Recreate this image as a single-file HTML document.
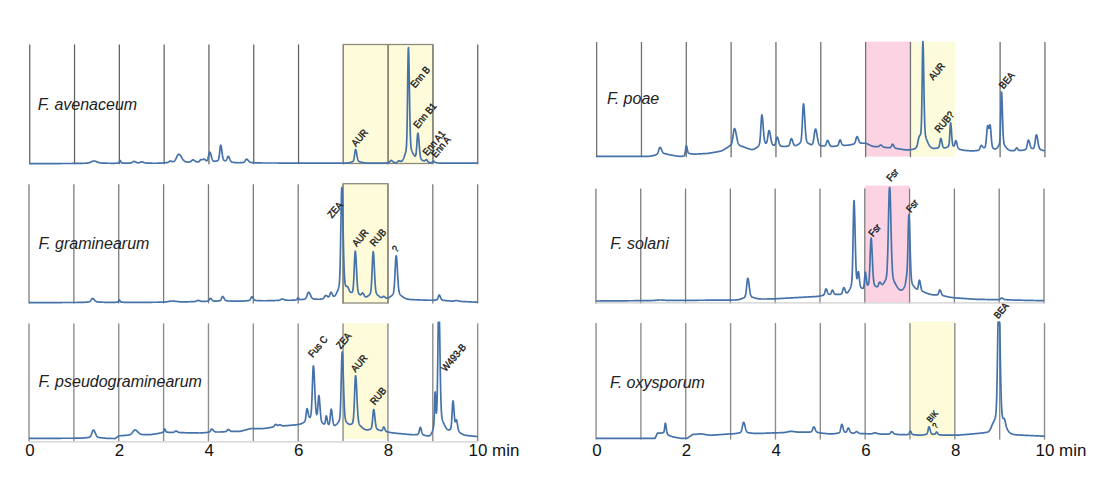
<!DOCTYPE html>
<html><head><meta charset="utf-8"><style>html,body{margin:0;padding:0;background:#fff;}svg{display:block;}</style></head>
<body><svg width="1096" height="493" viewBox="0 0 1096 493">
<rect width="1096" height="493" fill="#fff"/>
<rect x="343.34" y="44.5" width="89.6" height="119" fill="#fdfbd9"/>
<rect x="343.06" y="183.7" width="44.87" height="119.3" fill="#fdfbd9"/>
<rect x="343.06" y="323.2" width="44.87" height="115.8" fill="#fdfbd9"/>
<rect x="865.6" y="41.6" width="44.8" height="115" fill="#fbd3e3"/>
<rect x="910.4" y="41.6" width="44.8" height="115" fill="#fcfbdc"/>
<rect x="864.78" y="185.6" width="44.8" height="116.5" fill="#fbd3e3"/>
<rect x="910.0" y="321.4" width="44.85" height="117" fill="#fdfbd9"/>
<line x1="29.74" y1="44.5" x2="29.74" y2="164.20000000000002" stroke="#606060" stroke-width="1.25"/>
<line x1="74.54" y1="44.5" x2="74.54" y2="164.20000000000002" stroke="#606060" stroke-width="1.25"/>
<line x1="119.34" y1="44.5" x2="119.34" y2="164.20000000000002" stroke="#606060" stroke-width="1.25"/>
<line x1="164.14" y1="44.5" x2="164.14" y2="164.20000000000002" stroke="#606060" stroke-width="1.25"/>
<line x1="208.94" y1="44.5" x2="208.94" y2="164.20000000000002" stroke="#606060" stroke-width="1.25"/>
<line x1="253.74" y1="44.5" x2="253.74" y2="164.20000000000002" stroke="#606060" stroke-width="1.25"/>
<line x1="298.54" y1="44.5" x2="298.54" y2="164.20000000000002" stroke="#606060" stroke-width="1.25"/>
<line x1="343.34" y1="44.5" x2="343.34" y2="164.20000000000002" stroke="#606060" stroke-width="1.25"/>
<line x1="388.14" y1="44.5" x2="388.14" y2="164.20000000000002" stroke="#606060" stroke-width="1.25"/>
<line x1="432.94" y1="44.5" x2="432.94" y2="164.20000000000002" stroke="#606060" stroke-width="1.25"/>
<line x1="477.74" y1="44.5" x2="477.74" y2="164.20000000000002" stroke="#606060" stroke-width="1.25"/>
<line x1="29.00" y1="184.2" x2="29.00" y2="303.40000000000003" stroke="#7a7a7a" stroke-width="1.3"/>
<line x1="73.87" y1="184.2" x2="73.87" y2="303.40000000000003" stroke="#7a7a7a" stroke-width="1.3"/>
<line x1="118.73" y1="184.2" x2="118.73" y2="303.40000000000003" stroke="#7a7a7a" stroke-width="1.3"/>
<line x1="163.60" y1="184.2" x2="163.60" y2="303.40000000000003" stroke="#7a7a7a" stroke-width="1.3"/>
<line x1="208.46" y1="184.2" x2="208.46" y2="303.40000000000003" stroke="#7a7a7a" stroke-width="1.3"/>
<line x1="253.33" y1="184.2" x2="253.33" y2="303.40000000000003" stroke="#7a7a7a" stroke-width="1.3"/>
<line x1="298.20" y1="184.2" x2="298.20" y2="303.40000000000003" stroke="#7a7a7a" stroke-width="1.3"/>
<line x1="343.06" y1="184.2" x2="343.06" y2="303.40000000000003" stroke="#7a7a7a" stroke-width="1.3"/>
<line x1="387.93" y1="184.2" x2="387.93" y2="303.40000000000003" stroke="#7a7a7a" stroke-width="1.3"/>
<line x1="432.79" y1="184.2" x2="432.79" y2="303.40000000000003" stroke="#7a7a7a" stroke-width="1.3"/>
<line x1="477.66" y1="184.2" x2="477.66" y2="303.40000000000003" stroke="#7a7a7a" stroke-width="1.3"/>
<line x1="29.00" y1="323.4" x2="29.00" y2="441.3" stroke="#8e8e8e" stroke-width="1.4"/>
<line x1="73.87" y1="323.4" x2="73.87" y2="441.3" stroke="#8e8e8e" stroke-width="1.4"/>
<line x1="118.73" y1="323.4" x2="118.73" y2="441.3" stroke="#8e8e8e" stroke-width="1.4"/>
<line x1="163.60" y1="323.4" x2="163.60" y2="441.3" stroke="#8e8e8e" stroke-width="1.4"/>
<line x1="208.46" y1="323.4" x2="208.46" y2="441.3" stroke="#8e8e8e" stroke-width="1.4"/>
<line x1="253.33" y1="323.4" x2="253.33" y2="441.3" stroke="#8e8e8e" stroke-width="1.4"/>
<line x1="298.20" y1="323.4" x2="298.20" y2="441.3" stroke="#8e8e8e" stroke-width="1.4"/>
<line x1="343.06" y1="323.4" x2="343.06" y2="441.3" stroke="#8e8e8e" stroke-width="1.4"/>
<line x1="387.93" y1="323.4" x2="387.93" y2="441.3" stroke="#8e8e8e" stroke-width="1.4"/>
<line x1="432.79" y1="323.4" x2="432.79" y2="441.3" stroke="#8e8e8e" stroke-width="1.4"/>
<line x1="477.66" y1="323.4" x2="477.66" y2="441.3" stroke="#8e8e8e" stroke-width="1.4"/>
<line x1="29.00" y1="441.8" x2="477.66" y2="441.8" stroke="#cfcfcf" stroke-width="1.3"/>
<line x1="596.63" y1="42" x2="596.63" y2="157.20000000000002" stroke="#707070" stroke-width="1.3"/>
<line x1="641.46" y1="42" x2="641.46" y2="157.20000000000002" stroke="#707070" stroke-width="1.3"/>
<line x1="686.29" y1="42" x2="686.29" y2="157.20000000000002" stroke="#707070" stroke-width="1.3"/>
<line x1="731.12" y1="42" x2="731.12" y2="157.20000000000002" stroke="#707070" stroke-width="1.3"/>
<line x1="775.95" y1="42" x2="775.95" y2="157.20000000000002" stroke="#707070" stroke-width="1.3"/>
<line x1="820.79" y1="42" x2="820.79" y2="157.20000000000002" stroke="#707070" stroke-width="1.3"/>
<line x1="865.62" y1="42" x2="865.62" y2="157.20000000000002" stroke="#707070" stroke-width="1.3"/>
<line x1="910.45" y1="42" x2="910.45" y2="157.20000000000002" stroke="#707070" stroke-width="1.3"/>
<line x1="1000.11" y1="42" x2="1000.11" y2="157.20000000000002" stroke="#707070" stroke-width="1.3"/>
<line x1="1044.94" y1="42" x2="1044.94" y2="157.20000000000002" stroke="#707070" stroke-width="1.3"/>
<line x1="595.94" y1="188.5" x2="595.94" y2="303.6" stroke="#7e7e7e" stroke-width="1.3"/>
<line x1="640.75" y1="188.5" x2="640.75" y2="303.6" stroke="#7e7e7e" stroke-width="1.3"/>
<line x1="685.55" y1="188.5" x2="685.55" y2="303.6" stroke="#7e7e7e" stroke-width="1.3"/>
<line x1="730.36" y1="188.5" x2="730.36" y2="303.6" stroke="#7e7e7e" stroke-width="1.3"/>
<line x1="775.16" y1="188.5" x2="775.16" y2="303.6" stroke="#7e7e7e" stroke-width="1.3"/>
<line x1="819.97" y1="188.5" x2="819.97" y2="303.6" stroke="#7e7e7e" stroke-width="1.3"/>
<line x1="864.78" y1="188.5" x2="864.78" y2="303.6" stroke="#7e7e7e" stroke-width="1.3"/>
<line x1="909.58" y1="188.5" x2="909.58" y2="303.6" stroke="#7e7e7e" stroke-width="1.3"/>
<line x1="954.39" y1="188.5" x2="954.39" y2="303.6" stroke="#7e7e7e" stroke-width="1.3"/>
<line x1="999.19" y1="188.5" x2="999.19" y2="303.6" stroke="#7e7e7e" stroke-width="1.3"/>
<line x1="1044.00" y1="188.5" x2="1044.00" y2="303.6" stroke="#7e7e7e" stroke-width="1.3"/>
<line x1="595.94" y1="302.8" x2="1044.00" y2="302.8" stroke="#cfcfcf" stroke-width="1.3"/>
<line x1="596.06" y1="323.0" x2="596.06" y2="439.6" stroke="#8e8e8e" stroke-width="1.4"/>
<line x1="640.91" y1="323.0" x2="640.91" y2="439.6" stroke="#8e8e8e" stroke-width="1.4"/>
<line x1="685.75" y1="323.0" x2="685.75" y2="439.6" stroke="#8e8e8e" stroke-width="1.4"/>
<line x1="730.60" y1="323.0" x2="730.60" y2="439.6" stroke="#8e8e8e" stroke-width="1.4"/>
<line x1="775.45" y1="323.0" x2="775.45" y2="439.6" stroke="#8e8e8e" stroke-width="1.4"/>
<line x1="820.29" y1="323.0" x2="820.29" y2="439.6" stroke="#8e8e8e" stroke-width="1.4"/>
<line x1="865.14" y1="323.0" x2="865.14" y2="439.6" stroke="#8e8e8e" stroke-width="1.4"/>
<line x1="909.99" y1="323.0" x2="909.99" y2="439.6" stroke="#8e8e8e" stroke-width="1.4"/>
<line x1="954.84" y1="323.0" x2="954.84" y2="439.6" stroke="#8e8e8e" stroke-width="1.4"/>
<line x1="999.68" y1="323.0" x2="999.68" y2="439.6" stroke="#8e8e8e" stroke-width="1.4"/>
<line x1="1044.53" y1="323.0" x2="1044.53" y2="439.6" stroke="#8e8e8e" stroke-width="1.4"/>
<rect x="343.34" y="44.5" width="89.6" height="119" fill="none" stroke="#8d8a78" stroke-width="1.3"/>
<line x1="388.14" y1="44.5" x2="388.14" y2="163.5" stroke="#8d8a78" stroke-width="1.3"/>
<rect x="343.06" y="183.7" width="44.87" height="119.3" fill="none" stroke="#8d8a78" stroke-width="1.3"/>
<path d="M29.74 163.60 L29.99 163.60 L30.24 163.60 L30.49 163.60 L30.74 163.60 L30.99 163.60 L31.24 163.60 L31.49 163.60 L31.74 163.60 L31.99 163.59 L32.24 163.59 L32.49 163.59 L32.74 163.59 L32.99 163.59 L33.24 163.59 L33.49 163.59 L33.74 163.59 L33.99 163.59 L34.24 163.59 L34.49 163.59 L34.74 163.59 L34.99 163.59 L35.24 163.59 L35.49 163.59 L35.74 163.59 L35.99 163.59 L36.24 163.58 L36.49 163.58 L36.74 163.58 L36.99 163.58 L37.24 163.58 L37.49 163.58 L37.74 163.58 L37.99 163.58 L38.24 163.58 L38.49 163.58 L38.74 163.58 L38.99 163.58 L39.24 163.58 L39.49 163.58 L39.74 163.58 L39.99 163.58 L40.24 163.58 L40.49 163.57 L40.74 163.57 L40.99 163.57 L41.24 163.57 L41.49 163.57 L41.74 163.57 L41.99 163.57 L42.24 163.57 L42.49 163.57 L42.74 163.57 L42.99 163.57 L43.24 163.57 L43.49 163.57 L43.74 163.57 L43.99 163.57 L44.24 163.57 L44.49 163.57 L44.74 163.57 L44.99 163.56 L45.24 163.56 L45.49 163.56 L45.74 163.56 L45.99 163.56 L46.24 163.56 L46.49 163.56 L46.74 163.56 L46.99 163.56 L47.24 163.56 L47.49 163.56 L47.74 163.56 L47.99 163.56 L48.24 163.56 L48.49 163.56 L48.74 163.56 L48.99 163.56 L49.24 163.55 L49.49 163.55 L49.74 163.55 L49.99 163.55 L50.24 163.55 L50.49 163.55 L50.74 163.55 L50.99 163.55 L51.24 163.55 L51.49 163.55 L51.74 163.55 L51.99 163.55 L52.24 163.55 L52.49 163.55 L52.74 163.55 L52.99 163.55 L53.24 163.55 L53.49 163.55 L53.74 163.54 L53.99 163.54 L54.24 163.54 L54.49 163.54 L54.74 163.54 L54.99 163.54 L55.24 163.54 L55.49 163.54 L55.74 163.54 L55.99 163.54 L56.24 163.54 L56.49 163.54 L56.74 163.54 L56.99 163.54 L57.24 163.54 L57.49 163.54 L57.74 163.53 L57.99 163.53 L58.24 163.53 L58.49 163.53 L58.74 163.53 L58.99 163.53 L59.24 163.53 L59.49 163.53 L59.74 163.53 L59.99 163.53 L60.24 163.53 L60.49 163.53 L60.74 163.53 L60.99 163.53 L61.24 163.53 L61.49 163.52 L61.74 163.52 L61.99 163.52 L62.24 163.52 L62.49 163.52 L62.74 163.52 L62.99 163.52 L63.24 163.52 L63.49 163.52 L63.74 163.52 L63.99 163.52 L64.24 163.52 L64.49 163.52 L64.74 163.51 L64.99 163.51 L65.24 163.51 L65.49 163.51 L65.74 163.51 L65.99 163.51 L66.24 163.51 L66.49 163.51 L66.74 163.51 L66.99 163.50 L67.24 163.50 L67.49 163.50 L67.74 163.50 L67.99 163.50 L68.24 163.50 L68.49 163.50 L68.74 163.50 L68.99 163.49 L69.24 163.49 L69.49 163.49 L69.74 163.49 L69.99 163.49 L70.24 163.49 L70.49 163.48 L70.74 163.48 L70.99 163.48 L71.24 163.48 L71.49 163.48 L71.74 163.47 L71.99 163.47 L72.24 163.47 L72.49 163.47 L72.74 163.46 L72.99 163.46 L73.24 163.46 L73.49 163.46 L73.74 163.45 L73.99 163.45 L74.24 163.45 L74.49 163.44 L74.74 163.44 L74.99 163.44 L75.24 163.43 L75.49 163.43 L75.74 163.43 L75.99 163.42 L76.24 163.42 L76.49 163.42 L76.74 163.41 L76.99 163.41 L77.24 163.40 L77.49 163.40 L77.74 163.39 L77.99 163.39 L78.24 163.39 L78.49 163.38 L78.74 163.38 L78.99 163.37 L79.24 163.37 L79.49 163.36 L79.74 163.36 L79.99 163.35 L80.24 163.35 L80.49 163.34 L80.74 163.34 L80.99 163.33 L81.24 163.33 L81.49 163.32 L81.74 163.31 L81.99 163.31 L82.24 163.30 L82.49 163.30 L82.74 163.29 L82.99 163.29 L83.24 163.28 L83.49 163.27 L83.74 163.27 L83.99 163.26 L84.24 163.26 L84.49 163.25 L84.74 163.24 L84.99 163.24 L85.24 163.23 L85.49 163.22 L85.74 163.21 L85.99 163.20 L86.24 163.19 L86.49 163.18 L86.74 163.16 L86.99 163.14 L87.24 163.12 L87.49 163.10 L87.74 163.07 L87.99 163.03 L88.24 162.99 L88.49 162.95 L88.74 162.89 L88.99 162.83 L89.24 162.75 L89.49 162.67 L89.74 162.58 L89.99 162.48 L90.24 162.37 L90.49 162.26 L90.74 162.13 L90.99 162.01 L91.24 161.88 L91.49 161.75 L91.74 161.62 L91.99 161.50 L92.24 161.38 L92.49 161.28 L92.74 161.19 L92.99 161.11 L93.24 161.05 L93.49 161.02 L93.74 161.00 L93.99 161.00 L94.24 161.02 L94.49 161.05 L94.74 161.09 L94.99 161.15 L95.24 161.21 L95.49 161.29 L95.74 161.37 L95.99 161.46 L96.24 161.55 L96.49 161.65 L96.74 161.76 L96.99 161.86 L97.24 161.96 L97.49 162.06 L97.74 162.16 L97.99 162.26 L98.24 162.35 L98.49 162.44 L98.74 162.52 L98.99 162.59 L99.24 162.66 L99.49 162.73 L99.74 162.79 L99.99 162.84 L100.24 162.88 L100.49 162.93 L100.74 162.96 L100.99 163.00 L101.24 163.02 L101.49 163.05 L101.74 163.07 L101.99 163.09 L102.24 163.10 L102.49 163.12 L102.74 163.13 L102.99 163.14 L103.24 163.15 L103.49 163.16 L103.74 163.17 L103.99 163.17 L104.24 163.18 L104.49 163.18 L104.74 163.19 L104.99 163.19 L105.24 163.20 L105.49 163.20 L105.74 163.21 L105.99 163.21 L106.24 163.21 L106.49 163.22 L106.74 163.22 L106.99 163.22 L107.24 163.23 L107.49 163.23 L107.74 163.24 L107.99 163.24 L108.24 163.24 L108.49 163.25 L108.74 163.25 L108.99 163.25 L109.24 163.26 L109.49 163.26 L109.74 163.26 L109.99 163.27 L110.24 163.27 L110.49 163.27 L110.74 163.28 L110.99 163.28 L111.24 163.28 L111.49 163.28 L111.74 163.29 L111.99 163.29 L112.24 163.29 L112.49 163.29 L112.74 163.30 L112.99 163.30 L113.24 163.30 L113.49 163.30 L113.74 163.30 L113.99 163.30 L114.24 163.30 L114.49 163.29 L114.74 163.29 L114.99 163.28 L115.24 163.27 L115.49 163.27 L115.74 163.25 L115.99 163.24 L116.24 163.22 L116.49 163.20 L116.74 163.18 L116.99 163.16 L117.24 163.14 L117.49 163.11 L117.74 163.09 L117.99 163.06 L118.24 163.01 L118.49 162.93 L118.74 162.76 L118.99 162.44 L119.24 161.92 L119.49 161.26 L119.74 160.69 L119.99 160.45 L120.24 160.58 L120.49 160.97 L120.74 161.48 L120.99 161.99 L121.24 162.40 L121.49 162.69 L121.74 162.86 L121.99 162.96 L122.24 163.01 L122.49 163.04 L122.74 163.06 L122.99 163.08 L123.24 163.10 L123.49 163.12 L123.74 163.13 L123.99 163.15 L124.24 163.16 L124.49 163.18 L124.74 163.19 L124.99 163.20 L125.24 163.20 L125.49 163.21 L125.74 163.21 L125.99 163.22 L126.24 163.22 L126.49 163.22 L126.74 163.22 L126.99 163.21 L127.24 163.21 L127.49 163.21 L127.74 163.20 L127.99 163.19 L128.24 163.19 L128.49 163.18 L128.74 163.17 L128.99 163.16 L129.24 163.15 L129.49 163.14 L129.74 163.12 L129.99 163.10 L130.24 163.07 L130.49 163.04 L130.74 162.99 L130.99 162.92 L131.24 162.84 L131.49 162.74 L131.74 162.61 L131.99 162.47 L132.24 162.31 L132.49 162.13 L132.74 161.96 L132.99 161.79 L133.24 161.65 L133.49 161.53 L133.74 161.45 L133.99 161.42 L134.24 161.43 L134.49 161.47 L134.74 161.54 L134.99 161.63 L135.24 161.74 L135.49 161.86 L135.74 161.99 L135.99 162.12 L136.24 162.25 L136.49 162.37 L136.74 162.48 L136.99 162.57 L137.24 162.65 L137.49 162.72 L137.74 162.76 L137.99 162.80 L138.24 162.81 L138.49 162.81 L138.74 162.79 L138.99 162.74 L139.24 162.69 L139.49 162.61 L139.74 162.51 L139.99 162.41 L140.24 162.29 L140.49 162.17 L140.74 162.07 L140.99 161.97 L141.24 161.90 L141.49 161.86 L141.74 161.85 L141.99 161.87 L142.24 161.91 L142.49 161.98 L142.74 162.05 L142.99 162.14 L143.24 162.24 L143.49 162.34 L143.74 162.44 L143.99 162.54 L144.24 162.64 L144.49 162.72 L144.74 162.80 L144.99 162.87 L145.24 162.92 L145.49 162.97 L145.74 163.01 L145.99 163.04 L146.24 163.07 L146.49 163.09 L146.74 163.10 L146.99 163.12 L147.24 163.13 L147.49 163.14 L147.74 163.15 L147.99 163.15 L148.24 163.16 L148.49 163.17 L148.74 163.17 L148.99 163.18 L149.24 163.18 L149.49 163.19 L149.74 163.19 L149.99 163.20 L150.24 163.20 L150.49 163.21 L150.74 163.21 L150.99 163.21 L151.24 163.22 L151.49 163.22 L151.74 163.22 L151.99 163.23 L152.24 163.23 L152.49 163.23 L152.74 163.23 L152.99 163.24 L153.24 163.24 L153.49 163.24 L153.74 163.24 L153.99 163.24 L154.24 163.24 L154.49 163.24 L154.74 163.24 L154.99 163.24 L155.24 163.24 L155.49 163.24 L155.74 163.24 L155.99 163.24 L156.24 163.23 L156.49 163.23 L156.74 163.23 L156.99 163.23 L157.24 163.22 L157.49 163.22 L157.74 163.21 L157.99 163.21 L158.24 163.20 L158.49 163.20 L158.74 163.19 L158.99 163.18 L159.24 163.18 L159.49 163.17 L159.74 163.16 L159.99 163.15 L160.24 163.14 L160.49 163.13 L160.74 163.12 L160.99 163.11 L161.24 163.10 L161.49 163.08 L161.74 163.07 L161.99 163.05 L162.24 163.04 L162.49 163.02 L162.74 163.01 L162.99 162.99 L163.24 162.97 L163.49 162.95 L163.74 162.93 L163.99 162.91 L164.24 162.89 L164.49 162.86 L164.74 162.84 L164.99 162.82 L165.24 162.79 L165.49 162.77 L165.74 162.74 L165.99 162.72 L166.24 162.69 L166.49 162.66 L166.74 162.63 L166.99 162.60 L167.24 162.56 L167.49 162.50 L167.74 162.44 L167.99 162.35 L168.24 162.24 L168.49 162.09 L168.74 161.92 L168.99 161.73 L169.24 161.53 L169.49 161.33 L169.74 161.17 L169.99 161.06 L170.24 161.02 L170.49 161.02 L170.74 161.06 L170.99 161.14 L171.24 161.24 L171.49 161.35 L171.74 161.45 L171.99 161.55 L172.24 161.63 L172.49 161.68 L172.74 161.70 L172.99 161.69 L173.24 161.64 L173.49 161.56 L173.74 161.44 L173.99 161.28 L174.24 161.09 L174.49 160.85 L174.74 160.57 L174.99 160.25 L175.24 159.88 L175.49 159.47 L175.74 159.02 L175.99 158.54 L176.24 158.03 L176.49 157.50 L176.74 156.96 L176.99 156.44 L177.24 155.94 L177.49 155.47 L177.74 155.07 L177.99 154.73 L178.24 154.47 L178.49 154.30 L178.74 154.23 L178.99 154.24 L179.24 154.33 L179.49 154.47 L179.74 154.67 L179.99 154.92 L180.24 155.22 L180.49 155.56 L180.74 155.94 L180.99 156.34 L181.24 156.75 L181.49 157.18 L181.74 157.60 L181.99 158.03 L182.24 158.44 L182.49 158.83 L182.74 159.21 L182.99 159.56 L183.24 159.88 L183.49 160.18 L183.74 160.45 L183.99 160.69 L184.24 160.90 L184.49 161.09 L184.74 161.25 L184.99 161.39 L185.24 161.51 L185.49 161.61 L185.74 161.70 L185.99 161.77 L186.24 161.83 L186.49 161.88 L186.74 161.92 L186.99 161.95 L187.24 161.97 L187.49 162.00 L187.74 162.01 L187.99 162.03 L188.24 162.04 L188.49 162.04 L188.74 162.04 L188.99 162.03 L189.24 162.01 L189.49 161.97 L189.74 161.92 L189.99 161.85 L190.24 161.74 L190.49 161.61 L190.74 161.45 L190.99 161.26 L191.24 161.04 L191.49 160.81 L191.74 160.58 L191.99 160.35 L192.24 160.15 L192.49 160.00 L192.74 159.90 L192.99 159.87 L193.24 159.89 L193.49 159.96 L193.74 160.07 L193.99 160.21 L194.24 160.38 L194.49 160.56 L194.74 160.75 L194.99 160.94 L195.24 161.13 L195.49 161.31 L195.74 161.47 L195.99 161.60 L196.24 161.72 L196.49 161.82 L196.74 161.90 L196.99 161.95 L197.24 161.99 L197.49 162.02 L197.74 162.02 L197.99 162.00 L198.24 161.95 L198.49 161.87 L198.74 161.74 L198.99 161.56 L199.24 161.32 L199.49 161.03 L199.74 160.70 L199.99 160.37 L200.24 160.05 L200.49 159.79 L200.74 159.62 L200.99 159.56 L201.24 159.56 L201.49 159.61 L201.74 159.68 L201.99 159.74 L202.24 159.77 L202.49 159.74 L202.74 159.66 L202.99 159.53 L203.24 159.38 L203.49 159.23 L203.74 159.14 L203.99 159.14 L204.24 159.20 L204.49 159.33 L204.74 159.50 L204.99 159.70 L205.24 159.93 L205.49 160.16 L205.74 160.38 L205.99 160.56 L206.24 160.69 L206.49 160.76 L206.74 160.74 L206.99 160.62 L207.24 160.37 L207.49 159.95 L207.74 159.34 L207.99 158.54 L208.24 157.56 L208.49 156.42 L208.74 155.23 L208.99 154.08 L209.24 153.11 L209.49 152.42 L209.74 152.12 L209.99 152.20 L210.24 152.55 L210.49 153.14 L210.74 153.92 L210.99 154.83 L211.24 155.80 L211.49 156.76 L211.74 157.68 L211.99 158.51 L212.24 159.22 L212.49 159.80 L212.74 160.27 L212.99 160.62 L213.24 160.88 L213.49 161.06 L213.74 161.18 L213.99 161.25 L214.24 161.28 L214.49 161.29 L214.74 161.29 L214.99 161.27 L215.24 161.23 L215.49 161.20 L215.74 161.15 L215.99 161.10 L216.24 161.05 L216.49 160.99 L216.74 160.92 L216.99 160.86 L217.24 160.78 L217.49 160.69 L217.74 160.56 L217.99 160.37 L218.24 160.06 L218.49 159.55 L218.74 158.73 L218.99 157.52 L219.24 155.84 L219.49 153.73 L219.74 151.31 L219.99 148.88 L220.24 146.80 L220.49 145.44 L220.74 145.08 L220.99 145.53 L221.24 146.61 L221.49 148.18 L221.74 150.05 L221.99 152.03 L222.24 153.93 L222.49 155.63 L222.74 157.05 L222.99 158.17 L223.24 159.00 L223.49 159.60 L223.74 160.01 L223.99 160.28 L224.24 160.46 L224.49 160.59 L224.74 160.67 L224.99 160.72 L225.24 160.74 L225.49 160.72 L225.74 160.64 L225.99 160.48 L226.24 160.23 L226.49 159.85 L226.74 159.35 L226.99 158.75 L227.24 158.08 L227.49 157.42 L227.74 156.86 L227.99 156.47 L228.24 156.33 L228.49 156.43 L228.74 156.70 L228.99 157.12 L229.24 157.66 L229.49 158.27 L229.74 158.90 L229.99 159.52 L230.24 160.09 L230.49 160.60 L230.74 161.02 L230.99 161.37 L231.24 161.64 L231.49 161.85 L231.74 162.00 L231.99 162.12 L232.24 162.20 L232.49 162.27 L232.74 162.32 L232.99 162.37 L233.24 162.40 L233.49 162.44 L233.74 162.47 L233.99 162.49 L234.24 162.52 L234.49 162.54 L234.74 162.57 L234.99 162.59 L235.24 162.61 L235.49 162.63 L235.74 162.64 L235.99 162.66 L236.24 162.68 L236.49 162.69 L236.74 162.70 L236.99 162.71 L237.24 162.72 L237.49 162.72 L237.74 162.73 L237.99 162.73 L238.24 162.74 L238.49 162.74 L238.74 162.74 L238.99 162.73 L239.24 162.73 L239.49 162.73 L239.74 162.72 L239.99 162.71 L240.24 162.71 L240.49 162.70 L240.74 162.69 L240.99 162.68 L241.24 162.67 L241.49 162.66 L241.74 162.64 L241.99 162.63 L242.24 162.61 L242.49 162.59 L242.74 162.56 L242.99 162.52 L243.24 162.46 L243.49 162.38 L243.74 162.26 L243.99 162.11 L244.24 161.90 L244.49 161.65 L244.74 161.34 L244.99 160.99 L245.24 160.60 L245.49 160.22 L245.74 159.85 L245.99 159.55 L246.24 159.32 L246.49 159.21 L246.74 159.21 L246.99 159.29 L247.24 159.44 L247.49 159.66 L247.74 159.92 L247.99 160.22 L248.24 160.52 L248.49 160.83 L248.74 161.13 L248.99 161.40 L249.24 161.64 L249.49 161.85 L249.74 162.03 L249.99 162.17 L250.24 162.28 L250.49 162.37 L250.74 162.44 L250.99 162.49 L251.24 162.53 L251.49 162.57 L251.74 162.59 L251.99 162.61 L252.24 162.63 L252.49 162.64 L252.74 162.66 L252.99 162.67 L253.24 162.69 L253.49 162.70 L253.74 162.71 L253.99 162.72 L254.24 162.74 L254.49 162.75 L254.74 162.76 L254.99 162.77 L255.24 162.79 L255.49 162.80 L255.74 162.81 L255.99 162.82 L256.24 162.83 L256.49 162.84 L256.74 162.85 L256.99 162.86 L257.24 162.87 L257.49 162.88 L257.74 162.89 L257.99 162.89 L258.24 162.90 L258.49 162.91 L258.74 162.92 L258.99 162.92 L259.24 162.93 L259.49 162.93 L259.74 162.94 L259.99 162.95 L260.24 162.95 L260.49 162.96 L260.74 162.96 L260.99 162.96 L261.24 162.97 L261.49 162.97 L261.74 162.98 L261.99 162.98 L262.24 162.98 L262.49 162.98 L262.74 162.99 L262.99 162.99 L263.24 162.99 L263.49 162.99 L263.74 163.00 L263.99 163.00 L264.24 163.00 L264.49 163.00 L264.74 163.00 L264.99 163.00 L265.24 163.00 L265.49 163.01 L265.74 163.01 L265.99 163.01 L266.24 163.01 L266.49 163.01 L266.74 163.01 L266.99 163.01 L267.24 163.01 L267.49 163.01 L267.74 163.01 L267.99 163.01 L268.24 163.01 L268.49 163.01 L268.74 163.01 L268.99 163.02 L269.24 163.02 L269.49 163.02 L269.74 163.02 L269.99 163.02 L270.24 163.02 L270.49 163.02 L270.74 163.02 L270.99 163.02 L271.24 163.02 L271.49 163.02 L271.74 163.02 L271.99 163.02 L272.24 163.02 L272.49 163.02 L272.74 163.02 L272.99 163.02 L273.24 163.02 L273.49 163.02 L273.74 163.02 L273.99 163.02 L274.24 163.02 L274.49 163.02 L274.74 163.02 L274.99 163.02 L275.24 163.02 L275.49 163.02 L275.74 163.02 L275.99 163.02 L276.24 163.02 L276.49 163.02 L276.74 163.02 L276.99 163.02 L277.24 163.02 L277.49 163.02 L277.74 163.02 L277.99 163.02 L278.24 163.02 L278.49 163.03 L278.74 163.03 L278.99 163.03 L279.24 163.03 L279.49 163.03 L279.74 163.03 L279.99 163.03 L280.24 163.03 L280.49 163.03 L280.74 163.03 L280.99 163.03 L281.24 163.03 L281.49 163.03 L281.74 163.03 L281.99 163.03 L282.24 163.03 L282.49 163.03 L282.74 163.03 L282.99 163.03 L283.24 163.03 L283.49 163.03 L283.74 163.03 L283.99 163.03 L284.24 163.03 L284.49 163.03 L284.74 163.03 L284.99 163.03 L285.24 163.03 L285.49 163.03 L285.74 163.03 L285.99 163.03 L286.24 163.03 L286.49 163.03 L286.74 163.03 L286.99 163.03 L287.24 163.03 L287.49 163.03 L287.74 163.03 L287.99 163.03 L288.24 163.03 L288.49 163.03 L288.74 163.03 L288.99 163.03 L289.24 163.03 L289.49 163.03 L289.74 163.03 L289.99 163.04 L290.24 163.04 L290.49 163.04 L290.74 163.04 L290.99 163.04 L291.24 163.04 L291.49 163.04 L291.74 163.04 L291.99 163.04 L292.24 163.04 L292.49 163.04 L292.74 163.04 L292.99 163.04 L293.24 163.04 L293.49 163.04 L293.74 163.04 L293.99 163.04 L294.24 163.04 L294.49 163.04 L294.74 163.04 L294.99 163.04 L295.24 163.04 L295.49 163.04 L295.74 163.04 L295.99 163.04 L296.24 163.04 L296.49 163.04 L296.74 163.04 L296.99 163.04 L297.24 163.04 L297.49 163.04 L297.74 163.04 L297.99 163.04 L298.24 163.04 L298.49 163.04 L298.74 163.04 L298.99 163.04 L299.24 163.04 L299.49 163.04 L299.74 163.04 L299.99 163.04 L300.24 163.04 L300.49 163.04 L300.74 163.04 L300.99 163.04 L301.24 163.04 L301.49 163.05 L301.74 163.05 L301.99 163.05 L302.24 163.05 L302.49 163.05 L302.74 163.05 L302.99 163.05 L303.24 163.05 L303.49 163.05 L303.74 163.05 L303.99 163.05 L304.24 163.05 L304.49 163.05 L304.74 163.05 L304.99 163.05 L305.24 163.05 L305.49 163.05 L305.74 163.05 L305.99 163.05 L306.24 163.05 L306.49 163.05 L306.74 163.05 L306.99 163.05 L307.24 163.05 L307.49 163.05 L307.74 163.05 L307.99 163.05 L308.24 163.05 L308.49 163.05 L308.74 163.05 L308.99 163.05 L309.24 163.05 L309.49 163.05 L309.74 163.05 L309.99 163.05 L310.24 163.05 L310.49 163.05 L310.74 163.05 L310.99 163.05 L311.24 163.05 L311.49 163.05 L311.74 163.05 L311.99 163.05 L312.24 163.05 L312.49 163.05 L312.74 163.06 L312.99 163.06 L313.24 163.06 L313.49 163.06 L313.74 163.06 L313.99 163.06 L314.24 163.06 L314.49 163.06 L314.74 163.06 L314.99 163.06 L315.24 163.06 L315.49 163.06 L315.74 163.06 L315.99 163.06 L316.24 163.06 L316.49 163.06 L316.74 163.06 L316.99 163.06 L317.24 163.06 L317.49 163.06 L317.74 163.06 L317.99 163.06 L318.24 163.06 L318.49 163.06 L318.74 163.06 L318.99 163.06 L319.24 163.06 L319.49 163.06 L319.74 163.06 L319.99 163.06 L320.24 163.06 L320.49 163.06 L320.74 163.06 L320.99 163.06 L321.24 163.06 L321.49 163.06 L321.74 163.06 L321.99 163.06 L322.24 163.06 L322.49 163.06 L322.74 163.06 L322.99 163.06 L323.24 163.06 L323.49 163.06 L323.74 163.06 L323.99 163.06 L324.24 163.07 L324.49 163.07 L324.74 163.07 L324.99 163.07 L325.24 163.07 L325.49 163.07 L325.74 163.07 L325.99 163.07 L326.24 163.07 L326.49 163.07 L326.74 163.07 L326.99 163.07 L327.24 163.07 L327.49 163.07 L327.74 163.07 L327.99 163.07 L328.24 163.07 L328.49 163.07 L328.74 163.07 L328.99 163.07 L329.24 163.07 L329.49 163.07 L329.74 163.07 L329.99 163.07 L330.24 163.07 L330.49 163.07 L330.74 163.07 L330.99 163.07 L331.24 163.07 L331.49 163.07 L331.74 163.07 L331.99 163.07 L332.24 163.07 L332.49 163.07 L332.74 163.07 L332.99 163.07 L333.24 163.07 L333.49 163.07 L333.74 163.07 L333.99 163.07 L334.24 163.07 L334.49 163.07 L334.74 163.07 L334.99 163.07 L335.24 163.07 L335.49 163.08 L335.74 163.08 L335.99 163.08 L336.24 163.08 L336.49 163.08 L336.74 163.08 L336.99 163.08 L337.24 163.08 L337.49 163.08 L337.74 163.08 L337.99 163.08 L338.24 163.08 L338.49 163.08 L338.74 163.08 L338.99 163.08 L339.24 163.08 L339.49 163.08 L339.74 163.08 L339.99 163.08 L340.24 163.08 L340.49 163.08 L340.74 163.08 L340.99 163.08 L341.24 163.08 L341.49 163.08 L341.74 163.08 L341.99 163.08 L342.24 163.08 L342.49 163.08 L342.74 163.08 L342.99 163.08 L343.24 163.07 L343.49 163.07 L343.74 163.07 L343.99 163.07 L344.24 163.06 L344.49 163.06 L344.74 163.05 L344.99 163.05 L345.24 163.04 L345.49 163.03 L345.74 163.02 L345.99 163.01 L346.24 163.00 L346.49 162.99 L346.74 162.97 L346.99 162.95 L347.24 162.93 L347.49 162.90 L347.74 162.88 L347.99 162.84 L348.24 162.81 L348.49 162.77 L348.74 162.73 L348.99 162.69 L349.24 162.64 L349.49 162.58 L349.74 162.53 L349.99 162.47 L350.24 162.41 L350.49 162.34 L350.74 162.27 L350.99 162.20 L351.24 162.12 L351.49 162.05 L351.74 161.97 L351.99 161.89 L352.24 161.80 L352.49 161.70 L352.74 161.56 L352.99 161.36 L353.24 161.04 L353.49 160.55 L353.74 159.79 L353.99 158.69 L354.24 157.24 L354.49 155.48 L354.74 153.57 L354.99 151.76 L355.24 150.34 L355.49 149.58 L355.74 149.58 L355.99 150.14 L356.24 151.14 L356.49 152.47 L356.74 153.97 L356.99 155.50 L357.24 156.93 L357.49 158.17 L357.74 159.19 L357.99 159.97 L358.24 160.56 L358.49 160.97 L358.74 161.26 L358.99 161.46 L359.24 161.60 L359.49 161.70 L359.74 161.79 L359.99 161.86 L360.24 161.93 L360.49 161.99 L360.74 162.06 L360.99 162.12 L361.24 162.18 L361.49 162.24 L361.74 162.29 L361.99 162.35 L362.24 162.40 L362.49 162.45 L362.74 162.50 L362.99 162.55 L363.24 162.60 L363.49 162.64 L363.74 162.68 L363.99 162.72 L364.24 162.75 L364.49 162.79 L364.74 162.82 L364.99 162.85 L365.24 162.87 L365.49 162.90 L365.74 162.92 L365.99 162.94 L366.24 162.96 L366.49 162.98 L366.74 162.99 L366.99 163.00 L367.24 163.02 L367.49 163.03 L367.74 163.04 L367.99 163.05 L368.24 163.05 L368.49 163.06 L368.74 163.07 L368.99 163.07 L369.24 163.08 L369.49 163.08 L369.74 163.09 L369.99 163.09 L370.24 163.09 L370.49 163.09 L370.74 163.10 L370.99 163.10 L371.24 163.10 L371.49 163.10 L371.74 163.10 L371.99 163.10 L372.24 163.10 L372.49 163.10 L372.74 163.11 L372.99 163.11 L373.24 163.11 L373.49 163.11 L373.74 163.11 L373.99 163.11 L374.24 163.11 L374.49 163.11 L374.74 163.11 L374.99 163.11 L375.24 163.11 L375.49 163.11 L375.74 163.11 L375.99 163.11 L376.24 163.11 L376.49 163.11 L376.74 163.11 L376.99 163.11 L377.24 163.11 L377.49 163.11 L377.74 163.11 L377.99 163.11 L378.24 163.11 L378.49 163.11 L378.74 163.11 L378.99 163.11 L379.24 163.11 L379.49 163.10 L379.74 163.10 L379.99 163.10 L380.24 163.10 L380.49 163.10 L380.74 163.10 L380.99 163.09 L381.24 163.09 L381.49 163.09 L381.74 163.08 L381.99 163.08 L382.24 163.07 L382.49 163.07 L382.74 163.06 L382.99 163.06 L383.24 163.05 L383.49 163.04 L383.74 163.03 L383.99 163.03 L384.24 163.02 L384.49 163.01 L384.74 163.00 L384.99 162.99 L385.24 162.98 L385.49 162.96 L385.74 162.95 L385.99 162.94 L386.24 162.93 L386.49 162.91 L386.74 162.90 L386.99 162.88 L387.24 162.87 L387.49 162.85 L387.74 162.83 L387.99 162.80 L388.24 162.76 L388.49 162.71 L388.74 162.62 L388.99 162.50 L389.24 162.33 L389.49 162.11 L389.74 161.84 L389.99 161.53 L390.24 161.21 L390.49 160.90 L390.74 160.65 L390.99 160.49 L391.24 160.44 L391.49 160.49 L391.74 160.60 L391.99 160.78 L392.24 161.00 L392.49 161.24 L392.74 161.49 L392.99 161.73 L393.24 161.94 L393.49 162.12 L393.74 162.27 L393.99 162.39 L394.24 162.47 L394.49 162.53 L394.74 162.57 L394.99 162.60 L395.24 162.61 L395.49 162.62 L395.74 162.62 L395.99 162.60 L396.24 162.57 L396.49 162.52 L396.74 162.44 L396.99 162.32 L397.24 162.15 L397.49 161.95 L397.74 161.71 L397.99 161.45 L398.24 161.19 L398.49 160.97 L398.74 160.82 L398.99 160.74 L399.24 160.74 L399.49 160.79 L399.74 160.89 L399.99 161.00 L400.24 161.12 L400.49 161.24 L400.74 161.32 L400.99 161.36 L401.24 161.35 L401.49 161.28 L401.74 161.15 L401.99 160.96 L402.24 160.70 L402.49 160.38 L402.74 160.01 L402.99 159.58 L403.24 159.09 L403.49 158.55 L403.74 157.96 L403.99 157.32 L404.24 156.63 L404.49 155.91 L404.74 155.15 L404.99 154.37 L405.24 153.56 L405.49 152.71 L405.74 151.76 L405.99 150.56 L406.24 148.74 L406.49 145.61 L406.74 140.11 L406.99 130.96 L407.24 117.24 L407.49 99.24 L407.74 79.13 L407.99 60.96 L408.24 49.41 L408.49 47.59 L408.74 53.10 L408.99 64.04 L409.24 78.46 L409.49 94.11 L409.74 108.97 L409.99 121.64 L410.24 131.53 L410.49 138.65 L410.74 143.45 L410.99 146.53 L411.24 148.48 L411.49 149.73 L411.74 150.59 L411.99 151.26 L412.24 151.84 L412.49 152.36 L412.74 152.86 L412.99 153.33 L413.24 153.79 L413.49 154.22 L413.74 154.62 L413.99 155.00 L414.24 155.35 L414.49 155.66 L414.74 155.91 L414.99 156.07 L415.24 156.08 L415.49 155.84 L415.74 155.21 L415.99 154.02 L416.24 152.12 L416.49 149.42 L416.74 145.99 L416.99 142.14 L417.24 138.34 L417.49 135.25 L417.74 133.44 L417.99 133.27 L418.24 134.28 L418.49 136.19 L418.74 138.81 L418.99 141.87 L419.24 145.07 L419.49 148.17 L419.74 150.96 L419.99 153.33 L420.24 155.24 L420.49 156.71 L420.74 157.80 L420.99 158.57 L421.24 159.11 L421.49 159.49 L421.74 159.77 L421.99 159.97 L422.24 160.13 L422.49 160.27 L422.74 160.40 L422.99 160.52 L423.24 160.63 L423.49 160.73 L423.74 160.83 L423.99 160.90 L424.24 160.93 L424.49 160.91 L424.74 160.82 L424.99 160.64 L425.24 160.38 L425.49 160.08 L425.74 159.79 L425.99 159.58 L426.24 159.52 L426.49 159.63 L426.74 159.85 L426.99 160.16 L427.24 160.52 L427.49 160.90 L427.74 161.27 L427.99 161.59 L428.24 161.85 L428.49 162.06 L428.74 162.22 L428.99 162.33 L429.24 162.41 L429.49 162.47 L429.74 162.52 L429.99 162.55 L430.24 162.58 L430.49 162.60 L430.74 162.62 L430.99 162.63 L431.24 162.64 L431.49 162.62 L431.74 162.57 L431.99 162.48 L432.24 162.34 L432.49 162.13 L432.74 161.88 L432.99 161.62 L433.24 161.38 L433.49 161.23 L433.74 161.20 L433.99 161.26 L434.24 161.41 L434.49 161.61 L434.74 161.84 L434.99 162.07 L435.24 162.29 L435.49 162.47 L435.74 162.62 L435.99 162.73 L436.24 162.81 L436.49 162.87 L436.74 162.91 L436.99 162.93 L437.24 162.95 L437.49 162.97 L437.74 162.98 L437.99 162.99 L438.24 163.01 L438.49 163.02 L438.74 163.03 L438.99 163.04 L439.24 163.05 L439.49 163.06 L439.74 163.07 L439.99 163.07 L440.24 163.08 L440.49 163.09 L440.74 163.10 L440.99 163.10 L441.24 163.11 L441.49 163.12 L441.74 163.12 L441.99 163.13 L442.24 163.13 L442.49 163.14 L442.74 163.14 L442.99 163.14 L443.24 163.15 L443.49 163.15 L443.74 163.15 L443.99 163.15 L444.24 163.16 L444.49 163.16 L444.74 163.16 L444.99 163.16 L445.24 163.16 L445.49 163.17 L445.74 163.17 L445.99 163.17 L446.24 163.17 L446.49 163.17 L446.74 163.17 L446.99 163.17 L447.24 163.17 L447.49 163.17 L447.74 163.17 L447.99 163.17 L448.24 163.17 L448.49 163.17 L448.74 163.17 L448.99 163.17 L449.24 163.17 L449.49 163.17 L449.74 163.18 L449.99 163.18 L450.24 163.18 L450.49 163.18 L450.74 163.18 L450.99 163.18 L451.24 163.18 L451.49 163.18 L451.74 163.18 L451.99 163.18 L452.24 163.18 L452.49 163.18 L452.74 163.18 L452.99 163.18 L453.24 163.18 L453.49 163.18 L453.74 163.18 L453.99 163.18 L454.24 163.18 L454.49 163.18 L454.74 163.18 L454.99 163.18 L455.24 163.18 L455.49 163.18 L455.74 163.18 L455.99 163.18 L456.24 163.18 L456.49 163.18 L456.74 163.18 L456.99 163.18 L457.24 163.18 L457.49 163.18 L457.74 163.18 L457.99 163.18 L458.24 163.18 L458.49 163.18 L458.74 163.18 L458.99 163.18 L459.24 163.18 L459.49 163.18 L459.74 163.18 L459.99 163.18 L460.24 163.18 L460.49 163.18 L460.74 163.19 L460.99 163.19 L461.24 163.19 L461.49 163.19 L461.74 163.19 L461.99 163.19 L462.24 163.19 L462.49 163.19 L462.74 163.19 L462.99 163.19 L463.24 163.19 L463.49 163.19 L463.74 163.19 L463.99 163.19 L464.24 163.19 L464.49 163.19 L464.74 163.19 L464.99 163.19 L465.24 163.19 L465.49 163.19 L465.74 163.19 L465.99 163.19 L466.24 163.19 L466.49 163.19 L466.74 163.19 L466.99 163.19 L467.24 163.19 L467.49 163.19 L467.74 163.19 L467.99 163.19 L468.24 163.19 L468.49 163.19 L468.74 163.19 L468.99 163.19 L469.24 163.19 L469.49 163.19 L469.74 163.19 L469.99 163.19 L470.24 163.19 L470.49 163.19 L470.74 163.19 L470.99 163.19 L471.24 163.19 L471.49 163.19 L471.74 163.19 L471.99 163.19 L472.24 163.20 L472.49 163.20 L472.74 163.20 L472.99 163.20 L473.24 163.20 L473.49 163.20 L473.74 163.20 L473.99 163.20 L474.24 163.20 L474.49 163.20 L474.74 163.20 L474.99 163.20 L475.24 163.20 L475.49 163.20 L475.74 163.20 L475.99 163.20 L476.24 163.20 L476.49 163.20 L476.74 163.20 L476.99 163.20 L477.24 163.20 L477.49 163.20 L477.74 163.20" fill="none" stroke="#4672aa" stroke-width="1.7" stroke-linejoin="round"/>
<path d="M29.00 302.60 L29.25 302.60 L29.50 302.60 L29.75 302.60 L30.00 302.60 L30.25 302.60 L30.50 302.60 L30.75 302.60 L31.00 302.60 L31.25 302.60 L31.50 302.60 L31.75 302.60 L32.00 302.59 L32.25 302.59 L32.50 302.59 L32.75 302.59 L33.00 302.59 L33.25 302.59 L33.50 302.59 L33.75 302.59 L34.00 302.59 L34.25 302.59 L34.50 302.59 L34.75 302.59 L35.00 302.59 L35.25 302.59 L35.50 302.59 L35.75 302.59 L36.00 302.59 L36.25 302.58 L36.50 302.58 L36.75 302.58 L37.00 302.58 L37.25 302.58 L37.50 302.58 L37.75 302.58 L38.00 302.58 L38.25 302.58 L38.50 302.58 L38.75 302.58 L39.00 302.58 L39.25 302.58 L39.50 302.58 L39.75 302.58 L40.00 302.58 L40.25 302.58 L40.50 302.57 L40.75 302.57 L41.00 302.57 L41.25 302.57 L41.50 302.57 L41.75 302.57 L42.00 302.57 L42.25 302.57 L42.50 302.57 L42.75 302.57 L43.00 302.57 L43.25 302.57 L43.50 302.57 L43.75 302.57 L44.00 302.57 L44.25 302.57 L44.50 302.57 L44.75 302.57 L45.00 302.56 L45.25 302.56 L45.50 302.56 L45.75 302.56 L46.00 302.56 L46.25 302.56 L46.50 302.56 L46.75 302.56 L47.00 302.56 L47.25 302.56 L47.50 302.56 L47.75 302.56 L48.00 302.56 L48.25 302.56 L48.50 302.56 L48.75 302.56 L49.00 302.56 L49.25 302.55 L49.50 302.55 L49.75 302.55 L50.00 302.55 L50.25 302.55 L50.50 302.55 L50.75 302.55 L51.00 302.55 L51.25 302.55 L51.50 302.55 L51.75 302.55 L52.00 302.55 L52.25 302.55 L52.50 302.55 L52.75 302.55 L53.00 302.55 L53.25 302.55 L53.50 302.55 L53.75 302.54 L54.00 302.54 L54.25 302.54 L54.50 302.54 L54.75 302.54 L55.00 302.54 L55.25 302.54 L55.50 302.54 L55.75 302.54 L56.00 302.54 L56.25 302.54 L56.50 302.54 L56.75 302.54 L57.00 302.54 L57.25 302.54 L57.50 302.54 L57.75 302.54 L58.00 302.53 L58.25 302.53 L58.50 302.53 L58.75 302.53 L59.00 302.53 L59.25 302.53 L59.50 302.53 L59.75 302.53 L60.00 302.53 L60.25 302.53 L60.50 302.53 L60.75 302.53 L61.00 302.53 L61.25 302.53 L61.50 302.53 L61.75 302.53 L62.00 302.53 L62.25 302.52 L62.50 302.52 L62.75 302.52 L63.00 302.52 L63.25 302.52 L63.50 302.52 L63.75 302.52 L64.00 302.52 L64.25 302.52 L64.50 302.52 L64.75 302.52 L65.00 302.52 L65.25 302.52 L65.50 302.52 L65.75 302.52 L66.00 302.52 L66.25 302.52 L66.50 302.52 L66.75 302.51 L67.00 302.51 L67.25 302.51 L67.50 302.51 L67.75 302.51 L68.00 302.51 L68.25 302.51 L68.50 302.51 L68.75 302.51 L69.00 302.51 L69.25 302.51 L69.50 302.51 L69.75 302.51 L70.00 302.51 L70.25 302.51 L70.50 302.51 L70.75 302.50 L71.00 302.50 L71.25 302.50 L71.50 302.50 L71.75 302.50 L72.00 302.50 L72.25 302.50 L72.50 302.50 L72.75 302.50 L73.00 302.50 L73.25 302.50 L73.50 302.50 L73.75 302.50 L74.00 302.49 L74.25 302.49 L74.50 302.49 L74.75 302.49 L75.00 302.49 L75.25 302.49 L75.50 302.49 L75.75 302.49 L76.00 302.48 L76.25 302.48 L76.50 302.48 L76.75 302.48 L77.00 302.48 L77.25 302.47 L77.50 302.47 L77.75 302.47 L78.00 302.47 L78.25 302.46 L78.50 302.46 L78.75 302.46 L79.00 302.45 L79.25 302.45 L79.50 302.44 L79.75 302.44 L80.00 302.43 L80.25 302.43 L80.50 302.42 L80.75 302.42 L81.00 302.41 L81.25 302.40 L81.50 302.39 L81.75 302.39 L82.00 302.38 L82.25 302.37 L82.50 302.36 L82.75 302.35 L83.00 302.34 L83.25 302.33 L83.50 302.32 L83.75 302.31 L84.00 302.29 L84.25 302.28 L84.50 302.27 L84.75 302.25 L85.00 302.24 L85.25 302.23 L85.50 302.21 L85.75 302.20 L86.00 302.18 L86.25 302.17 L86.50 302.15 L86.75 302.14 L87.00 302.12 L87.25 302.10 L87.50 302.09 L87.75 302.07 L88.00 302.04 L88.25 302.01 L88.50 301.98 L88.75 301.93 L89.00 301.86 L89.25 301.77 L89.50 301.65 L89.75 301.49 L90.00 301.29 L90.25 301.05 L90.50 300.77 L90.75 300.44 L91.00 300.09 L91.25 299.73 L91.50 299.37 L91.75 299.05 L92.00 298.79 L92.25 298.60 L92.50 298.51 L92.75 298.51 L93.00 298.58 L93.25 298.72 L93.50 298.90 L93.75 299.13 L94.00 299.39 L94.25 299.68 L94.50 299.97 L94.75 300.25 L95.00 300.53 L95.25 300.78 L95.50 301.01 L95.75 301.21 L96.00 301.38 L96.25 301.52 L96.50 301.64 L96.75 301.74 L97.00 301.81 L97.25 301.87 L97.50 301.92 L97.75 301.96 L98.00 301.99 L98.25 302.01 L98.50 302.03 L98.75 302.05 L99.00 302.06 L99.25 302.07 L99.50 302.09 L99.75 302.10 L100.00 302.11 L100.25 302.12 L100.50 302.13 L100.75 302.14 L101.00 302.16 L101.25 302.17 L101.50 302.18 L101.75 302.19 L102.00 302.20 L102.25 302.21 L102.50 302.22 L102.75 302.23 L103.00 302.24 L103.25 302.25 L103.50 302.25 L103.75 302.26 L104.00 302.27 L104.25 302.28 L104.50 302.29 L104.75 302.29 L105.00 302.30 L105.25 302.31 L105.50 302.31 L105.75 302.32 L106.00 302.33 L106.25 302.33 L106.50 302.34 L106.75 302.34 L107.00 302.35 L107.25 302.35 L107.50 302.36 L107.75 302.36 L108.00 302.36 L108.25 302.37 L108.50 302.37 L108.75 302.37 L109.00 302.38 L109.25 302.38 L109.50 302.38 L109.75 302.38 L110.00 302.39 L110.25 302.39 L110.50 302.39 L110.75 302.39 L111.00 302.39 L111.25 302.39 L111.50 302.39 L111.75 302.39 L112.00 302.39 L112.25 302.39 L112.50 302.39 L112.75 302.39 L113.00 302.39 L113.25 302.39 L113.50 302.38 L113.75 302.38 L114.00 302.37 L114.25 302.37 L114.50 302.36 L114.75 302.35 L115.00 302.34 L115.25 302.32 L115.50 302.31 L115.75 302.29 L116.00 302.27 L116.25 302.25 L116.50 302.23 L116.75 302.21 L117.00 302.18 L117.25 302.16 L117.50 302.11 L117.75 302.03 L118.00 301.87 L118.25 301.56 L118.50 301.09 L118.75 300.55 L119.00 300.12 L119.25 300.00 L119.50 300.17 L119.75 300.53 L120.00 300.96 L120.25 301.37 L120.50 301.68 L120.75 301.90 L121.00 302.02 L121.25 302.09 L121.50 302.13 L121.75 302.16 L122.00 302.18 L122.25 302.20 L122.50 302.21 L122.75 302.23 L123.00 302.24 L123.25 302.26 L123.50 302.27 L123.75 302.29 L124.00 302.30 L124.25 302.31 L124.50 302.32 L124.75 302.33 L125.00 302.34 L125.25 302.34 L125.50 302.35 L125.75 302.35 L126.00 302.36 L126.25 302.36 L126.50 302.36 L126.75 302.37 L127.00 302.37 L127.25 302.37 L127.50 302.37 L127.75 302.37 L128.00 302.37 L128.25 302.37 L128.50 302.37 L128.75 302.37 L129.00 302.37 L129.25 302.37 L129.50 302.37 L129.75 302.37 L130.00 302.37 L130.25 302.37 L130.50 302.37 L130.75 302.37 L131.00 302.37 L131.25 302.37 L131.50 302.37 L131.75 302.36 L132.00 302.36 L132.25 302.36 L132.50 302.36 L132.75 302.36 L133.00 302.36 L133.25 302.36 L133.50 302.36 L133.75 302.36 L134.00 302.36 L134.25 302.36 L134.50 302.36 L134.75 302.36 L135.00 302.36 L135.25 302.36 L135.50 302.35 L135.75 302.35 L136.00 302.35 L136.25 302.35 L136.50 302.35 L136.75 302.35 L137.00 302.35 L137.25 302.35 L137.50 302.35 L137.75 302.35 L138.00 302.35 L138.25 302.35 L138.50 302.35 L138.75 302.35 L139.00 302.34 L139.25 302.34 L139.50 302.34 L139.75 302.34 L140.00 302.34 L140.25 302.34 L140.50 302.34 L140.75 302.34 L141.00 302.34 L141.25 302.34 L141.50 302.34 L141.75 302.34 L142.00 302.33 L142.25 302.33 L142.50 302.33 L142.75 302.33 L143.00 302.33 L143.25 302.33 L143.50 302.33 L143.75 302.33 L144.00 302.33 L144.25 302.33 L144.50 302.32 L144.75 302.32 L145.00 302.32 L145.25 302.32 L145.50 302.32 L145.75 302.32 L146.00 302.32 L146.25 302.32 L146.50 302.31 L146.75 302.31 L147.00 302.31 L147.25 302.31 L147.50 302.31 L147.75 302.31 L148.00 302.31 L148.25 302.30 L148.50 302.30 L148.75 302.30 L149.00 302.30 L149.25 302.30 L149.50 302.30 L149.75 302.30 L150.00 302.29 L150.25 302.29 L150.50 302.29 L150.75 302.29 L151.00 302.29 L151.25 302.28 L151.50 302.28 L151.75 302.28 L152.00 302.28 L152.25 302.28 L152.50 302.27 L152.75 302.27 L153.00 302.27 L153.25 302.27 L153.50 302.27 L153.75 302.26 L154.00 302.26 L154.25 302.26 L154.50 302.26 L154.75 302.26 L155.00 302.25 L155.25 302.25 L155.50 302.25 L155.75 302.25 L156.00 302.24 L156.25 302.24 L156.50 302.24 L156.75 302.24 L157.00 302.23 L157.25 302.23 L157.50 302.23 L157.75 302.23 L158.00 302.22 L158.25 302.22 L158.50 302.22 L158.75 302.22 L159.00 302.21 L159.25 302.21 L159.50 302.21 L159.75 302.21 L160.00 302.20 L160.25 302.20 L160.50 302.19 L160.75 302.19 L161.00 302.18 L161.25 302.17 L161.50 302.17 L161.75 302.16 L162.00 302.16 L162.25 302.15 L162.50 302.14 L162.75 302.14 L163.00 302.13 L163.25 302.12 L163.50 302.11 L163.75 302.10 L164.00 302.09 L164.25 302.08 L164.50 302.06 L164.75 302.05 L165.00 302.03 L165.25 302.01 L165.50 301.99 L165.75 301.97 L166.00 301.95 L166.25 301.92 L166.50 301.89 L166.75 301.85 L167.00 301.81 L167.25 301.77 L167.50 301.73 L167.75 301.69 L168.00 301.64 L168.25 301.59 L168.50 301.54 L168.75 301.48 L169.00 301.43 L169.25 301.38 L169.50 301.32 L169.75 301.27 L170.00 301.22 L170.25 301.18 L170.50 301.14 L170.75 301.10 L171.00 301.07 L171.25 301.04 L171.50 301.02 L171.75 301.01 L172.00 301.00 L172.25 301.00 L172.50 301.00 L172.75 301.01 L173.00 301.02 L173.25 301.04 L173.50 301.06 L173.75 301.08 L174.00 301.10 L174.25 301.13 L174.50 301.16 L174.75 301.19 L175.00 301.23 L175.25 301.26 L175.50 301.30 L175.75 301.34 L176.00 301.37 L176.25 301.41 L176.50 301.45 L176.75 301.48 L177.00 301.51 L177.25 301.55 L177.50 301.58 L177.75 301.61 L178.00 301.63 L178.25 301.66 L178.50 301.68 L178.75 301.70 L179.00 301.72 L179.25 301.74 L179.50 301.76 L179.75 301.77 L180.00 301.79 L180.25 301.80 L180.50 301.81 L180.75 301.81 L181.00 301.82 L181.25 301.83 L181.50 301.83 L181.75 301.84 L182.00 301.84 L182.25 301.84 L182.50 301.84 L182.75 301.84 L183.00 301.84 L183.25 301.84 L183.50 301.84 L183.75 301.84 L184.00 301.84 L184.25 301.84 L184.50 301.84 L184.75 301.83 L185.00 301.83 L185.25 301.83 L185.50 301.82 L185.75 301.82 L186.00 301.82 L186.25 301.81 L186.50 301.81 L186.75 301.81 L187.00 301.80 L187.25 301.80 L187.50 301.79 L187.75 301.79 L188.00 301.79 L188.25 301.78 L188.50 301.78 L188.75 301.77 L189.00 301.76 L189.25 301.76 L189.50 301.75 L189.75 301.75 L190.00 301.74 L190.25 301.74 L190.50 301.73 L190.75 301.72 L191.00 301.72 L191.25 301.71 L191.50 301.70 L191.75 301.70 L192.00 301.69 L192.25 301.68 L192.50 301.68 L192.75 301.67 L193.00 301.66 L193.25 301.65 L193.50 301.64 L193.75 301.63 L194.00 301.61 L194.25 301.59 L194.50 301.57 L194.75 301.53 L195.00 301.49 L195.25 301.43 L195.50 301.36 L195.75 301.27 L196.00 301.17 L196.25 301.06 L196.50 300.94 L196.75 300.82 L197.00 300.71 L197.25 300.61 L197.50 300.53 L197.75 300.48 L198.00 300.46 L198.25 300.46 L198.50 300.49 L198.75 300.54 L199.00 300.60 L199.25 300.67 L199.50 300.76 L199.75 300.85 L200.00 300.93 L200.25 301.02 L200.50 301.10 L200.75 301.17 L201.00 301.23 L201.25 301.29 L201.50 301.33 L201.75 301.36 L202.00 301.39 L202.25 301.41 L202.50 301.42 L202.75 301.42 L203.00 301.43 L203.25 301.42 L203.50 301.42 L203.75 301.41 L204.00 301.40 L204.25 301.39 L204.50 301.38 L204.75 301.37 L205.00 301.36 L205.25 301.34 L205.50 301.33 L205.75 301.31 L206.00 301.30 L206.25 301.28 L206.50 301.27 L206.75 301.25 L207.00 301.22 L207.25 301.19 L207.50 301.14 L207.75 301.07 L208.00 300.96 L208.25 300.81 L208.50 300.60 L208.75 300.32 L209.00 299.99 L209.25 299.62 L209.50 299.24 L209.75 298.89 L210.00 298.62 L210.25 298.47 L210.50 298.45 L210.75 298.53 L211.00 298.69 L211.25 298.92 L211.50 299.19 L211.75 299.48 L212.00 299.79 L212.25 300.06 L212.50 300.31 L212.75 300.52 L213.00 300.69 L213.25 300.82 L213.50 300.91 L213.75 300.98 L214.00 301.03 L214.25 301.05 L214.50 301.07 L214.75 301.08 L215.00 301.08 L215.25 301.08 L215.50 301.07 L215.75 301.07 L216.00 301.06 L216.25 301.05 L216.50 301.04 L216.75 301.03 L217.00 301.02 L217.25 301.00 L217.50 300.99 L217.75 300.97 L218.00 300.95 L218.25 300.94 L218.50 300.92 L218.75 300.90 L219.00 300.87 L219.25 300.84 L219.50 300.80 L219.75 300.73 L220.00 300.63 L220.25 300.48 L220.50 300.25 L220.75 299.94 L221.00 299.53 L221.25 299.02 L221.50 298.45 L221.75 297.84 L222.00 297.28 L222.25 296.82 L222.50 296.54 L222.75 296.47 L223.00 296.57 L223.25 296.81 L223.50 297.16 L223.75 297.59 L224.00 298.06 L224.25 298.54 L224.50 299.00 L224.75 299.41 L225.00 299.77 L225.25 300.06 L225.50 300.29 L225.75 300.47 L226.00 300.60 L226.25 300.69 L226.50 300.76 L226.75 300.81 L227.00 300.84 L227.25 300.87 L227.50 300.90 L227.75 300.92 L228.00 300.93 L228.25 300.95 L228.50 300.97 L228.75 300.98 L229.00 301.00 L229.25 301.02 L229.50 301.03 L229.75 301.05 L230.00 301.06 L230.25 301.07 L230.50 301.09 L230.75 301.10 L231.00 301.11 L231.25 301.12 L231.50 301.13 L231.75 301.14 L232.00 301.15 L232.25 301.16 L232.50 301.17 L232.75 301.18 L233.00 301.18 L233.25 301.19 L233.50 301.20 L233.75 301.20 L234.00 301.20 L234.25 301.21 L234.50 301.21 L234.75 301.21 L235.00 301.22 L235.25 301.22 L235.50 301.22 L235.75 301.22 L236.00 301.22 L236.25 301.22 L236.50 301.22 L236.75 301.22 L237.00 301.22 L237.25 301.22 L237.50 301.22 L237.75 301.21 L238.00 301.21 L238.25 301.21 L238.50 301.21 L238.75 301.20 L239.00 301.20 L239.25 301.20 L239.50 301.19 L239.75 301.19 L240.00 301.18 L240.25 301.18 L240.50 301.17 L240.75 301.16 L241.00 301.16 L241.25 301.15 L241.50 301.14 L241.75 301.13 L242.00 301.12 L242.25 301.11 L242.50 301.10 L242.75 301.09 L243.00 301.08 L243.25 301.07 L243.50 301.05 L243.75 301.04 L244.00 301.02 L244.25 301.01 L244.50 300.99 L244.75 300.97 L245.00 300.95 L245.25 300.93 L245.50 300.91 L245.75 300.89 L246.00 300.87 L246.25 300.85 L246.50 300.82 L246.75 300.80 L247.00 300.77 L247.25 300.75 L247.50 300.72 L247.75 300.70 L248.00 300.67 L248.25 300.64 L248.50 300.60 L248.75 300.55 L249.00 300.48 L249.25 300.38 L249.50 300.23 L249.75 300.02 L250.00 299.73 L250.25 299.36 L250.50 298.91 L250.75 298.40 L251.00 297.89 L251.25 297.42 L251.50 297.05 L251.75 296.84 L252.00 296.81 L252.25 296.91 L252.50 297.13 L252.75 297.44 L253.00 297.81 L253.25 298.22 L253.50 298.62 L253.75 299.00 L254.00 299.34 L254.25 299.63 L254.50 299.87 L254.75 300.05 L255.00 300.19 L255.25 300.29 L255.50 300.37 L255.75 300.42 L256.00 300.46 L256.25 300.48 L256.50 300.50 L256.75 300.52 L257.00 300.54 L257.25 300.55 L257.50 300.56 L257.75 300.58 L258.00 300.59 L258.25 300.60 L258.50 300.61 L258.75 300.62 L259.00 300.64 L259.25 300.65 L259.50 300.66 L259.75 300.67 L260.00 300.68 L260.25 300.68 L260.50 300.69 L260.75 300.70 L261.00 300.71 L261.25 300.71 L261.50 300.72 L261.75 300.73 L262.00 300.73 L262.25 300.73 L262.50 300.74 L262.75 300.74 L263.00 300.74 L263.25 300.75 L263.50 300.75 L263.75 300.75 L264.00 300.75 L264.25 300.75 L264.50 300.75 L264.75 300.75 L265.00 300.75 L265.25 300.75 L265.50 300.75 L265.75 300.75 L266.00 300.74 L266.25 300.74 L266.50 300.74 L266.75 300.74 L267.00 300.73 L267.25 300.73 L267.50 300.72 L267.75 300.72 L268.00 300.72 L268.25 300.71 L268.50 300.71 L268.75 300.70 L269.00 300.70 L269.25 300.69 L269.50 300.69 L269.75 300.68 L270.00 300.68 L270.25 300.67 L270.50 300.66 L270.75 300.66 L271.00 300.65 L271.25 300.64 L271.50 300.64 L271.75 300.63 L272.00 300.62 L272.25 300.61 L272.50 300.61 L272.75 300.60 L273.00 300.59 L273.25 300.58 L273.50 300.57 L273.75 300.57 L274.00 300.56 L274.25 300.55 L274.50 300.54 L274.75 300.53 L275.00 300.52 L275.25 300.51 L275.50 300.50 L275.75 300.49 L276.00 300.48 L276.25 300.47 L276.50 300.46 L276.75 300.45 L277.00 300.44 L277.25 300.43 L277.50 300.42 L277.75 300.40 L278.00 300.39 L278.25 300.37 L278.50 300.34 L278.75 300.31 L279.00 300.26 L279.25 300.20 L279.50 300.13 L279.75 300.04 L280.00 299.94 L280.25 299.82 L280.50 299.68 L280.75 299.54 L281.00 299.40 L281.25 299.27 L281.50 299.16 L281.75 299.07 L282.00 299.02 L282.25 299.00 L282.50 299.01 L282.75 299.05 L283.00 299.11 L283.25 299.19 L283.50 299.28 L283.75 299.38 L284.00 299.48 L284.25 299.59 L284.50 299.69 L284.75 299.79 L285.00 299.87 L285.25 299.95 L285.50 300.01 L285.75 300.07 L286.00 300.11 L286.25 300.15 L286.50 300.17 L286.75 300.20 L287.00 300.21 L287.25 300.22 L287.50 300.23 L287.75 300.24 L288.00 300.24 L288.25 300.24 L288.50 300.24 L288.75 300.24 L289.00 300.24 L289.25 300.24 L289.50 300.24 L289.75 300.24 L290.00 300.24 L290.25 300.24 L290.50 300.24 L290.75 300.24 L291.00 300.24 L291.25 300.23 L291.50 300.23 L291.75 300.23 L292.00 300.22 L292.25 300.22 L292.50 300.21 L292.75 300.20 L293.00 300.19 L293.25 300.18 L293.50 300.17 L293.75 300.15 L294.00 300.13 L294.25 300.11 L294.50 300.09 L294.75 300.07 L295.00 300.04 L295.25 300.01 L295.50 299.98 L295.75 299.95 L296.00 299.91 L296.25 299.87 L296.50 299.79 L296.75 299.64 L297.00 299.37 L297.25 298.95 L297.50 298.43 L297.75 297.97 L298.00 297.78 L298.25 297.88 L298.50 298.16 L298.75 298.54 L299.00 298.91 L299.25 299.20 L299.50 299.39 L299.75 299.50 L300.00 299.55 L300.25 299.56 L300.50 299.56 L300.75 299.55 L301.00 299.54 L301.25 299.53 L301.50 299.51 L301.75 299.50 L302.00 299.48 L302.25 299.46 L302.50 299.44 L302.75 299.42 L303.00 299.40 L303.25 299.38 L303.50 299.35 L303.75 299.31 L304.00 299.27 L304.25 299.22 L304.50 299.15 L304.75 299.05 L305.00 298.92 L305.25 298.74 L305.50 298.50 L305.75 298.20 L306.00 297.81 L306.25 297.33 L306.50 296.77 L306.75 296.13 L307.00 295.44 L307.25 294.72 L307.50 294.02 L307.75 293.39 L308.00 292.86 L308.25 292.50 L308.50 292.31 L308.75 292.31 L309.00 292.45 L309.25 292.71 L309.50 293.07 L309.75 293.52 L310.00 294.03 L310.25 294.58 L310.50 295.15 L310.75 295.71 L311.00 296.24 L311.25 296.73 L311.50 297.17 L311.75 297.56 L312.00 297.89 L312.25 298.17 L312.50 298.40 L312.75 298.58 L313.00 298.72 L313.25 298.83 L313.50 298.92 L313.75 298.98 L314.00 299.03 L314.25 299.07 L314.50 299.10 L314.75 299.12 L315.00 299.14 L315.25 299.15 L315.50 299.17 L315.75 299.18 L316.00 299.19 L316.25 299.20 L316.50 299.21 L316.75 299.22 L317.00 299.22 L317.25 299.23 L317.50 299.23 L317.75 299.24 L318.00 299.24 L318.25 299.24 L318.50 299.25 L318.75 299.25 L319.00 299.25 L319.25 299.24 L319.50 299.24 L319.75 299.24 L320.00 299.23 L320.25 299.22 L320.50 299.21 L320.75 299.20 L321.00 299.18 L321.25 299.16 L321.50 299.13 L321.75 299.09 L322.00 299.04 L322.25 298.97 L322.50 298.87 L322.75 298.74 L323.00 298.57 L323.25 298.36 L323.50 298.10 L323.75 297.80 L324.00 297.47 L324.25 297.10 L324.50 296.73 L324.75 296.37 L325.00 296.04 L325.25 295.78 L325.50 295.59 L325.75 295.49 L326.00 295.47 L326.25 295.52 L326.50 295.63 L326.75 295.78 L327.00 295.97 L327.25 296.19 L327.50 296.41 L327.75 296.63 L328.00 296.81 L328.25 296.93 L328.50 296.96 L328.75 296.88 L329.00 296.65 L329.25 296.26 L329.50 295.71 L329.75 295.03 L330.00 294.27 L330.25 293.52 L330.50 292.89 L330.75 292.45 L331.00 292.29 L331.25 292.36 L331.50 292.61 L331.75 293.00 L332.00 293.50 L332.25 294.05 L332.50 294.61 L332.75 295.13 L333.00 295.57 L333.25 295.92 L333.50 296.16 L333.75 296.29 L334.00 296.32 L334.25 296.26 L334.50 296.12 L334.75 295.91 L335.00 295.64 L335.25 295.32 L335.50 294.96 L335.75 294.56 L336.00 294.12 L336.25 293.65 L336.50 293.16 L336.75 292.63 L337.00 292.08 L337.25 291.51 L337.50 290.92 L337.75 290.31 L338.00 289.69 L338.25 289.03 L338.50 288.30 L338.75 287.42 L339.00 286.22 L339.25 284.40 L339.50 281.52 L339.75 276.99 L340.00 270.14 L340.25 260.47 L340.50 247.89 L340.75 233.01 L341.00 217.31 L341.25 202.97 L341.50 192.44 L341.75 187.71 L342.00 188.85 L342.25 193.89 L342.50 202.17 L342.75 212.77 L343.00 224.58 L343.25 236.53 L343.50 247.74 L343.75 257.59 L344.00 265.75 L344.25 272.17 L344.50 276.99 L344.75 280.45 L345.00 282.83 L345.25 284.41 L345.50 285.41 L345.75 285.99 L346.00 286.29 L346.25 286.39 L346.50 286.38 L346.75 286.32 L347.00 286.29 L347.25 286.34 L347.50 286.54 L347.75 286.88 L348.00 287.33 L348.25 287.86 L348.50 288.45 L348.75 289.06 L349.00 289.68 L349.25 290.26 L349.50 290.79 L349.75 291.25 L350.00 291.63 L350.25 291.94 L350.50 292.17 L350.75 292.33 L351.00 292.44 L351.25 292.49 L351.50 292.50 L351.75 292.45 L352.00 292.31 L352.25 292.04 L352.50 291.55 L352.75 290.69 L353.00 289.26 L353.25 287.06 L353.50 283.86 L353.75 279.57 L354.00 274.25 L354.25 268.23 L354.50 262.12 L354.75 256.72 L355.00 252.84 L355.25 251.14 L355.50 251.76 L355.75 254.22 L356.00 258.20 L356.25 263.20 L356.50 268.65 L356.75 274.03 L357.00 278.93 L357.25 283.08 L357.50 286.40 L357.75 288.91 L358.00 290.72 L358.25 291.98 L358.50 292.84 L358.75 293.43 L359.00 293.85 L359.25 294.16 L359.50 294.39 L359.75 294.58 L360.00 294.72 L360.25 294.80 L360.50 294.81 L360.75 294.74 L361.00 294.57 L361.25 294.30 L361.50 293.97 L361.75 293.60 L362.00 293.26 L362.25 293.00 L362.50 292.89 L362.75 292.95 L363.00 293.16 L363.25 293.47 L363.50 293.87 L363.75 294.33 L364.00 294.81 L364.25 295.28 L364.50 295.71 L364.75 296.09 L365.00 296.39 L365.25 296.63 L365.50 296.79 L365.75 296.88 L366.00 296.91 L366.25 296.90 L366.50 296.84 L366.75 296.75 L367.00 296.63 L367.25 296.49 L367.50 296.34 L367.75 296.16 L368.00 295.98 L368.25 295.78 L368.50 295.57 L368.75 295.36 L369.00 295.13 L369.25 294.90 L369.50 294.64 L369.75 294.35 L370.00 293.98 L370.25 293.47 L370.50 292.69 L370.75 291.49 L371.00 289.66 L371.25 286.97 L371.50 283.24 L371.75 278.43 L372.00 272.71 L372.25 266.51 L372.50 260.53 L372.75 255.60 L373.00 252.49 L373.25 251.73 L373.50 253.07 L373.75 256.15 L374.00 260.57 L374.25 265.78 L374.50 271.23 L374.75 276.43 L375.00 281.04 L375.25 284.84 L375.50 287.82 L375.75 290.02 L376.00 291.59 L376.25 292.68 L376.50 293.42 L376.75 293.94 L377.00 294.32 L377.25 294.62 L377.50 294.87 L377.75 295.11 L378.00 295.32 L378.25 295.54 L378.50 295.74 L378.75 295.94 L379.00 296.14 L379.25 296.33 L379.50 296.51 L379.75 296.69 L380.00 296.86 L380.25 297.02 L380.50 297.16 L380.75 297.29 L381.00 297.39 L381.25 297.47 L381.50 297.50 L381.75 297.49 L382.00 297.42 L382.25 297.30 L382.50 297.14 L382.75 296.94 L383.00 296.74 L383.25 296.56 L383.50 296.45 L383.75 296.42 L384.00 296.48 L384.25 296.60 L384.50 296.76 L384.75 296.96 L385.00 297.19 L385.25 297.41 L385.50 297.62 L385.75 297.80 L386.00 297.95 L386.25 298.07 L386.50 298.14 L386.75 298.18 L387.00 298.19 L387.25 298.17 L387.50 298.13 L387.75 298.06 L388.00 297.98 L388.25 297.89 L388.50 297.78 L388.75 297.66 L389.00 297.53 L389.25 297.39 L389.50 297.24 L389.75 297.08 L390.00 296.92 L390.25 296.74 L390.50 296.56 L390.75 296.37 L391.00 296.17 L391.25 295.97 L391.50 295.76 L391.75 295.55 L392.00 295.33 L392.25 295.10 L392.50 294.83 L392.75 294.51 L393.00 294.07 L393.25 293.45 L393.50 292.52 L393.75 291.14 L394.00 289.13 L394.25 286.35 L394.50 282.71 L394.75 278.23 L395.00 273.14 L395.25 267.83 L395.50 262.84 L395.75 258.82 L396.00 256.32 L396.25 255.71 L396.50 256.80 L396.75 259.31 L397.00 262.96 L397.25 267.34 L397.50 272.03 L397.75 276.62 L398.00 280.81 L398.25 284.41 L398.50 287.34 L398.75 289.61 L399.00 291.29 L399.25 292.50 L399.50 293.36 L399.75 293.95 L400.00 294.39 L400.25 294.72 L400.50 294.99 L400.75 295.23 L401.00 295.45 L401.25 295.66 L401.50 295.86 L401.75 296.06 L402.00 296.25 L402.25 296.44 L402.50 296.63 L402.75 296.81 L403.00 296.99 L403.25 297.16 L403.50 297.32 L403.75 297.48 L404.00 297.63 L404.25 297.78 L404.50 297.92 L404.75 298.05 L405.00 298.17 L405.25 298.29 L405.50 298.40 L405.75 298.50 L406.00 298.60 L406.25 298.69 L406.50 298.77 L406.75 298.85 L407.00 298.92 L407.25 298.99 L407.50 299.05 L407.75 299.11 L408.00 299.16 L408.25 299.21 L408.50 299.25 L408.75 299.29 L409.00 299.33 L409.25 299.36 L409.50 299.40 L409.75 299.43 L410.00 299.45 L410.25 299.48 L410.50 299.50 L410.75 299.52 L411.00 299.54 L411.25 299.56 L411.50 299.58 L411.75 299.59 L412.00 299.61 L412.25 299.62 L412.50 299.63 L412.75 299.65 L413.00 299.66 L413.25 299.67 L413.50 299.68 L413.75 299.69 L414.00 299.71 L414.25 299.72 L414.50 299.73 L414.75 299.74 L415.00 299.75 L415.25 299.76 L415.50 299.77 L415.75 299.78 L416.00 299.78 L416.25 299.79 L416.50 299.80 L416.75 299.81 L417.00 299.82 L417.25 299.83 L417.50 299.84 L417.75 299.85 L418.00 299.86 L418.25 299.87 L418.50 299.88 L418.75 299.89 L419.00 299.90 L419.25 299.91 L419.50 299.91 L419.75 299.92 L420.00 299.93 L420.25 299.94 L420.50 299.95 L420.75 299.96 L421.00 299.97 L421.25 299.98 L421.50 299.99 L421.75 300.00 L422.00 300.01 L422.25 300.02 L422.50 300.02 L422.75 300.03 L423.00 300.04 L423.25 300.05 L423.50 300.06 L423.75 300.07 L424.00 300.08 L424.25 300.09 L424.50 300.10 L424.75 300.11 L425.00 300.12 L425.25 300.13 L425.50 300.13 L425.75 300.14 L426.00 300.15 L426.25 300.16 L426.50 300.17 L426.75 300.18 L427.00 300.19 L427.25 300.19 L427.50 300.20 L427.75 300.21 L428.00 300.22 L428.25 300.22 L428.50 300.23 L428.75 300.24 L429.00 300.24 L429.25 300.25 L429.50 300.25 L429.75 300.26 L430.00 300.26 L430.25 300.26 L430.50 300.27 L430.75 300.27 L431.00 300.27 L431.25 300.27 L431.50 300.26 L431.75 300.26 L432.00 300.25 L432.25 300.25 L432.50 300.24 L432.75 300.23 L433.00 300.22 L433.25 300.20 L433.50 300.19 L433.75 300.17 L434.00 300.16 L434.25 300.14 L434.50 300.12 L434.75 300.10 L435.00 300.08 L435.25 300.05 L435.50 300.03 L435.75 300.00 L436.00 299.97 L436.25 299.93 L436.50 299.87 L436.75 299.77 L437.00 299.60 L437.25 299.34 L437.50 298.95 L437.75 298.40 L438.00 297.72 L438.25 296.95 L438.50 296.17 L438.75 295.52 L439.00 295.10 L439.25 295.01 L439.50 295.17 L439.75 295.54 L440.00 296.06 L440.25 296.67 L440.50 297.32 L440.75 297.95 L441.00 298.51 L441.25 298.97 L441.50 299.34 L441.75 299.63 L442.00 299.83 L442.25 299.98 L442.50 300.08 L442.75 300.16 L443.00 300.21 L443.25 300.26 L443.50 300.30 L443.75 300.34 L444.00 300.37 L444.25 300.41 L444.50 300.44 L444.75 300.48 L445.00 300.51 L445.25 300.54 L445.50 300.58 L445.75 300.61 L446.00 300.64 L446.25 300.67 L446.50 300.69 L446.75 300.72 L447.00 300.75 L447.25 300.77 L447.50 300.79 L447.75 300.82 L448.00 300.84 L448.25 300.86 L448.50 300.88 L448.75 300.90 L449.00 300.91 L449.25 300.93 L449.50 300.95 L449.75 300.96 L450.00 300.98 L450.25 300.99 L450.50 301.00 L450.75 301.01 L451.00 301.02 L451.25 301.03 L451.50 301.04 L451.75 301.05 L452.00 301.06 L452.25 301.06 L452.50 301.07 L452.75 301.07 L453.00 301.06 L453.25 301.05 L453.50 301.03 L453.75 301.00 L454.00 300.96 L454.25 300.91 L454.50 300.85 L454.75 300.79 L455.00 300.72 L455.25 300.65 L455.50 300.59 L455.75 300.54 L456.00 300.51 L456.25 300.50 L456.50 300.50 L456.75 300.53 L457.00 300.56 L457.25 300.61 L457.50 300.67 L457.75 300.73 L458.00 300.80 L458.25 300.88 L458.50 300.95 L458.75 301.02 L459.00 301.08 L459.25 301.14 L459.50 301.20 L459.75 301.25 L460.00 301.29 L460.25 301.33 L460.50 301.36 L460.75 301.38 L461.00 301.41 L461.25 301.43 L461.50 301.45 L461.75 301.46 L462.00 301.48 L462.25 301.49 L462.50 301.51 L462.75 301.52 L463.00 301.53 L463.25 301.55 L463.50 301.56 L463.75 301.57 L464.00 301.58 L464.25 301.60 L464.50 301.61 L464.75 301.62 L465.00 301.63 L465.25 301.65 L465.50 301.66 L465.75 301.67 L466.00 301.68 L466.25 301.69 L466.50 301.71 L466.75 301.72 L467.00 301.73 L467.25 301.74 L467.50 301.75 L467.75 301.77 L468.00 301.78 L468.25 301.79 L468.50 301.80 L468.75 301.81 L469.00 301.82 L469.25 301.84 L469.50 301.85 L469.75 301.86 L470.00 301.87 L470.25 301.88 L470.50 301.89 L470.75 301.90 L471.00 301.91 L471.25 301.93 L471.50 301.94 L471.75 301.95 L472.00 301.96 L472.25 301.97 L472.50 301.98 L472.75 301.99 L473.00 302.00 L473.25 302.01 L473.50 302.02 L473.75 302.03 L474.00 302.04 L474.25 302.05 L474.50 302.06 L474.75 302.07 L475.00 302.08 L475.25 302.09 L475.50 302.11 L475.75 302.12 L476.00 302.13 L476.25 302.14 L476.50 302.15 L476.75 302.16 L477.00 302.17 L477.25 302.18 L477.50 302.19 L477.75 302.20" fill="none" stroke="#4672aa" stroke-width="1.7" stroke-linejoin="round"/>
<path d="M29.00 438.40 L29.25 438.40 L29.50 438.40 L29.75 438.40 L30.00 438.40 L30.25 438.40 L30.50 438.40 L30.75 438.40 L31.00 438.39 L31.25 438.39 L31.50 438.39 L31.75 438.39 L32.00 438.39 L32.25 438.39 L32.50 438.39 L32.75 438.39 L33.00 438.39 L33.25 438.39 L33.50 438.38 L33.75 438.38 L34.00 438.38 L34.25 438.38 L34.50 438.38 L34.75 438.38 L35.00 438.38 L35.25 438.38 L35.50 438.38 L35.75 438.38 L36.00 438.37 L36.25 438.37 L36.50 438.37 L36.75 438.37 L37.00 438.37 L37.25 438.37 L37.50 438.37 L37.75 438.37 L38.00 438.37 L38.25 438.37 L38.50 438.36 L38.75 438.36 L39.00 438.36 L39.25 438.36 L39.50 438.36 L39.75 438.36 L40.00 438.36 L40.25 438.36 L40.50 438.36 L40.75 438.36 L41.00 438.35 L41.25 438.35 L41.50 438.35 L41.75 438.35 L42.00 438.35 L42.25 438.35 L42.50 438.35 L42.75 438.35 L43.00 438.35 L43.25 438.35 L43.50 438.34 L43.75 438.34 L44.00 438.34 L44.25 438.34 L44.50 438.34 L44.75 438.34 L45.00 438.34 L45.25 438.34 L45.50 438.34 L45.75 438.34 L46.00 438.33 L46.25 438.33 L46.50 438.33 L46.75 438.33 L47.00 438.33 L47.25 438.33 L47.50 438.33 L47.75 438.33 L48.00 438.33 L48.25 438.33 L48.50 438.32 L48.75 438.32 L49.00 438.32 L49.25 438.32 L49.50 438.32 L49.75 438.32 L50.00 438.32 L50.25 438.32 L50.50 438.32 L50.75 438.32 L51.00 438.32 L51.25 438.31 L51.50 438.31 L51.75 438.31 L52.00 438.31 L52.25 438.31 L52.50 438.31 L52.75 438.31 L53.00 438.31 L53.25 438.31 L53.50 438.31 L53.75 438.30 L54.00 438.30 L54.25 438.30 L54.50 438.30 L54.75 438.30 L55.00 438.30 L55.25 438.30 L55.50 438.30 L55.75 438.30 L56.00 438.30 L56.25 438.29 L56.50 438.29 L56.75 438.29 L57.00 438.29 L57.25 438.29 L57.50 438.29 L57.75 438.29 L58.00 438.29 L58.25 438.29 L58.50 438.29 L58.75 438.28 L59.00 438.28 L59.25 438.28 L59.50 438.28 L59.75 438.28 L60.00 438.28 L60.25 438.28 L60.50 438.28 L60.75 438.28 L61.00 438.28 L61.25 438.27 L61.50 438.27 L61.75 438.27 L62.00 438.27 L62.25 438.27 L62.50 438.27 L62.75 438.27 L63.00 438.27 L63.25 438.27 L63.50 438.27 L63.75 438.26 L64.00 438.26 L64.25 438.26 L64.50 438.26 L64.75 438.26 L65.00 438.26 L65.25 438.26 L65.50 438.26 L65.75 438.26 L66.00 438.26 L66.25 438.25 L66.50 438.25 L66.75 438.25 L67.00 438.25 L67.25 438.25 L67.50 438.25 L67.75 438.25 L68.00 438.25 L68.25 438.25 L68.50 438.25 L68.75 438.24 L69.00 438.24 L69.25 438.24 L69.50 438.24 L69.75 438.24 L70.00 438.24 L70.25 438.24 L70.50 438.24 L70.75 438.24 L71.00 438.24 L71.25 438.23 L71.50 438.23 L71.75 438.23 L72.00 438.23 L72.25 438.23 L72.50 438.23 L72.75 438.23 L73.00 438.23 L73.25 438.22 L73.50 438.22 L73.75 438.22 L74.00 438.22 L74.25 438.22 L74.50 438.22 L74.75 438.21 L75.00 438.21 L75.25 438.21 L75.50 438.21 L75.75 438.21 L76.00 438.20 L76.25 438.20 L76.50 438.20 L76.75 438.19 L77.00 438.19 L77.25 438.19 L77.50 438.18 L77.75 438.18 L78.00 438.18 L78.25 438.17 L78.50 438.16 L78.75 438.16 L79.00 438.15 L79.25 438.15 L79.50 438.14 L79.75 438.13 L80.00 438.12 L80.25 438.12 L80.50 438.11 L80.75 438.10 L81.00 438.10 L81.25 438.09 L81.50 438.08 L81.75 438.07 L82.00 438.06 L82.25 438.05 L82.50 438.03 L82.75 438.02 L83.00 438.01 L83.25 437.99 L83.50 437.97 L83.75 437.96 L84.00 437.94 L84.25 437.92 L84.50 437.90 L84.75 437.88 L85.00 437.85 L85.25 437.83 L85.50 437.81 L85.75 437.78 L86.00 437.76 L86.25 437.73 L86.50 437.70 L86.75 437.68 L87.00 437.65 L87.25 437.62 L87.50 437.59 L87.75 437.56 L88.00 437.53 L88.25 437.50 L88.50 437.46 L88.75 437.42 L89.00 437.36 L89.25 437.29 L89.50 437.20 L89.75 437.07 L90.00 436.89 L90.25 436.65 L90.50 436.34 L90.75 435.95 L91.00 435.46 L91.25 434.88 L91.50 434.22 L91.75 433.49 L92.00 432.72 L92.25 431.97 L92.50 431.28 L92.75 430.70 L93.00 430.27 L93.25 430.04 L93.50 430.01 L93.75 430.14 L94.00 430.40 L94.25 430.78 L94.50 431.25 L94.75 431.80 L95.00 432.39 L95.25 433.01 L95.50 433.62 L95.75 434.21 L96.00 434.76 L96.25 435.25 L96.50 435.69 L96.75 436.07 L97.00 436.39 L97.25 436.65 L97.50 436.87 L97.75 437.04 L98.00 437.18 L98.25 437.29 L98.50 437.37 L98.75 437.44 L99.00 437.50 L99.25 437.54 L99.50 437.58 L99.75 437.62 L100.00 437.65 L100.25 437.68 L100.50 437.71 L100.75 437.74 L101.00 437.77 L101.25 437.80 L101.50 437.82 L101.75 437.85 L102.00 437.88 L102.25 437.90 L102.50 437.93 L102.75 437.96 L103.00 437.98 L103.25 438.01 L103.50 438.03 L103.75 438.05 L104.00 438.08 L104.25 438.10 L104.50 438.12 L104.75 438.14 L105.00 438.16 L105.25 438.18 L105.50 438.20 L105.75 438.22 L106.00 438.24 L106.25 438.26 L106.50 438.28 L106.75 438.29 L107.00 438.31 L107.25 438.32 L107.50 438.34 L107.75 438.35 L108.00 438.36 L108.25 438.38 L108.50 438.39 L108.75 438.40 L109.00 438.41 L109.25 438.42 L109.50 438.43 L109.75 438.44 L110.00 438.45 L110.25 438.46 L110.50 438.46 L110.75 438.47 L111.00 438.48 L111.25 438.48 L111.50 438.49 L111.75 438.49 L112.00 438.50 L112.25 438.50 L112.50 438.51 L112.75 438.51 L113.00 438.51 L113.25 438.52 L113.50 438.52 L113.75 438.52 L114.00 438.52 L114.25 438.53 L114.50 438.53 L114.75 438.53 L115.00 438.53 L115.25 438.36 L115.50 438.20 L115.75 438.03 L116.00 437.87 L116.25 437.70 L116.50 437.53 L116.75 437.37 L117.00 437.20 L117.25 437.03 L117.50 436.86 L117.75 436.70 L118.00 436.53 L118.25 436.36 L118.50 436.19 L118.75 436.02 L119.00 435.85 L119.25 435.84 L119.50 435.82 L119.75 435.80 L120.00 435.79 L120.25 435.77 L120.50 435.75 L120.75 435.74 L121.00 435.72 L121.25 435.70 L121.50 435.68 L121.75 435.66 L122.00 435.64 L122.25 435.63 L122.50 435.61 L122.75 435.59 L123.00 435.57 L123.25 435.55 L123.50 435.53 L123.75 435.51 L124.00 435.49 L124.25 435.47 L124.50 435.45 L124.75 435.42 L125.00 435.40 L125.25 435.38 L125.50 435.36 L125.75 435.34 L126.00 435.32 L126.25 435.30 L126.50 435.27 L126.75 435.25 L127.00 435.23 L127.25 435.20 L127.50 435.18 L127.75 435.15 L128.00 435.12 L128.25 435.09 L128.50 435.05 L128.75 435.01 L129.00 434.95 L129.25 434.89 L129.50 434.82 L129.75 434.74 L130.00 434.64 L130.25 434.51 L130.50 434.37 L130.75 434.21 L131.00 434.02 L131.25 433.80 L131.50 433.56 L131.75 433.29 L132.00 433.00 L132.25 432.68 L132.50 432.35 L132.75 432.02 L133.00 431.68 L133.25 431.35 L133.50 431.04 L133.75 430.75 L134.00 430.50 L134.25 430.29 L134.50 430.14 L134.75 430.04 L135.00 430.00 L135.25 430.01 L135.50 430.06 L135.75 430.15 L136.00 430.27 L136.25 430.43 L136.50 430.61 L136.75 430.82 L137.00 431.04 L137.25 431.28 L137.50 431.54 L137.75 431.79 L138.00 432.05 L138.25 432.30 L138.50 432.54 L138.75 432.78 L139.00 433.00 L139.25 433.21 L139.50 433.40 L139.75 433.57 L140.00 433.73 L140.25 433.87 L140.50 433.99 L140.75 434.10 L141.00 434.19 L141.25 434.27 L141.50 434.34 L141.75 434.40 L142.00 434.45 L142.25 434.49 L142.50 434.52 L142.75 434.55 L143.00 434.57 L143.25 434.59 L143.50 434.60 L143.75 434.61 L144.00 434.62 L144.25 434.63 L144.50 434.64 L144.75 434.64 L145.00 434.65 L145.25 434.65 L145.50 434.66 L145.75 434.66 L146.00 434.66 L146.25 434.66 L146.50 434.67 L146.75 434.67 L147.00 434.67 L147.25 434.68 L147.50 434.68 L147.75 434.68 L148.00 434.68 L148.25 434.68 L148.50 434.69 L148.75 434.69 L149.00 434.69 L149.25 434.69 L149.50 434.69 L149.75 434.70 L150.00 434.70 L150.25 434.66 L150.50 434.63 L150.75 434.59 L151.00 434.55 L151.25 434.52 L151.50 434.48 L151.75 434.45 L152.00 434.41 L152.25 434.37 L152.50 434.34 L152.75 434.30 L153.00 434.26 L153.25 434.23 L153.50 434.19 L153.75 434.15 L154.00 434.11 L154.25 434.08 L154.50 434.04 L154.75 434.00 L155.00 433.96 L155.25 433.92 L155.50 433.88 L155.75 433.84 L156.00 433.80 L156.25 433.76 L156.50 433.72 L156.75 433.68 L157.00 433.64 L157.25 433.60 L157.50 433.56 L157.75 433.52 L158.00 433.48 L158.25 433.43 L158.50 433.39 L158.75 433.35 L159.00 433.30 L159.25 433.25 L159.50 433.20 L159.75 433.15 L160.00 433.09 L160.25 433.04 L160.50 432.98 L160.75 432.92 L161.00 432.85 L161.25 432.79 L161.50 432.72 L161.75 432.64 L162.00 432.57 L162.25 432.50 L162.50 432.42 L162.75 432.34 L163.00 432.23 L163.25 432.07 L163.50 431.79 L163.75 431.29 L164.00 430.56 L164.25 429.77 L164.50 429.15 L164.75 428.98 L165.00 429.23 L165.25 429.75 L165.50 430.39 L165.75 430.99 L166.00 431.46 L166.25 431.78 L166.50 431.96 L166.75 432.07 L167.00 432.13 L167.25 432.17 L167.50 432.20 L167.75 432.22 L168.00 432.25 L168.25 432.27 L168.50 432.30 L168.75 432.32 L169.00 432.34 L169.25 432.36 L169.50 432.37 L169.75 432.39 L170.00 432.40 L170.25 432.41 L170.50 432.42 L170.75 432.42 L171.00 432.43 L171.25 432.43 L171.50 432.43 L171.75 432.44 L172.00 432.44 L172.25 432.43 L172.50 432.43 L172.75 432.42 L173.00 432.40 L173.25 432.37 L173.50 432.33 L173.75 432.26 L174.00 432.17 L174.25 432.04 L174.50 431.88 L174.75 431.69 L175.00 431.49 L175.25 431.30 L175.50 431.14 L175.75 431.03 L176.00 431.00 L176.25 431.03 L176.50 431.10 L176.75 431.22 L177.00 431.36 L177.25 431.52 L177.50 431.69 L177.75 431.85 L178.00 432.00 L178.25 432.13 L178.50 432.23 L178.75 432.32 L179.00 432.39 L179.25 432.44 L179.50 432.48 L179.75 432.51 L180.00 432.53 L180.25 432.54 L180.50 432.56 L180.75 432.57 L181.00 432.58 L181.25 432.59 L181.50 432.60 L181.75 432.61 L182.00 432.62 L182.25 432.63 L182.50 432.64 L182.75 432.65 L183.00 432.66 L183.25 432.67 L183.50 432.68 L183.75 432.69 L184.00 432.70 L184.25 432.71 L184.50 432.72 L184.75 432.73 L185.00 432.73 L185.25 432.74 L185.50 432.75 L185.75 432.76 L186.00 432.76 L186.25 432.77 L186.50 432.78 L186.75 432.78 L187.00 432.79 L187.25 432.80 L187.50 432.80 L187.75 432.81 L188.00 432.81 L188.25 432.82 L188.50 432.82 L188.75 432.83 L189.00 432.83 L189.25 432.84 L189.50 432.84 L189.75 432.85 L190.00 432.85 L190.25 432.86 L190.50 432.86 L190.75 432.87 L191.00 432.87 L191.25 432.87 L191.50 432.88 L191.75 432.88 L192.00 432.89 L192.25 432.89 L192.50 432.89 L192.75 432.90 L193.00 432.90 L193.25 432.90 L193.50 432.91 L193.75 432.91 L194.00 432.92 L194.25 432.92 L194.50 432.92 L194.75 432.93 L195.00 432.93 L195.25 432.93 L195.50 432.94 L195.75 432.94 L196.00 432.94 L196.25 432.95 L196.50 432.95 L196.75 432.95 L197.00 432.96 L197.25 432.96 L197.50 432.96 L197.75 432.97 L198.00 432.97 L198.25 432.97 L198.50 432.97 L198.75 432.98 L199.00 432.98 L199.25 432.98 L199.50 432.98 L199.75 432.99 L200.00 432.99 L200.25 432.98 L200.50 432.96 L200.75 432.95 L201.00 432.94 L201.25 432.92 L201.50 432.91 L201.75 432.90 L202.00 432.88 L202.25 432.87 L202.50 432.85 L202.75 432.83 L203.00 432.82 L203.25 432.80 L203.50 432.78 L203.75 432.76 L204.00 432.74 L204.25 432.72 L204.50 432.70 L204.75 432.68 L205.00 432.66 L205.25 432.63 L205.50 432.61 L205.75 432.58 L206.00 432.56 L206.25 432.53 L206.50 432.51 L206.75 432.48 L207.00 432.45 L207.25 432.43 L207.50 432.40 L207.75 432.37 L208.00 432.34 L208.25 432.30 L208.50 432.26 L208.75 432.21 L209.00 432.13 L209.25 432.03 L209.50 431.88 L209.75 431.67 L210.00 431.39 L210.25 431.04 L210.50 430.64 L210.75 430.20 L211.00 429.77 L211.25 429.39 L211.50 429.13 L211.75 429.01 L212.00 429.03 L212.25 429.15 L212.50 429.36 L212.75 429.63 L213.00 429.95 L213.25 430.29 L213.50 430.62 L213.75 430.92 L214.00 431.18 L214.25 431.40 L214.50 431.57 L214.75 431.70 L215.00 431.80 L215.25 431.87 L215.50 431.91 L215.75 431.94 L216.00 431.96 L216.25 431.98 L216.50 431.99 L216.75 431.99 L217.00 432.00 L217.25 432.00 L217.50 432.00 L217.75 432.00 L218.00 432.00 L218.25 432.00 L218.50 432.00 L218.75 432.00 L219.00 432.00 L219.25 432.00 L219.50 432.00 L219.75 431.99 L220.00 431.99 L220.25 431.98 L220.50 431.98 L220.75 431.97 L221.00 431.96 L221.25 431.95 L221.50 431.94 L221.75 431.93 L222.00 431.92 L222.25 431.91 L222.50 431.89 L222.75 431.88 L223.00 431.86 L223.25 431.85 L223.50 431.83 L223.75 431.81 L224.00 431.79 L224.25 431.77 L224.50 431.75 L224.75 431.73 L225.00 431.70 L225.25 431.66 L225.50 431.60 L225.75 431.51 L226.00 431.40 L226.25 431.24 L226.50 431.03 L226.75 430.78 L227.00 430.49 L227.25 430.19 L227.50 429.91 L227.75 429.68 L228.00 429.54 L228.25 429.49 L228.50 429.53 L228.75 429.64 L229.00 429.80 L229.25 429.99 L229.50 430.21 L229.75 430.43 L230.00 430.65 L230.25 430.84 L230.50 431.00 L230.75 431.13 L231.00 431.23 L231.25 431.31 L231.50 431.36 L231.75 431.40 L232.00 431.42 L232.25 431.44 L232.50 431.45 L232.75 431.45 L233.00 431.45 L233.25 431.45 L233.50 431.45 L233.75 431.45 L234.00 431.45 L234.25 431.45 L234.50 431.45 L234.75 431.45 L235.00 431.45 L235.25 431.45 L235.50 431.45 L235.75 431.45 L236.00 431.44 L236.25 431.44 L236.50 431.44 L236.75 431.44 L237.00 431.43 L237.25 431.43 L237.50 431.42 L237.75 431.42 L238.00 431.42 L238.25 431.41 L238.50 431.41 L238.75 431.40 L239.00 431.40 L239.25 431.39 L239.50 431.38 L239.75 431.38 L240.00 431.37 L240.25 431.31 L240.50 431.24 L240.75 431.18 L241.00 431.12 L241.25 431.05 L241.50 430.99 L241.75 430.92 L242.00 430.86 L242.25 430.80 L242.50 430.73 L242.75 430.67 L243.00 430.60 L243.25 430.54 L243.50 430.47 L243.75 430.41 L244.00 430.34 L244.25 430.28 L244.50 430.21 L244.75 430.14 L245.00 430.08 L245.25 430.01 L245.50 429.95 L245.75 429.88 L246.00 429.82 L246.25 429.75 L246.50 429.69 L246.75 429.62 L247.00 429.55 L247.25 429.49 L247.50 429.42 L247.75 429.36 L248.00 429.29 L248.25 429.22 L248.50 429.16 L248.75 429.09 L249.00 429.03 L249.25 428.96 L249.50 428.90 L249.75 428.83 L250.00 428.76 L250.25 428.70 L250.50 428.63 L250.75 428.57 L251.00 428.50 L251.25 428.50 L251.50 428.51 L251.75 428.51 L252.00 428.52 L252.25 428.52 L252.50 428.53 L252.75 428.53 L253.00 428.54 L253.25 428.54 L253.50 428.55 L253.75 428.55 L254.00 428.55 L254.25 428.56 L254.50 428.56 L254.75 428.57 L255.00 428.57 L255.25 428.58 L255.50 428.58 L255.75 428.59 L256.00 428.59 L256.25 428.60 L256.50 428.60 L256.75 428.60 L257.00 428.61 L257.25 428.61 L257.50 428.62 L257.75 428.62 L258.00 428.63 L258.25 428.63 L258.50 428.64 L258.75 428.64 L259.00 428.65 L259.25 428.65 L259.50 428.65 L259.75 428.66 L260.00 428.66 L260.25 428.67 L260.50 428.67 L260.75 428.68 L261.00 428.68 L261.25 428.68 L261.50 428.69 L261.75 428.69 L262.00 428.70 L262.25 428.67 L262.50 428.64 L262.75 428.61 L263.00 428.58 L263.25 428.55 L263.50 428.52 L263.75 428.49 L264.00 428.45 L264.25 428.42 L264.50 428.39 L264.75 428.36 L265.00 428.33 L265.25 428.30 L265.50 428.26 L265.75 428.23 L266.00 428.20 L266.25 428.16 L266.50 428.13 L266.75 428.09 L267.00 428.06 L267.25 428.02 L267.50 427.99 L267.75 427.95 L268.00 427.91 L268.25 427.87 L268.50 427.84 L268.75 427.80 L269.00 427.76 L269.25 427.71 L269.50 427.67 L269.75 427.63 L270.00 427.59 L270.25 427.54 L270.50 427.50 L270.75 427.46 L271.00 427.41 L271.25 427.37 L271.50 427.32 L271.75 427.27 L272.00 427.22 L272.25 427.16 L272.50 427.10 L272.75 427.02 L273.00 426.93 L273.25 426.80 L273.50 426.63 L273.75 426.41 L274.00 426.15 L274.25 425.84 L274.50 425.50 L274.75 425.16 L275.00 424.86 L275.25 424.62 L275.50 424.48 L275.75 424.45 L276.00 424.49 L276.25 424.59 L276.50 424.74 L276.75 424.91 L277.00 425.09 L277.25 425.25 L277.50 425.37 L277.75 425.44 L278.00 425.44 L278.25 425.38 L278.50 425.27 L278.75 425.13 L279.00 424.97 L279.25 424.84 L279.50 424.74 L279.75 424.72 L280.00 424.74 L280.25 424.80 L280.50 424.90 L280.75 425.02 L281.00 425.16 L281.25 425.29 L281.50 425.42 L281.75 425.54 L282.00 425.64 L282.25 425.71 L282.50 425.77 L282.75 425.81 L283.00 425.83 L283.25 425.84 L283.50 425.84 L283.75 425.84 L284.00 425.83 L284.25 425.82 L284.50 425.80 L284.75 425.79 L285.00 425.77 L285.25 425.76 L285.50 425.74 L285.75 425.72 L286.00 425.70 L286.25 425.68 L286.50 425.66 L286.75 425.65 L287.00 425.63 L287.25 425.60 L287.50 425.58 L287.75 425.56 L288.00 425.54 L288.25 425.52 L288.50 425.50 L288.75 425.47 L289.00 425.45 L289.25 425.43 L289.50 425.40 L289.75 425.38 L290.00 425.35 L290.25 425.33 L290.50 425.31 L290.75 425.29 L291.00 425.27 L291.25 425.25 L291.50 425.22 L291.75 425.20 L292.00 425.18 L292.25 425.16 L292.50 425.13 L292.75 425.11 L293.00 425.09 L293.25 425.06 L293.50 425.04 L293.75 425.01 L294.00 424.99 L294.25 424.97 L294.50 424.94 L294.75 424.92 L295.00 424.89 L295.25 424.86 L295.50 424.84 L295.75 424.81 L296.00 424.78 L296.25 424.76 L296.50 424.73 L296.75 424.70 L297.00 424.67 L297.25 424.64 L297.50 424.60 L297.75 424.57 L298.00 424.53 L298.25 424.49 L298.50 424.45 L298.75 424.40 L299.00 424.36 L299.25 424.30 L299.50 424.25 L299.75 424.19 L300.00 424.12 L300.25 424.05 L300.50 423.98 L300.75 423.90 L301.00 423.81 L301.25 423.71 L301.50 423.61 L301.75 423.50 L302.00 423.39 L302.25 423.26 L302.50 423.13 L302.75 422.99 L303.00 422.84 L303.25 422.68 L303.50 422.51 L303.75 422.33 L304.00 422.13 L304.25 421.97 L304.50 421.73 L304.75 421.38 L305.00 420.83 L305.25 419.99 L305.50 418.75 L305.75 417.09 L306.00 415.05 L306.25 412.86 L306.50 410.83 L306.75 409.33 L307.00 408.67 L307.25 408.78 L307.50 409.45 L307.75 410.55 L308.00 411.90 L308.25 413.30 L308.50 414.59 L308.75 415.66 L309.00 416.46 L309.25 416.99 L309.50 417.27 L309.75 417.33 L310.00 417.22 L310.25 416.94 L310.50 416.40 L310.75 415.47 L311.00 413.95 L311.25 411.59 L311.50 408.11 L311.75 403.32 L312.00 397.21 L312.25 390.04 L312.50 382.44 L312.75 375.28 L313.00 369.61 L313.25 366.33 L313.50 365.94 L313.75 367.70 L314.00 371.21 L314.25 376.08 L314.50 381.83 L314.75 387.91 L315.00 393.85 L315.25 399.26 L315.50 403.92 L315.75 407.70 L316.00 410.61 L316.25 412.70 L316.50 414.01 L316.75 414.56 L317.00 414.31 L317.25 413.16 L317.50 411.03 L317.75 407.97 L318.00 404.26 L318.25 400.46 L318.50 397.31 L318.75 395.55 L319.00 395.61 L319.25 397.04 L319.50 399.55 L319.75 402.82 L320.00 406.44 L320.25 409.98 L320.50 413.21 L320.75 415.93 L321.00 418.09 L321.25 419.71 L321.50 420.88 L321.75 421.70 L322.00 422.28 L322.25 422.69 L322.50 423.00 L322.75 423.25 L323.00 423.45 L323.25 423.63 L323.50 423.79 L323.75 423.92 L324.00 424.01 L324.25 424.03 L324.50 423.89 L324.75 423.50 L325.00 422.71 L325.25 421.45 L325.50 419.78 L325.75 417.99 L326.00 416.52 L326.25 415.85 L326.50 416.09 L326.75 416.96 L327.00 418.27 L327.25 419.77 L327.50 421.24 L327.75 422.48 L328.00 423.42 L328.25 424.05 L328.50 424.39 L328.75 424.46 L329.00 424.26 L329.25 423.70 L329.50 422.68 L329.75 421.10 L330.00 418.94 L330.25 416.32 L330.50 413.56 L330.75 411.14 L331.00 409.58 L331.25 409.22 L331.50 409.87 L331.75 411.27 L332.00 413.22 L332.25 415.47 L332.50 417.74 L332.75 419.83 L333.00 421.59 L333.25 422.97 L333.50 423.96 L333.75 424.64 L334.00 425.05 L334.25 425.28 L334.50 425.38 L334.75 425.39 L335.00 425.34 L335.25 425.25 L335.50 425.12 L335.75 424.97 L336.00 424.79 L336.25 424.60 L336.50 424.37 L336.75 424.13 L337.00 423.86 L337.25 423.57 L337.50 423.26 L337.75 422.93 L338.00 422.59 L338.25 422.24 L338.50 421.86 L338.75 421.46 L339.00 420.98 L339.25 420.35 L339.50 419.43 L339.75 417.98 L340.00 415.62 L340.25 411.94 L340.50 406.48 L340.75 398.98 L341.00 389.57 L341.25 378.90 L341.50 368.22 L341.75 359.16 L342.00 353.36 L342.25 351.93 L342.50 354.07 L342.75 358.96 L343.00 365.98 L343.25 374.30 L343.50 383.05 L343.75 391.46 L344.00 398.95 L344.25 405.22 L344.50 410.16 L344.75 413.86 L345.00 416.52 L345.25 418.37 L345.50 419.63 L345.75 420.50 L346.00 421.12 L346.25 421.58 L346.50 421.96 L346.75 422.28 L347.00 422.57 L347.25 422.84 L347.50 423.09 L347.75 423.32 L348.00 423.53 L348.25 423.72 L348.50 423.89 L348.75 424.03 L349.00 424.15 L349.25 424.25 L349.50 424.32 L349.75 424.36 L350.00 424.38 L350.25 424.38 L350.50 424.35 L350.75 424.30 L351.00 424.23 L351.25 424.14 L351.50 424.03 L351.75 423.89 L352.00 423.71 L352.25 423.47 L352.50 423.10 L352.75 422.51 L353.00 421.55 L353.25 420.00 L353.50 417.61 L353.75 414.14 L354.00 409.44 L354.25 403.52 L354.50 396.72 L354.75 389.66 L355.00 383.21 L355.25 378.33 L355.50 375.83 L355.75 375.98 L356.00 378.02 L356.25 381.63 L356.50 386.44 L356.75 391.97 L357.00 397.72 L357.25 403.26 L357.50 408.27 L357.75 412.55 L358.00 416.02 L358.25 418.72 L358.50 420.74 L358.75 422.21 L359.00 423.26 L359.25 424.01 L359.50 424.56 L359.75 424.98 L360.00 425.32 L360.25 425.62 L360.50 425.89 L360.75 426.15 L361.00 426.40 L361.25 426.65 L361.50 426.89 L361.75 427.12 L362.00 427.35 L362.25 427.58 L362.50 427.79 L362.75 428.00 L363.00 428.20 L363.25 428.39 L363.50 428.58 L363.75 428.75 L364.00 428.91 L364.25 429.06 L364.50 429.20 L364.75 429.32 L365.00 429.44 L365.25 429.54 L365.50 429.63 L365.75 429.71 L366.00 429.77 L366.25 429.82 L366.50 429.86 L366.75 429.89 L367.00 429.90 L367.25 429.91 L367.50 429.90 L367.75 429.88 L368.00 429.84 L368.25 429.80 L368.50 429.75 L368.75 429.69 L369.00 429.62 L369.25 429.55 L369.50 429.47 L369.75 429.38 L370.00 429.28 L370.25 429.18 L370.50 429.05 L370.75 428.88 L371.00 428.63 L371.25 428.23 L371.50 427.56 L371.75 426.52 L372.00 424.98 L372.25 422.85 L372.50 420.18 L372.75 417.14 L373.00 414.11 L373.25 411.54 L373.50 409.90 L373.75 409.50 L374.00 410.12 L374.25 411.52 L374.50 413.53 L374.75 415.91 L375.00 418.41 L375.25 420.81 L375.50 422.96 L375.75 424.75 L376.00 426.17 L376.25 427.24 L376.50 428.00 L376.75 428.54 L377.00 428.91 L377.25 429.17 L377.50 429.36 L377.75 429.51 L378.00 429.63 L378.25 429.73 L378.50 429.83 L378.75 429.93 L379.00 430.02 L379.25 430.11 L379.50 430.19 L379.75 430.27 L380.00 430.35 L380.25 430.42 L380.50 430.49 L380.75 430.55 L381.00 430.61 L381.25 430.64 L381.50 430.63 L381.75 430.55 L382.00 430.38 L382.25 430.07 L382.50 429.60 L382.75 429.00 L383.00 428.31 L383.25 427.66 L383.50 427.19 L383.75 427.00 L384.00 427.11 L384.25 427.44 L384.50 427.94 L384.75 428.55 L385.00 429.19 L385.25 429.80 L385.50 430.34 L385.75 430.79 L386.00 431.13 L386.25 431.39 L386.50 431.57 L386.75 431.71 L387.00 431.80 L387.25 431.88 L387.50 431.94 L387.75 431.99 L388.00 432.04 L388.25 432.09 L388.50 432.14 L388.75 432.20 L389.00 432.24 L389.25 432.29 L389.50 432.34 L389.75 432.39 L390.00 432.43 L390.25 432.48 L390.50 432.52 L390.75 432.56 L391.00 432.61 L391.25 432.65 L391.50 432.69 L391.75 432.72 L392.00 432.76 L392.25 432.80 L392.50 432.83 L392.75 432.86 L393.00 432.90 L393.25 432.93 L393.50 432.96 L393.75 432.99 L394.00 433.02 L394.25 433.05 L394.50 433.08 L394.75 433.10 L395.00 433.13 L395.25 433.16 L395.50 433.19 L395.75 433.21 L396.00 433.24 L396.25 433.26 L396.50 433.29 L396.75 433.31 L397.00 433.34 L397.25 433.36 L397.50 433.39 L397.75 433.41 L398.00 433.43 L398.25 433.46 L398.50 433.48 L398.75 433.51 L399.00 433.53 L399.25 433.55 L399.50 433.58 L399.75 433.60 L400.00 433.62 L400.25 433.65 L400.50 433.67 L400.75 433.69 L401.00 433.72 L401.25 433.74 L401.50 433.77 L401.75 433.79 L402.00 433.81 L402.25 433.84 L402.50 433.86 L402.75 433.88 L403.00 433.91 L403.25 433.93 L403.50 433.95 L403.75 433.98 L404.00 434.00 L404.25 434.02 L404.50 434.05 L404.75 434.07 L405.00 434.10 L405.25 434.12 L405.50 434.14 L405.75 434.17 L406.00 434.19 L406.25 434.22 L406.50 434.24 L406.75 434.26 L407.00 434.29 L407.25 434.31 L407.50 434.34 L407.75 434.36 L408.00 434.38 L408.25 434.41 L408.50 434.43 L408.75 434.45 L409.00 434.48 L409.25 434.50 L409.50 434.52 L409.75 434.54 L410.00 434.56 L410.25 434.58 L410.50 434.60 L410.75 434.62 L411.00 434.64 L411.25 434.66 L411.50 434.68 L411.75 434.69 L412.00 434.70 L412.25 434.72 L412.50 434.73 L412.75 434.73 L413.00 434.74 L413.25 434.74 L413.50 434.75 L413.75 434.75 L414.00 434.74 L414.25 434.74 L414.50 434.73 L414.75 434.71 L415.00 434.70 L415.25 434.68 L415.50 434.66 L415.75 434.64 L416.00 434.62 L416.25 434.60 L416.50 434.57 L416.75 434.54 L417.00 434.51 L417.25 434.48 L417.50 434.43 L417.75 434.35 L418.00 434.21 L418.25 433.97 L418.50 433.57 L418.75 432.95 L419.00 432.07 L419.25 430.96 L419.50 429.73 L419.75 428.57 L420.00 427.69 L420.25 427.31 L420.50 427.44 L420.75 427.94 L421.00 428.73 L421.25 429.70 L421.50 430.73 L421.75 431.73 L422.00 432.60 L422.25 433.32 L422.50 433.87 L422.75 434.27 L423.00 434.56 L423.25 434.76 L423.50 434.91 L423.75 435.01 L424.00 435.10 L424.25 435.17 L424.50 435.24 L424.75 435.31 L425.00 435.37 L425.25 435.43 L425.50 435.49 L425.75 435.55 L426.00 435.61 L426.25 435.66 L426.50 435.72 L426.75 435.76 L427.00 435.81 L427.25 435.84 L427.50 435.87 L427.75 435.90 L428.00 435.91 L428.25 435.92 L428.50 435.91 L428.75 435.89 L429.00 435.85 L429.25 435.79 L429.50 435.71 L429.75 435.60 L430.00 435.47 L430.25 435.21 L430.50 434.91 L430.75 434.58 L431.00 434.19 L431.25 433.75 L431.50 433.26 L431.75 432.71 L432.00 432.10 L432.25 431.43 L432.50 430.71 L432.75 429.93 L433.00 429.09 L433.25 428.15 L433.50 426.96 L433.75 425.09 L434.00 421.69 L434.25 415.82 L434.50 407.39 L434.75 398.33 L435.00 392.24 L435.25 391.97 L435.50 397.14 L435.75 404.47 L436.00 410.41 L436.25 413.22 L436.50 412.81 L436.75 409.44 L437.00 402.91 L437.25 392.61 L437.50 378.14 L437.75 359.90 L438.00 339.64 L438.25 322.40 L438.50 322.40 L438.75 322.40 L439.00 322.40 L439.25 322.40 L439.50 322.40 L439.75 336.99 L440.00 353.43 L440.25 369.17 L440.50 382.98 L440.75 394.22 L441.00 402.79 L441.25 408.95 L441.50 413.19 L441.75 416.03 L442.00 417.91 L442.25 419.21 L442.50 420.16 L442.75 420.93 L443.00 421.60 L443.25 422.22 L443.50 422.82 L443.75 423.40 L444.00 423.96 L444.25 424.50 L444.50 425.01 L444.75 425.50 L445.00 425.96 L445.25 426.49 L445.50 426.98 L445.75 427.43 L446.00 427.85 L446.25 428.22 L446.50 428.56 L446.75 428.86 L447.00 429.13 L447.25 429.35 L447.50 429.53 L447.75 429.68 L448.00 429.79 L448.25 429.87 L448.50 429.91 L448.75 429.93 L449.00 429.92 L449.25 429.88 L449.50 429.81 L449.75 429.72 L450.00 429.58 L450.25 429.37 L450.50 429.01 L450.75 428.38 L451.00 427.29 L451.25 425.52 L451.50 422.84 L451.75 419.16 L452.00 414.63 L452.25 409.74 L452.50 405.27 L452.75 402.10 L453.00 400.93 L453.25 401.64 L453.50 403.69 L453.75 406.76 L454.00 410.38 L454.25 414.04 L454.50 417.27 L454.75 419.74 L455.00 421.24 L455.25 421.77 L455.50 421.51 L455.75 420.79 L456.00 420.03 L456.25 419.64 L456.50 419.87 L456.75 420.60 L457.00 421.73 L457.25 423.16 L457.50 424.72 L457.75 426.28 L458.00 427.71 L458.25 428.93 L458.50 429.92 L458.75 430.70 L459.00 431.30 L459.25 431.75 L459.50 432.10 L459.75 432.39 L460.00 432.63 L460.25 432.84 L460.50 433.03 L460.75 433.21 L461.00 433.38 L461.25 433.54 L461.50 433.69 L461.75 433.84 L462.00 433.98 L462.25 434.11 L462.50 434.24 L462.75 434.35 L463.00 434.46 L463.25 434.57 L463.50 434.66 L463.75 434.76 L464.00 434.84 L464.25 434.92 L464.50 434.99 L464.75 435.06 L465.00 435.13 L465.25 435.19 L465.50 435.24 L465.75 435.30 L466.00 435.35 L466.25 435.39 L466.50 435.44 L466.75 435.48 L467.00 435.52 L467.25 435.55 L467.50 435.59 L467.75 435.62 L468.00 435.65 L468.25 435.68 L468.50 435.71 L468.75 435.74 L469.00 435.77 L469.25 435.79 L469.50 435.82 L469.75 435.84 L470.00 435.87 L470.25 435.89 L470.50 435.92 L470.75 435.94 L471.00 435.96 L471.25 435.99 L471.50 436.01 L471.75 436.03 L472.00 436.06 L472.25 436.08 L472.50 436.10 L472.75 436.12 L473.00 436.15 L473.25 436.17 L473.50 436.19 L473.75 436.21 L474.00 436.23 L474.25 436.26 L474.50 436.28 L474.75 436.30 L475.00 436.32 L475.25 436.35 L475.50 436.37 L475.75 436.39 L476.00 436.41 L476.25 436.43 L476.50 436.46 L476.75 436.48 L477.00 436.50 L477.25 436.50 L477.50 436.50 L477.75 436.50" fill="none" stroke="#4672aa" stroke-width="1.7" stroke-linejoin="round"/>
<path d="M596.63 156.40 L596.88 156.40 L597.13 156.40 L597.38 156.40 L597.63 156.40 L597.88 156.40 L598.13 156.40 L598.38 156.40 L598.63 156.40 L598.88 156.40 L599.13 156.40 L599.38 156.40 L599.63 156.40 L599.88 156.40 L600.13 156.40 L600.38 156.40 L600.63 156.40 L600.88 156.40 L601.13 156.40 L601.38 156.40 L601.63 156.40 L601.88 156.40 L602.13 156.40 L602.38 156.40 L602.63 156.40 L602.88 156.40 L603.13 156.40 L603.38 156.40 L603.63 156.40 L603.88 156.40 L604.13 156.40 L604.38 156.40 L604.63 156.40 L604.88 156.40 L605.13 156.40 L605.38 156.40 L605.63 156.40 L605.88 156.40 L606.13 156.40 L606.38 156.40 L606.63 156.40 L606.88 156.40 L607.13 156.40 L607.38 156.40 L607.63 156.40 L607.88 156.40 L608.13 156.40 L608.38 156.40 L608.63 156.40 L608.88 156.40 L609.13 156.40 L609.38 156.40 L609.63 156.40 L609.88 156.40 L610.13 156.40 L610.38 156.40 L610.63 156.40 L610.88 156.40 L611.13 156.40 L611.38 156.40 L611.63 156.40 L611.88 156.40 L612.13 156.40 L612.38 156.40 L612.63 156.40 L612.88 156.40 L613.13 156.40 L613.38 156.40 L613.63 156.40 L613.88 156.40 L614.13 156.40 L614.38 156.40 L614.63 156.40 L614.88 156.40 L615.13 156.40 L615.38 156.40 L615.63 156.40 L615.88 156.40 L616.13 156.40 L616.38 156.40 L616.63 156.40 L616.88 156.40 L617.13 156.40 L617.38 156.40 L617.63 156.40 L617.88 156.40 L618.13 156.40 L618.38 156.40 L618.63 156.40 L618.88 156.40 L619.13 156.40 L619.38 156.40 L619.63 156.40 L619.88 156.40 L620.13 156.40 L620.38 156.40 L620.63 156.40 L620.88 156.40 L621.13 156.40 L621.38 156.40 L621.63 156.40 L621.88 156.40 L622.13 156.40 L622.38 156.40 L622.63 156.40 L622.88 156.40 L623.13 156.40 L623.38 156.40 L623.63 156.40 L623.88 156.40 L624.13 156.40 L624.38 156.40 L624.63 156.40 L624.88 156.40 L625.13 156.40 L625.38 156.40 L625.63 156.40 L625.88 156.40 L626.13 156.40 L626.38 156.40 L626.63 156.40 L626.88 156.40 L627.13 156.40 L627.38 156.40 L627.63 156.40 L627.88 156.40 L628.13 156.40 L628.38 156.40 L628.63 156.40 L628.88 156.40 L629.13 156.40 L629.38 156.40 L629.63 156.40 L629.88 156.40 L630.13 156.40 L630.38 156.40 L630.63 156.40 L630.88 156.40 L631.13 156.40 L631.38 156.40 L631.63 156.40 L631.88 156.40 L632.13 156.40 L632.38 156.40 L632.63 156.40 L632.88 156.40 L633.13 156.40 L633.38 156.40 L633.63 156.40 L633.88 156.40 L634.13 156.40 L634.38 156.40 L634.63 156.40 L634.88 156.40 L635.13 156.40 L635.38 156.40 L635.63 156.40 L635.88 156.40 L636.13 156.40 L636.38 156.40 L636.63 156.40 L636.88 156.40 L637.13 156.40 L637.38 156.40 L637.63 156.40 L637.88 156.40 L638.13 156.40 L638.38 156.40 L638.63 156.40 L638.88 156.40 L639.13 156.40 L639.38 156.40 L639.63 156.40 L639.88 156.40 L640.13 156.40 L640.38 156.40 L640.63 156.40 L640.88 156.40 L641.13 156.40 L641.38 156.40 L641.63 156.40 L641.88 156.40 L642.13 156.40 L642.38 156.40 L642.63 156.40 L642.88 156.40 L643.13 156.39 L643.38 156.39 L643.63 156.39 L643.88 156.39 L644.13 156.39 L644.38 156.39 L644.63 156.39 L644.88 156.38 L645.13 156.38 L645.38 156.38 L645.63 156.38 L645.88 156.37 L646.13 156.37 L646.38 156.37 L646.63 156.36 L646.88 156.36 L647.13 156.35 L647.38 156.34 L647.63 156.34 L647.88 156.33 L648.13 156.32 L648.38 156.31 L648.63 156.30 L648.88 156.29 L649.13 156.28 L649.38 156.27 L649.63 156.25 L649.88 156.24 L650.13 156.21 L650.38 156.16 L650.63 156.11 L650.88 156.06 L651.13 156.01 L651.38 155.95 L651.63 155.90 L651.88 155.84 L652.13 155.79 L652.38 155.73 L652.63 155.67 L652.88 155.61 L653.13 155.55 L653.38 155.49 L653.63 155.43 L653.88 155.37 L654.13 155.31 L654.38 155.24 L654.63 155.18 L654.88 155.11 L655.13 155.05 L655.38 154.98 L655.63 154.91 L655.88 154.82 L656.13 154.73 L656.38 154.61 L656.63 154.46 L656.88 154.26 L657.13 154.00 L657.38 153.65 L657.63 153.21 L657.88 152.66 L658.13 152.01 L658.38 151.26 L658.63 150.46 L658.88 149.64 L659.13 148.87 L659.38 148.21 L659.63 147.72 L659.88 147.44 L660.13 147.41 L660.38 147.53 L660.63 147.81 L660.88 148.21 L661.13 148.71 L661.38 149.27 L661.63 149.87 L661.88 150.47 L662.13 151.04 L662.38 151.56 L662.63 152.02 L662.88 152.42 L663.13 152.74 L663.38 153.01 L663.63 153.21 L663.88 153.36 L664.13 153.47 L664.38 153.54 L664.63 153.60 L664.88 153.63 L665.13 153.68 L665.38 153.76 L665.63 153.82 L665.88 153.89 L666.13 153.95 L666.38 154.01 L666.63 154.07 L666.88 154.13 L667.13 154.19 L667.38 154.25 L667.63 154.30 L667.88 154.36 L668.13 154.42 L668.38 154.48 L668.63 154.53 L668.88 154.59 L669.13 154.64 L669.38 154.70 L669.63 154.75 L669.88 154.80 L670.13 154.86 L670.38 154.91 L670.63 154.96 L670.88 155.01 L671.13 155.06 L671.38 155.11 L671.63 155.16 L671.88 155.20 L672.13 155.25 L672.38 155.30 L672.63 155.34 L672.88 155.39 L673.13 155.43 L673.38 155.47 L673.63 155.52 L673.88 155.56 L674.13 155.60 L674.38 155.64 L674.63 155.68 L674.88 155.72 L675.13 155.76 L675.38 155.80 L675.63 155.84 L675.88 155.88 L676.13 155.91 L676.38 155.95 L676.63 155.98 L676.88 156.02 L677.13 156.05 L677.38 156.09 L677.63 156.12 L677.88 156.15 L678.13 156.18 L678.38 156.21 L678.63 156.24 L678.88 156.26 L679.13 156.28 L679.38 156.30 L679.63 156.32 L679.88 156.33 L680.13 156.34 L680.38 156.34 L680.63 156.35 L680.88 156.34 L681.13 156.33 L681.38 156.32 L681.63 156.30 L681.88 156.28 L682.13 156.25 L682.38 156.22 L682.63 156.19 L682.88 156.15 L683.13 156.11 L683.38 156.06 L683.63 156.02 L683.88 155.95 L684.13 155.77 L684.38 155.42 L684.63 154.89 L684.88 154.05 L685.13 152.79 L685.38 151.10 L685.63 149.14 L685.88 147.29 L686.13 146.03 L686.38 145.69 L686.63 146.11 L686.88 147.06 L687.13 148.35 L687.38 149.70 L687.63 150.93 L687.88 151.90 L688.13 152.58 L688.38 153.00 L688.63 153.23 L688.88 153.32 L689.13 153.39 L689.38 153.47 L689.63 153.53 L689.88 153.58 L690.13 153.63 L690.38 153.67 L690.63 153.72 L690.88 153.76 L691.13 153.80 L691.38 153.84 L691.63 153.87 L691.88 153.91 L692.13 153.94 L692.38 153.96 L692.63 153.99 L692.88 154.01 L693.13 154.03 L693.38 154.04 L693.63 154.05 L693.88 154.06 L694.13 154.07 L694.38 154.07 L694.63 154.08 L694.88 154.08 L695.13 154.07 L695.38 154.07 L695.63 154.07 L695.88 154.06 L696.13 154.05 L696.38 154.04 L696.63 154.04 L696.88 154.02 L697.13 154.01 L697.38 154.00 L697.63 153.99 L697.88 153.98 L698.13 153.96 L698.38 153.95 L698.63 153.94 L698.88 153.92 L699.13 153.91 L699.38 153.90 L699.63 153.88 L699.88 153.87 L700.13 153.85 L700.38 153.84 L700.63 153.83 L700.88 153.81 L701.13 153.80 L701.38 153.78 L701.63 153.77 L701.88 153.75 L702.13 153.74 L702.38 153.73 L702.63 153.71 L702.88 153.70 L703.13 153.68 L703.38 153.67 L703.63 153.65 L703.88 153.64 L704.13 153.62 L704.38 153.61 L704.63 153.60 L704.88 153.58 L705.13 153.57 L705.38 153.55 L705.63 153.54 L705.88 153.52 L706.13 153.51 L706.38 153.49 L706.63 153.48 L706.88 153.46 L707.13 153.45 L707.38 153.44 L707.63 153.42 L707.88 153.41 L708.13 153.38 L708.38 153.34 L708.63 153.29 L708.88 153.25 L709.13 153.21 L709.38 153.17 L709.63 153.12 L709.88 153.08 L710.13 153.04 L710.38 153.00 L710.63 152.95 L710.88 152.91 L711.13 152.87 L711.38 152.83 L711.63 152.79 L711.88 152.74 L712.13 152.70 L712.38 152.66 L712.63 152.62 L712.88 152.57 L713.13 152.53 L713.38 152.49 L713.63 152.45 L713.88 152.40 L714.13 152.36 L714.38 152.32 L714.63 152.27 L714.88 152.23 L715.13 152.19 L715.38 152.15 L715.63 152.10 L715.88 152.06 L716.13 152.01 L716.38 151.97 L716.63 151.93 L716.88 151.88 L717.13 151.84 L717.38 151.79 L717.63 151.75 L717.88 151.70 L718.13 151.66 L718.38 151.61 L718.63 151.56 L718.88 151.51 L719.13 151.46 L719.38 151.42 L719.63 151.37 L719.88 151.31 L720.13 151.26 L720.38 151.21 L720.63 151.16 L720.88 151.10 L721.13 151.01 L721.38 150.89 L721.63 150.77 L721.88 150.65 L722.13 150.53 L722.38 150.40 L722.63 150.28 L722.88 150.15 L723.13 150.02 L723.38 149.88 L723.63 149.75 L723.88 149.61 L724.13 149.47 L724.38 149.33 L724.63 149.18 L724.88 149.04 L725.13 148.89 L725.38 148.73 L725.63 148.58 L725.88 148.42 L726.13 148.26 L726.38 148.10 L726.63 147.94 L726.88 147.77 L727.13 147.60 L727.38 147.43 L727.63 147.26 L727.88 147.09 L728.13 146.91 L728.38 146.74 L728.63 146.56 L728.88 146.38 L729.13 146.20 L729.38 146.02 L729.63 145.83 L729.88 145.62 L730.13 145.46 L730.38 145.33 L730.63 145.14 L730.88 144.89 L731.13 144.55 L731.38 144.07 L731.63 143.42 L731.88 142.57 L732.13 141.49 L732.38 140.18 L732.63 138.64 L732.88 136.92 L733.13 135.10 L733.38 133.28 L733.63 131.60 L733.88 130.19 L734.13 129.18 L734.38 128.66 L734.63 128.64 L734.88 128.95 L735.13 129.54 L735.38 130.37 L735.63 131.41 L735.88 132.60 L736.13 133.90 L736.38 135.25 L736.63 136.60 L736.88 137.92 L737.13 139.15 L737.38 140.28 L737.63 141.29 L737.88 142.18 L738.13 142.94 L738.38 143.57 L738.63 144.10 L738.88 144.53 L739.13 144.88 L739.38 145.15 L739.63 145.37 L739.88 145.55 L740.13 145.70 L740.38 145.82 L740.63 145.92 L740.88 146.01 L741.13 146.09 L741.38 146.17 L741.63 146.24 L741.88 146.31 L742.13 146.37 L742.38 146.44 L742.63 146.50 L742.88 146.57 L743.13 146.65 L743.38 146.76 L743.63 146.87 L743.88 146.98 L744.13 147.08 L744.38 147.19 L744.63 147.29 L744.88 147.40 L745.13 147.50 L745.38 147.60 L745.63 147.70 L745.88 147.80 L746.13 147.89 L746.38 147.99 L746.63 148.08 L746.88 148.18 L747.13 148.27 L747.38 148.36 L747.63 148.45 L747.88 148.53 L748.13 148.62 L748.38 148.70 L748.63 148.78 L748.88 148.86 L749.13 148.93 L749.38 149.01 L749.63 149.08 L749.88 149.15 L750.13 149.22 L750.38 149.28 L750.63 149.34 L750.88 149.39 L751.13 149.45 L751.38 149.49 L751.63 149.54 L751.88 149.58 L752.13 149.57 L752.38 149.52 L752.63 149.47 L752.88 149.41 L753.13 149.34 L753.38 149.27 L753.63 149.19 L753.88 149.10 L754.13 149.00 L754.38 148.89 L754.63 148.78 L754.88 148.65 L755.13 148.52 L755.38 148.37 L755.63 148.22 L755.88 148.06 L756.13 147.89 L756.38 147.72 L756.63 147.53 L756.88 147.34 L757.13 147.14 L757.38 146.94 L757.63 146.73 L757.88 146.52 L758.13 146.29 L758.38 146.04 L758.63 145.74 L758.88 145.36 L759.13 144.81 L759.38 144.00 L759.63 142.79 L759.88 141.01 L760.13 138.52 L760.38 135.25 L760.63 131.29 L760.88 126.88 L761.13 122.47 L761.38 118.63 L761.63 115.94 L761.88 114.84 L762.13 115.24 L762.38 116.73 L762.63 119.12 L762.88 122.16 L763.13 125.55 L763.38 128.98 L763.63 132.20 L763.88 135.05 L764.13 137.43 L764.38 139.30 L764.63 140.71 L764.88 141.72 L765.13 142.41 L765.38 142.84 L765.63 143.08 L765.88 143.15 L766.13 143.07 L766.38 142.82 L766.63 142.36 L766.88 141.65 L767.13 140.67 L767.38 139.40 L767.63 137.87 L767.88 136.16 L768.13 134.42 L768.38 132.81 L768.63 131.53 L768.88 130.74 L769.13 130.57 L769.38 130.90 L769.63 131.62 L769.88 132.67 L770.13 133.98 L770.38 135.44 L770.63 136.95 L770.88 138.44 L771.13 139.82 L771.38 141.04 L771.63 142.09 L771.88 142.94 L772.13 143.62 L772.38 144.13 L772.63 144.52 L772.88 144.79 L773.13 144.98 L773.38 145.11 L773.63 145.19 L773.88 145.21 L774.13 145.19 L774.38 145.09 L774.63 144.90 L774.88 144.58 L775.13 144.09 L775.38 143.41 L775.63 142.52 L775.88 141.46 L776.13 140.30 L776.38 139.15 L776.63 138.15 L776.88 137.43 L777.13 137.11 L777.38 137.21 L777.63 137.60 L777.88 138.24 L778.13 139.07 L778.38 140.02 L778.63 141.02 L778.88 142.00 L779.13 142.91 L779.38 143.71 L779.63 144.38 L779.88 144.93 L780.13 145.35 L780.38 145.66 L780.63 145.89 L780.88 146.06 L781.13 146.17 L781.38 146.26 L781.63 146.31 L781.88 146.36 L782.13 146.39 L782.38 146.42 L782.63 146.44 L782.88 146.46 L783.13 146.47 L783.38 146.48 L783.63 146.49 L783.88 146.49 L784.13 146.49 L784.38 146.48 L784.63 146.48 L784.88 146.46 L785.13 146.45 L785.38 146.43 L785.63 146.41 L785.88 146.39 L786.13 146.36 L786.38 146.33 L786.63 146.30 L786.88 146.26 L787.13 146.23 L787.38 146.18 L787.63 146.14 L787.88 146.08 L788.13 146.00 L788.38 145.88 L788.63 145.72 L788.88 145.47 L789.13 145.11 L789.38 144.61 L789.63 143.94 L789.88 143.11 L790.13 142.16 L790.38 141.16 L790.63 140.18 L790.88 139.36 L791.13 138.80 L791.38 138.59 L791.63 138.70 L791.88 139.05 L792.13 139.60 L792.38 140.29 L792.63 141.08 L792.88 141.89 L793.13 142.68 L793.38 143.39 L793.63 144.00 L793.88 144.50 L794.13 144.89 L794.38 145.17 L794.63 145.36 L794.88 145.48 L795.13 145.55 L795.38 145.56 L795.63 145.54 L795.88 145.50 L796.13 145.44 L796.38 145.36 L796.63 145.27 L796.88 145.16 L797.13 145.04 L797.38 144.92 L797.63 144.78 L797.88 144.63 L798.13 144.47 L798.38 144.30 L798.63 144.13 L798.88 143.95 L799.13 143.76 L799.38 143.57 L799.63 143.36 L799.88 143.13 L800.13 142.86 L800.38 142.50 L800.63 141.98 L800.88 141.17 L801.13 139.92 L801.38 138.01 L801.63 135.24 L801.88 131.49 L802.13 126.77 L802.38 121.30 L802.63 115.57 L802.88 110.28 L803.13 106.20 L803.38 103.99 L803.63 103.93 L803.88 105.43 L804.13 108.22 L804.38 112.00 L804.63 116.38 L804.88 120.98 L805.13 125.43 L805.38 129.47 L805.63 132.92 L805.88 135.73 L806.13 137.91 L806.38 139.53 L806.63 140.70 L806.88 141.52 L807.13 142.09 L807.38 142.49 L807.63 142.78 L807.88 143.00 L808.13 143.18 L808.38 143.34 L808.63 143.48 L808.88 143.62 L809.13 143.75 L809.38 143.88 L809.63 144.00 L809.88 144.11 L810.13 144.22 L810.38 144.32 L810.63 144.42 L810.88 144.50 L811.13 144.56 L811.38 144.60 L811.63 144.60 L811.88 144.53 L812.13 144.36 L812.38 144.05 L812.63 143.58 L812.88 142.90 L813.13 141.98 L813.38 140.78 L813.63 139.32 L813.88 137.63 L814.13 135.79 L814.38 133.91 L814.63 132.14 L814.88 130.63 L815.13 129.54 L815.38 128.98 L815.63 128.99 L815.88 129.40 L816.13 130.17 L816.38 131.25 L816.63 132.56 L816.88 134.03 L817.13 135.58 L817.38 137.12 L817.63 138.59 L817.88 139.95 L818.13 141.16 L818.38 142.19 L818.63 143.06 L818.88 143.76 L819.13 144.31 L819.38 144.74 L819.63 145.06 L819.88 145.30 L820.13 145.47 L820.38 145.60 L820.63 145.69 L820.88 145.76 L821.13 145.81 L821.38 145.85 L821.63 145.88 L821.88 145.91 L822.13 145.93 L822.38 145.95 L822.63 145.96 L822.88 145.98 L823.13 145.99 L823.38 146.01 L823.63 146.02 L823.88 146.02 L824.13 146.01 L824.38 145.99 L824.63 145.93 L824.88 145.83 L825.13 145.66 L825.38 145.40 L825.63 145.01 L825.88 144.49 L826.13 143.84 L826.38 143.08 L826.63 142.29 L826.88 141.54 L827.13 140.92 L827.38 140.53 L827.63 140.43 L827.88 140.58 L828.13 140.90 L828.38 141.38 L828.63 141.97 L828.88 142.62 L829.13 143.29 L829.38 143.93 L829.63 144.51 L829.88 145.00 L830.13 145.40 L830.38 145.71 L830.63 145.94 L830.88 146.11 L831.13 146.22 L831.38 146.30 L831.63 146.34 L831.88 146.37 L832.13 146.38 L832.38 146.39 L832.63 146.38 L832.88 146.37 L833.13 146.36 L833.38 146.35 L833.63 146.33 L833.88 146.31 L834.13 146.28 L834.38 146.26 L834.63 146.23 L834.88 146.20 L835.13 146.16 L835.38 146.13 L835.63 146.09 L835.88 146.05 L836.13 146.01 L836.38 145.96 L836.63 145.91 L836.88 145.86 L837.13 145.78 L837.38 145.68 L837.63 145.52 L837.88 145.28 L838.13 144.91 L838.38 144.39 L838.63 143.70 L838.88 142.86 L839.13 141.95 L839.38 141.07 L839.63 140.38 L839.88 139.99 L840.13 139.95 L840.38 140.18 L840.63 140.63 L840.88 141.22 L841.13 141.90 L841.38 142.60 L841.63 143.25 L841.88 143.81 L842.13 144.27 L842.38 144.62 L842.63 144.87 L842.88 145.04 L843.13 145.15 L843.38 145.22 L843.63 145.26 L843.88 145.28 L844.13 145.29 L844.38 145.30 L844.63 145.30 L844.88 145.30 L845.13 145.30 L845.38 145.30 L845.63 145.29 L845.88 145.29 L846.13 145.28 L846.38 145.27 L846.63 145.26 L846.88 145.25 L847.13 145.23 L847.38 145.22 L847.63 145.20 L847.88 145.18 L848.13 145.15 L848.38 145.13 L848.63 145.10 L848.88 145.06 L849.13 145.03 L849.38 144.99 L849.63 144.95 L849.88 144.91 L850.13 144.86 L850.38 144.82 L850.63 144.77 L850.88 144.71 L851.13 144.66 L851.38 144.60 L851.63 144.55 L851.88 144.49 L852.13 144.42 L852.38 144.36 L852.63 144.30 L852.88 144.23 L853.13 144.16 L853.38 144.08 L853.63 143.99 L853.88 143.88 L854.13 143.72 L854.38 143.50 L854.63 143.19 L854.88 142.76 L855.13 142.18 L855.38 141.44 L855.63 140.56 L855.88 139.58 L856.13 138.60 L856.38 137.71 L856.63 137.03 L856.88 136.65 L857.13 136.62 L857.38 136.82 L857.63 137.24 L857.88 137.82 L858.13 138.51 L858.38 139.25 L858.63 139.98 L858.88 140.67 L859.13 141.28 L859.38 141.80 L859.63 142.21 L859.88 142.52 L860.13 142.75 L860.38 142.92 L860.63 143.03 L860.88 143.11 L861.13 143.15 L861.38 143.18 L861.63 143.20 L861.88 143.21 L862.13 143.22 L862.38 143.23 L862.63 143.23 L862.88 143.23 L863.13 143.24 L863.38 143.24 L863.63 143.24 L863.88 143.24 L864.13 143.24 L864.38 143.25 L864.63 143.24 L864.88 143.24 L865.13 143.24 L865.38 143.24 L865.63 143.23 L865.88 143.23 L866.13 143.29 L866.38 143.42 L866.63 143.54 L866.88 143.67 L867.13 143.79 L867.38 143.91 L867.63 144.04 L867.88 144.16 L868.13 144.28 L868.38 144.39 L868.63 144.51 L868.88 144.63 L869.13 144.74 L869.38 144.86 L869.63 144.97 L869.88 145.08 L870.13 145.20 L870.38 145.31 L870.63 145.42 L870.88 145.53 L871.13 145.64 L871.38 145.74 L871.63 145.85 L871.88 145.96 L872.13 146.06 L872.38 146.17 L872.63 146.27 L872.88 146.37 L873.13 146.43 L873.38 146.45 L873.63 146.47 L873.88 146.49 L874.13 146.51 L874.38 146.52 L874.63 146.54 L874.88 146.56 L875.13 146.57 L875.38 146.59 L875.63 146.60 L875.88 146.61 L876.13 146.63 L876.38 146.64 L876.63 146.66 L876.88 146.67 L877.13 146.68 L877.38 146.68 L877.63 146.68 L877.88 146.67 L878.13 146.63 L878.38 146.57 L878.63 146.47 L878.88 146.32 L879.13 146.14 L879.38 145.91 L879.63 145.66 L879.88 145.41 L880.13 145.20 L880.38 145.05 L880.63 144.99 L880.88 145.03 L881.13 145.14 L881.38 145.30 L881.63 145.50 L881.88 145.74 L882.13 145.98 L882.38 146.22 L882.63 146.44 L882.88 146.64 L883.13 146.81 L883.38 146.96 L883.63 147.07 L883.88 147.16 L884.13 147.23 L884.38 147.28 L884.63 147.33 L884.88 147.36 L885.13 147.40 L885.38 147.42 L885.63 147.44 L885.88 147.47 L886.13 147.49 L886.38 147.50 L886.63 147.52 L886.88 147.54 L887.13 147.55 L887.38 147.56 L887.63 147.57 L887.88 147.59 L888.13 147.60 L888.38 147.61 L888.63 147.62 L888.88 147.62 L889.13 147.63 L889.38 147.63 L889.63 147.63 L889.88 147.61 L890.13 147.56 L890.38 147.46 L890.63 147.29 L890.88 147.03 L891.13 146.65 L891.38 146.17 L891.63 145.61 L891.88 145.04 L892.13 144.56 L892.38 144.25 L892.63 144.18 L892.88 144.31 L893.13 144.60 L893.38 145.00 L893.63 145.49 L893.88 146.00 L894.13 146.50 L894.38 146.94 L894.63 147.32 L894.88 147.63 L895.13 147.87 L895.38 148.05 L895.63 148.18 L895.88 148.28 L896.13 148.36 L896.38 148.42 L896.63 148.48 L896.88 148.53 L897.13 148.58 L897.38 148.63 L897.63 148.67 L897.88 148.72 L898.13 148.77 L898.38 148.81 L898.63 148.86 L898.88 148.90 L899.13 148.94 L899.38 148.99 L899.63 149.03 L899.88 149.07 L900.13 149.11 L900.38 149.15 L900.63 149.19 L900.88 149.23 L901.13 149.27 L901.38 149.30 L901.63 149.34 L901.88 149.38 L902.13 149.41 L902.38 149.45 L902.63 149.48 L902.88 149.51 L903.13 149.54 L903.38 149.58 L903.63 149.61 L903.88 149.64 L904.13 149.67 L904.38 149.70 L904.63 149.73 L904.88 149.75 L905.13 149.78 L905.38 149.81 L905.63 149.84 L905.88 149.86 L906.13 149.89 L906.38 149.91 L906.63 149.94 L906.88 149.96 L907.13 149.97 L907.38 149.95 L907.63 149.93 L907.88 149.91 L908.13 149.89 L908.38 149.87 L908.63 149.84 L908.88 149.82 L909.13 149.80 L909.38 149.77 L909.63 149.74 L909.88 149.72 L910.13 149.69 L910.38 149.66 L910.63 149.63 L910.88 149.60 L911.13 149.56 L911.38 149.53 L911.63 149.49 L911.88 149.45 L912.13 149.41 L912.38 149.36 L912.63 149.31 L912.88 149.26 L913.13 149.21 L913.38 149.15 L913.63 149.08 L913.88 149.01 L914.13 148.93 L914.38 148.84 L914.63 148.74 L914.88 148.62 L915.13 148.49 L915.38 148.33 L915.63 148.14 L915.88 147.90 L916.13 147.61 L916.38 147.23 L916.63 146.75 L916.88 146.13 L917.13 145.35 L917.38 144.40 L917.63 143.29 L917.88 142.06 L918.13 140.77 L918.38 139.51 L918.63 138.36 L918.88 137.41 L919.13 136.68 L919.38 136.12 L919.63 135.68 L919.88 135.35 L920.13 135.08 L920.38 134.74 L920.63 134.13 L920.88 132.79 L921.13 129.92 L921.38 124.29 L921.63 114.59 L921.88 100.12 L922.13 81.79 L922.38 62.77 L922.63 47.87 L922.88 41.68 L923.13 44.66 L923.38 54.00 L923.63 67.73 L923.88 83.28 L924.13 98.23 L924.38 110.92 L924.63 120.61 L924.88 127.38 L925.13 131.79 L925.38 134.54 L925.63 136.26 L925.88 137.41 L926.13 138.27 L926.38 138.99 L926.63 139.66 L926.88 140.30 L927.13 140.92 L927.38 141.53 L927.63 142.12 L927.88 142.68 L928.13 143.22 L928.38 143.73 L928.63 144.21 L928.88 144.65 L929.13 145.06 L929.38 145.44 L929.63 145.79 L929.88 146.11 L930.13 146.41 L930.38 146.69 L930.63 146.94 L930.88 147.17 L931.13 147.37 L931.38 147.55 L931.63 147.71 L931.88 147.84 L932.13 147.96 L932.38 148.06 L932.63 148.14 L932.88 148.21 L933.13 148.26 L933.38 148.31 L933.63 148.34 L933.88 148.36 L934.13 148.37 L934.38 148.38 L934.63 148.38 L934.88 148.37 L935.13 148.35 L935.38 148.33 L935.63 148.30 L935.88 148.27 L936.13 148.23 L936.38 148.19 L936.63 148.15 L936.88 148.10 L937.13 148.05 L937.38 148.00 L937.63 147.94 L937.88 147.87 L938.13 147.78 L938.38 147.63 L938.63 147.37 L938.88 146.95 L939.13 146.27 L939.38 145.27 L939.63 143.95 L939.88 142.39 L940.13 140.78 L940.38 139.41 L940.63 138.56 L940.88 138.42 L941.13 138.83 L941.38 139.66 L941.63 140.81 L941.88 142.10 L942.13 143.40 L942.38 144.59 L942.63 145.58 L942.88 146.36 L943.13 146.94 L943.38 147.33 L943.63 147.58 L943.88 147.74 L944.13 147.83 L944.38 147.87 L944.63 147.88 L944.88 147.88 L945.13 147.85 L945.38 147.81 L945.63 147.76 L945.88 147.69 L946.13 147.61 L946.38 147.52 L946.63 147.41 L946.88 147.29 L947.13 147.16 L947.38 147.01 L947.63 146.86 L947.88 146.70 L948.13 146.50 L948.38 146.21 L948.63 145.72 L948.88 144.81 L949.13 143.17 L949.38 140.48 L949.63 136.63 L949.88 131.96 L950.13 127.33 L950.38 123.98 L950.63 122.95 L950.88 124.00 L951.13 126.55 L951.38 130.05 L951.63 133.88 L951.88 137.46 L952.13 140.42 L952.38 142.63 L952.63 144.13 L952.88 145.08 L953.13 145.64 L953.38 145.94 L953.63 146.06 L953.88 146.00 L954.13 145.75 L954.38 145.27 L954.63 144.53 L954.88 143.56 L955.13 142.49 L955.38 141.51 L955.63 140.83 L955.88 140.64 L956.13 140.94 L956.38 141.57 L956.63 142.48 L956.88 143.53 L957.13 144.63 L957.38 145.67 L957.63 146.58 L957.88 147.32 L958.13 147.90 L958.38 148.33 L958.63 148.64 L958.88 148.87 L959.13 149.03 L959.38 149.16 L959.63 149.26 L959.88 149.35 L960.13 149.44 L960.38 149.51 L960.63 149.58 L960.88 149.65 L961.13 149.71 L961.38 149.78 L961.63 149.83 L961.88 149.89 L962.13 149.95 L962.38 150.00 L962.63 150.05 L962.88 150.09 L963.13 150.14 L963.38 150.18 L963.63 150.22 L963.88 150.26 L964.13 150.30 L964.38 150.33 L964.63 150.36 L964.88 150.40 L965.13 150.42 L965.38 150.45 L965.63 150.48 L965.88 150.51 L966.13 150.53 L966.38 150.55 L966.63 150.58 L966.88 150.60 L967.13 150.62 L967.38 150.64 L967.63 150.65 L967.88 150.67 L968.13 150.69 L968.38 150.71 L968.63 150.72 L968.88 150.74 L969.13 150.75 L969.38 150.76 L969.63 150.78 L969.88 150.79 L970.13 150.80 L970.38 150.81 L970.63 150.82 L970.88 150.83 L971.13 150.84 L971.38 150.85 L971.63 150.86 L971.88 150.87 L972.13 150.87 L972.38 150.88 L972.63 150.88 L972.88 150.89 L973.13 150.88 L973.38 150.87 L973.63 150.85 L973.88 150.84 L974.13 150.82 L974.38 150.80 L974.63 150.78 L974.88 150.76 L975.13 150.74 L975.38 150.71 L975.63 150.69 L975.88 150.66 L976.13 150.63 L976.38 150.60 L976.63 150.57 L976.88 150.53 L977.13 150.50 L977.38 150.46 L977.63 150.41 L977.88 150.35 L978.13 150.27 L978.38 150.16 L978.63 150.01 L978.88 149.79 L979.13 149.49 L979.38 149.10 L979.63 148.60 L979.88 148.02 L980.13 147.38 L980.38 146.74 L980.63 146.17 L980.88 145.74 L981.13 145.48 L981.38 145.42 L981.63 145.50 L981.88 145.69 L982.13 145.96 L982.38 146.29 L982.63 146.64 L982.88 146.97 L983.13 147.26 L983.38 147.49 L983.63 147.66 L983.88 147.75 L984.13 147.77 L984.38 147.71 L984.63 147.55 L984.88 147.26 L985.13 146.76 L985.38 145.96 L985.63 144.74 L985.88 142.98 L986.13 140.65 L986.38 137.78 L986.63 134.56 L986.88 131.34 L987.13 128.53 L987.38 126.51 L987.63 125.53 L987.88 125.57 L988.13 126.35 L988.38 127.39 L988.63 128.19 L988.88 128.35 L989.13 127.79 L989.38 126.69 L989.63 125.51 L989.88 124.78 L990.13 124.94 L990.38 126.23 L990.63 128.57 L990.88 131.66 L991.13 135.08 L991.38 138.40 L991.63 141.29 L991.88 143.61 L992.13 145.31 L992.38 146.50 L992.63 147.28 L992.88 147.79 L993.13 148.11 L993.38 148.34 L993.63 148.50 L993.88 148.63 L994.13 148.73 L994.38 148.81 L994.63 148.86 L994.88 148.89 L995.13 148.90 L995.38 148.88 L995.63 148.82 L995.88 148.74 L996.13 148.62 L996.38 148.47 L996.63 148.28 L996.88 148.06 L997.13 147.80 L997.38 147.51 L997.63 147.19 L997.88 146.84 L998.13 146.47 L998.38 146.08 L998.63 145.67 L998.88 145.22 L999.13 144.67 L999.38 143.84 L999.63 142.39 L999.88 139.74 L1000.13 135.14 L1000.38 128.01 L1000.63 118.42 L1000.88 107.63 L1001.13 98.03 L1001.38 92.37 L1001.63 92.20 L1001.88 96.07 L1002.13 102.89 L1002.38 111.31 L1002.63 119.90 L1002.88 127.53 L1003.13 133.61 L1003.38 137.99 L1003.63 140.93 L1003.88 142.78 L1004.13 143.92 L1004.38 144.66 L1004.63 145.19 L1004.88 145.61 L1005.13 145.99 L1005.38 146.35 L1005.63 146.70 L1005.88 147.03 L1006.13 147.36 L1006.38 147.68 L1006.63 147.99 L1006.88 148.27 L1007.13 148.55 L1007.38 148.80 L1007.63 149.04 L1007.88 149.26 L1008.13 149.46 L1008.38 149.64 L1008.63 149.80 L1008.88 149.95 L1009.13 150.08 L1009.38 150.19 L1009.63 150.29 L1009.88 150.38 L1010.13 150.46 L1010.38 150.52 L1010.63 150.57 L1010.88 150.61 L1011.13 150.64 L1011.38 150.67 L1011.63 150.69 L1011.88 150.70 L1012.13 150.70 L1012.38 150.71 L1012.63 150.70 L1012.88 150.70 L1013.13 150.69 L1013.38 150.68 L1013.63 150.66 L1013.88 150.64 L1014.13 150.60 L1014.38 150.53 L1014.63 150.41 L1014.88 150.23 L1015.13 149.96 L1015.38 149.59 L1015.63 149.14 L1015.88 148.67 L1016.13 148.24 L1016.38 147.95 L1016.63 147.86 L1016.88 147.95 L1017.13 148.16 L1017.38 148.46 L1017.63 148.82 L1017.88 149.19 L1018.13 149.53 L1018.38 149.81 L1018.63 150.04 L1018.88 150.20 L1019.13 150.31 L1019.38 150.38 L1019.63 150.42 L1019.88 150.43 L1020.13 150.44 L1020.38 150.44 L1020.63 150.43 L1020.88 150.42 L1021.13 150.40 L1021.38 150.39 L1021.63 150.37 L1021.88 150.35 L1022.13 150.32 L1022.38 150.29 L1022.63 150.26 L1022.88 150.23 L1023.13 150.19 L1023.38 150.16 L1023.63 150.12 L1023.88 150.07 L1024.13 150.03 L1024.38 149.98 L1024.63 149.92 L1024.88 149.85 L1025.13 149.75 L1025.38 149.61 L1025.63 149.41 L1025.88 149.10 L1026.13 148.64 L1026.38 148.01 L1026.63 147.16 L1026.88 146.10 L1027.13 144.87 L1027.38 143.55 L1027.63 142.26 L1027.88 141.17 L1028.13 140.41 L1028.38 140.09 L1028.63 140.18 L1028.88 140.58 L1029.13 141.23 L1029.38 142.06 L1029.63 143.02 L1029.88 144.01 L1030.13 144.96 L1030.38 145.83 L1030.63 146.57 L1030.88 147.18 L1031.13 147.65 L1031.38 148.00 L1031.63 148.24 L1031.88 148.39 L1032.13 148.48 L1032.38 148.52 L1032.63 148.52 L1032.88 148.48 L1033.13 148.40 L1033.38 148.25 L1033.63 147.99 L1033.88 147.58 L1034.13 146.96 L1034.38 146.07 L1034.63 144.86 L1034.88 143.34 L1035.13 141.56 L1035.38 139.65 L1035.63 137.80 L1035.88 136.24 L1036.13 135.19 L1036.38 134.80 L1036.63 135.04 L1036.88 135.73 L1037.13 136.81 L1037.38 138.17 L1037.63 139.72 L1037.88 141.32 L1038.13 142.87 L1038.38 144.30 L1038.63 145.54 L1038.88 146.58 L1039.13 147.42 L1039.38 148.07 L1039.63 148.56 L1039.88 148.92 L1040.13 149.19 L1040.38 149.39 L1040.63 149.54 L1040.88 149.67 L1041.13 149.77 L1041.38 149.86 L1041.63 149.95 L1041.88 150.03 L1042.13 150.10 L1042.38 150.18 L1042.63 150.25 L1042.88 150.32 L1043.13 150.39 L1043.38 150.46 L1043.63 150.53 L1043.88 150.59 L1044.13 150.66 L1044.38 150.72 L1044.63 150.77 L1044.88 150.83" fill="none" stroke="#4672aa" stroke-width="1.7" stroke-linejoin="round"/>
<path d="M595.94 301.00 L596.19 301.00 L596.44 301.00 L596.69 301.00 L596.94 301.00 L597.19 301.00 L597.44 300.99 L597.69 300.99 L597.94 300.99 L598.19 300.99 L598.44 300.99 L598.69 300.99 L598.94 300.98 L599.19 300.98 L599.44 300.98 L599.69 300.98 L599.94 300.98 L600.19 300.97 L600.44 300.97 L600.69 300.97 L600.94 300.97 L601.19 300.97 L601.44 300.97 L601.69 300.96 L601.94 300.96 L602.19 300.96 L602.44 300.96 L602.69 300.96 L602.94 300.95 L603.19 300.95 L603.44 300.95 L603.69 300.95 L603.94 300.95 L604.19 300.95 L604.44 300.94 L604.69 300.94 L604.94 300.94 L605.19 300.94 L605.44 300.94 L605.69 300.94 L605.94 300.93 L606.19 300.93 L606.44 300.93 L606.69 300.93 L606.94 300.93 L607.19 300.92 L607.44 300.92 L607.69 300.92 L607.94 300.92 L608.19 300.92 L608.44 300.92 L608.69 300.91 L608.94 300.91 L609.19 300.91 L609.44 300.91 L609.69 300.91 L609.94 300.90 L610.19 300.90 L610.44 300.90 L610.69 300.90 L610.94 300.90 L611.19 300.90 L611.44 300.89 L611.69 300.89 L611.94 300.89 L612.19 300.89 L612.44 300.89 L612.69 300.89 L612.94 300.88 L613.19 300.88 L613.44 300.88 L613.69 300.88 L613.94 300.88 L614.19 300.87 L614.44 300.87 L614.69 300.87 L614.94 300.87 L615.19 300.87 L615.44 300.87 L615.69 300.86 L615.94 300.86 L616.19 300.86 L616.44 300.86 L616.69 300.86 L616.94 300.86 L617.19 300.85 L617.44 300.85 L617.69 300.85 L617.94 300.85 L618.19 300.85 L618.44 300.84 L618.69 300.84 L618.94 300.84 L619.19 300.84 L619.44 300.84 L619.69 300.84 L619.94 300.83 L620.19 300.83 L620.44 300.83 L620.69 300.83 L620.94 300.83 L621.19 300.82 L621.44 300.82 L621.69 300.82 L621.94 300.82 L622.19 300.82 L622.44 300.82 L622.69 300.81 L622.94 300.81 L623.19 300.81 L623.44 300.81 L623.69 300.81 L623.94 300.80 L624.19 300.80 L624.44 300.80 L624.69 300.80 L624.94 300.80 L625.19 300.80 L625.44 300.79 L625.69 300.79 L625.94 300.79 L626.19 300.79 L626.44 300.79 L626.69 300.78 L626.94 300.78 L627.19 300.78 L627.44 300.78 L627.69 300.78 L627.94 300.77 L628.19 300.77 L628.44 300.77 L628.69 300.77 L628.94 300.77 L629.19 300.77 L629.44 300.76 L629.69 300.76 L629.94 300.76 L630.19 300.76 L630.44 300.76 L630.69 300.75 L630.94 300.75 L631.19 300.75 L631.44 300.75 L631.69 300.75 L631.94 300.74 L632.19 300.74 L632.44 300.74 L632.69 300.74 L632.94 300.74 L633.19 300.73 L633.44 300.73 L633.69 300.73 L633.94 300.73 L634.19 300.72 L634.44 300.72 L634.69 300.72 L634.94 300.72 L635.19 300.72 L635.44 300.71 L635.69 300.71 L635.94 300.71 L636.19 300.71 L636.44 300.71 L636.69 300.70 L636.94 300.70 L637.19 300.70 L637.44 300.70 L637.69 300.69 L637.94 300.69 L638.19 300.69 L638.44 300.69 L638.69 300.68 L638.94 300.68 L639.19 300.68 L639.44 300.68 L639.69 300.67 L639.94 300.67 L640.19 300.67 L640.44 300.67 L640.69 300.66 L640.94 300.66 L641.19 300.66 L641.44 300.66 L641.69 300.65 L641.94 300.65 L642.19 300.65 L642.44 300.65 L642.69 300.64 L642.94 300.64 L643.19 300.64 L643.44 300.64 L643.69 300.63 L643.94 300.63 L644.19 300.63 L644.44 300.63 L644.69 300.62 L644.94 300.62 L645.19 300.62 L645.44 300.62 L645.69 300.61 L645.94 300.61 L646.19 300.61 L646.44 300.60 L646.69 300.60 L646.94 300.60 L647.19 300.60 L647.44 300.59 L647.69 300.59 L647.94 300.59 L648.19 300.59 L648.44 300.58 L648.69 300.58 L648.94 300.58 L649.19 300.57 L649.44 300.57 L649.69 300.57 L649.94 300.56 L650.19 300.56 L650.44 300.56 L650.69 300.55 L650.94 300.55 L651.19 300.55 L651.44 300.54 L651.69 300.54 L651.94 300.53 L652.19 300.53 L652.44 300.52 L652.69 300.51 L652.94 300.50 L653.19 300.50 L653.44 300.49 L653.69 300.47 L653.94 300.46 L654.19 300.45 L654.44 300.43 L654.69 300.42 L654.94 300.40 L655.19 300.38 L655.44 300.36 L655.69 300.34 L655.94 300.32 L656.19 300.29 L656.44 300.27 L656.69 300.24 L656.94 300.22 L657.19 300.19 L657.44 300.16 L657.69 300.14 L657.94 300.11 L658.19 300.09 L658.44 300.07 L658.69 300.05 L658.94 300.04 L659.19 300.02 L659.44 300.01 L659.69 300.00 L659.94 300.00 L660.19 300.00 L660.44 300.00 L660.69 300.00 L660.94 300.01 L661.19 300.01 L661.44 300.02 L661.69 300.03 L661.94 300.05 L662.19 300.06 L662.44 300.07 L662.69 300.09 L662.94 300.11 L663.19 300.12 L663.44 300.14 L663.69 300.16 L663.94 300.17 L664.19 300.19 L664.44 300.21 L664.69 300.23 L664.94 300.24 L665.19 300.26 L665.44 300.27 L665.69 300.29 L665.94 300.30 L666.19 300.31 L666.44 300.32 L666.69 300.34 L666.94 300.34 L667.19 300.35 L667.44 300.36 L667.69 300.37 L667.94 300.38 L668.19 300.38 L668.44 300.39 L668.69 300.39 L668.94 300.39 L669.19 300.40 L669.44 300.40 L669.69 300.40 L669.94 300.40 L670.19 300.40 L670.44 300.40 L670.69 300.40 L670.94 300.40 L671.19 300.41 L671.44 300.41 L671.69 300.40 L671.94 300.40 L672.19 300.40 L672.44 300.40 L672.69 300.40 L672.94 300.40 L673.19 300.40 L673.44 300.40 L673.69 300.40 L673.94 300.40 L674.19 300.40 L674.44 300.40 L674.69 300.40 L674.94 300.40 L675.19 300.39 L675.44 300.39 L675.69 300.39 L675.94 300.39 L676.19 300.39 L676.44 300.39 L676.69 300.39 L676.94 300.39 L677.19 300.39 L677.44 300.39 L677.69 300.38 L677.94 300.38 L678.19 300.38 L678.44 300.38 L678.69 300.38 L678.94 300.38 L679.19 300.38 L679.44 300.38 L679.69 300.38 L679.94 300.37 L680.19 300.37 L680.44 300.37 L680.69 300.37 L680.94 300.37 L681.19 300.37 L681.44 300.37 L681.69 300.37 L681.94 300.37 L682.19 300.36 L682.44 300.36 L682.69 300.36 L682.94 300.36 L683.19 300.36 L683.44 300.36 L683.69 300.36 L683.94 300.36 L684.19 300.36 L684.44 300.35 L684.69 300.35 L684.94 300.35 L685.19 300.35 L685.44 300.35 L685.69 300.35 L685.94 300.35 L686.19 300.35 L686.44 300.34 L686.69 300.34 L686.94 300.34 L687.19 300.34 L687.44 300.34 L687.69 300.34 L687.94 300.34 L688.19 300.33 L688.44 300.33 L688.69 300.33 L688.94 300.33 L689.19 300.33 L689.44 300.33 L689.69 300.33 L689.94 300.32 L690.19 300.32 L690.44 300.32 L690.69 300.32 L690.94 300.32 L691.19 300.32 L691.44 300.32 L691.69 300.31 L691.94 300.31 L692.19 300.31 L692.44 300.31 L692.69 300.31 L692.94 300.31 L693.19 300.31 L693.44 300.30 L693.69 300.30 L693.94 300.30 L694.19 300.30 L694.44 300.30 L694.69 300.30 L694.94 300.29 L695.19 300.29 L695.44 300.29 L695.69 300.29 L695.94 300.29 L696.19 300.29 L696.44 300.28 L696.69 300.28 L696.94 300.28 L697.19 300.28 L697.44 300.28 L697.69 300.28 L697.94 300.28 L698.19 300.27 L698.44 300.27 L698.69 300.27 L698.94 300.27 L699.19 300.27 L699.44 300.27 L699.69 300.26 L699.94 300.26 L700.19 300.26 L700.44 300.26 L700.69 300.26 L700.94 300.26 L701.19 300.26 L701.44 300.25 L701.69 300.25 L701.94 300.25 L702.19 300.25 L702.44 300.25 L702.69 300.24 L702.94 300.24 L703.19 300.24 L703.44 300.24 L703.69 300.24 L703.94 300.24 L704.19 300.23 L704.44 300.23 L704.69 300.23 L704.94 300.23 L705.19 300.23 L705.44 300.22 L705.69 300.22 L705.94 300.22 L706.19 300.22 L706.44 300.22 L706.69 300.22 L706.94 300.21 L707.19 300.21 L707.44 300.21 L707.69 300.21 L707.94 300.21 L708.19 300.21 L708.44 300.20 L708.69 300.20 L708.94 300.20 L709.19 300.20 L709.44 300.20 L709.69 300.19 L709.94 300.19 L710.19 300.19 L710.44 300.19 L710.69 300.19 L710.94 300.19 L711.19 300.18 L711.44 300.18 L711.69 300.18 L711.94 300.18 L712.19 300.18 L712.44 300.17 L712.69 300.17 L712.94 300.17 L713.19 300.17 L713.44 300.17 L713.69 300.17 L713.94 300.16 L714.19 300.16 L714.44 300.16 L714.69 300.16 L714.94 300.16 L715.19 300.16 L715.44 300.15 L715.69 300.15 L715.94 300.15 L716.19 300.15 L716.44 300.15 L716.69 300.14 L716.94 300.14 L717.19 300.14 L717.44 300.14 L717.69 300.14 L717.94 300.14 L718.19 300.13 L718.44 300.13 L718.69 300.13 L718.94 300.13 L719.19 300.13 L719.44 300.13 L719.69 300.12 L719.94 300.12 L720.19 300.12 L720.44 300.12 L720.69 300.12 L720.94 300.11 L721.19 300.11 L721.44 300.11 L721.69 300.11 L721.94 300.11 L722.19 300.11 L722.44 300.10 L722.69 300.10 L722.94 300.10 L723.19 300.10 L723.44 300.10 L723.69 300.09 L723.94 300.09 L724.19 300.09 L724.44 300.09 L724.69 300.09 L724.94 300.09 L725.19 300.08 L725.44 300.08 L725.69 300.08 L725.94 300.08 L726.19 300.08 L726.44 300.08 L726.69 300.07 L726.94 300.07 L727.19 300.07 L727.44 300.07 L727.69 300.07 L727.94 300.06 L728.19 300.06 L728.44 300.06 L728.69 300.06 L728.94 300.06 L729.19 300.06 L729.44 300.05 L729.69 300.05 L729.94 300.05 L730.19 300.05 L730.44 300.05 L730.69 300.04 L730.94 300.04 L731.19 300.04 L731.44 300.04 L731.69 300.03 L731.94 300.03 L732.19 300.03 L732.44 300.03 L732.69 300.02 L732.94 300.02 L733.19 300.02 L733.44 300.01 L733.69 300.01 L733.94 300.00 L734.19 300.00 L734.44 299.99 L734.69 299.99 L734.94 299.98 L735.19 299.97 L735.44 299.96 L735.69 299.95 L735.94 299.94 L736.19 299.93 L736.44 299.91 L736.69 299.89 L736.94 299.87 L737.19 299.85 L737.44 299.81 L737.69 299.78 L737.94 299.74 L738.19 299.70 L738.44 299.65 L738.69 299.60 L738.94 299.55 L739.19 299.49 L739.44 299.43 L739.69 299.37 L739.94 299.30 L740.19 299.23 L740.44 299.15 L740.69 299.07 L740.94 298.98 L741.19 298.89 L741.44 298.80 L741.69 298.70 L741.94 298.59 L742.19 298.49 L742.44 298.38 L742.69 298.27 L742.94 298.15 L743.19 298.04 L743.44 297.92 L743.69 297.80 L743.94 297.66 L744.19 297.51 L744.44 297.32 L744.69 297.07 L744.94 296.70 L745.19 296.16 L745.44 295.37 L745.69 294.25 L745.94 292.72 L746.19 290.77 L746.44 288.45 L746.69 285.87 L746.94 283.28 L747.19 280.96 L747.44 279.22 L747.69 278.30 L747.94 278.29 L748.19 278.94 L748.44 280.14 L748.69 281.78 L748.94 283.72 L749.19 285.78 L749.44 287.83 L749.69 289.75 L749.94 291.45 L750.19 292.89 L750.44 294.05 L750.69 294.96 L750.94 295.64 L751.19 296.14 L751.44 296.51 L751.69 296.77 L751.94 296.95 L752.19 297.10 L752.44 297.21 L752.69 297.31 L752.94 297.39 L753.19 297.47 L753.44 297.56 L753.69 297.64 L753.94 297.71 L754.19 297.79 L754.44 297.87 L754.69 297.94 L754.94 298.01 L755.19 298.08 L755.44 298.15 L755.69 298.21 L755.94 298.27 L756.19 298.33 L756.44 298.39 L756.69 298.45 L756.94 298.50 L757.19 298.55 L757.44 298.59 L757.69 298.64 L757.94 298.68 L758.19 298.71 L758.44 298.75 L758.69 298.78 L758.94 298.81 L759.19 298.84 L759.44 298.86 L759.69 298.88 L759.94 298.90 L760.19 298.92 L760.44 298.94 L760.69 298.95 L760.94 298.96 L761.19 298.98 L761.44 298.99 L761.69 298.99 L761.94 299.00 L762.19 299.01 L762.44 299.01 L762.69 299.01 L762.94 299.02 L763.19 299.02 L763.44 299.02 L763.69 299.02 L763.94 299.02 L764.19 299.02 L764.44 299.01 L764.69 299.01 L764.94 299.01 L765.19 299.01 L765.44 299.00 L765.69 299.00 L765.94 299.00 L766.19 298.99 L766.44 298.99 L766.69 298.98 L766.94 298.98 L767.19 298.97 L767.44 298.97 L767.69 298.96 L767.94 298.96 L768.19 298.95 L768.44 298.95 L768.69 298.94 L768.94 298.94 L769.19 298.93 L769.44 298.93 L769.69 298.92 L769.94 298.91 L770.19 298.91 L770.44 298.90 L770.69 298.90 L770.94 298.89 L771.19 298.89 L771.44 298.88 L771.69 298.88 L771.94 298.87 L772.19 298.86 L772.44 298.86 L772.69 298.85 L772.94 298.85 L773.19 298.84 L773.44 298.84 L773.69 298.83 L773.94 298.82 L774.19 298.82 L774.44 298.81 L774.69 298.81 L774.94 298.80 L775.19 298.79 L775.44 298.78 L775.69 298.76 L775.94 298.75 L776.19 298.73 L776.44 298.72 L776.69 298.71 L776.94 298.69 L777.19 298.68 L777.44 298.66 L777.69 298.65 L777.94 298.64 L778.19 298.62 L778.44 298.61 L778.69 298.59 L778.94 298.58 L779.19 298.57 L779.44 298.55 L779.69 298.54 L779.94 298.53 L780.19 298.51 L780.44 298.50 L780.69 298.48 L780.94 298.47 L781.19 298.46 L781.44 298.44 L781.69 298.43 L781.94 298.41 L782.19 298.40 L782.44 298.39 L782.69 298.37 L782.94 298.36 L783.19 298.34 L783.44 298.33 L783.69 298.32 L783.94 298.30 L784.19 298.29 L784.44 298.28 L784.69 298.26 L784.94 298.25 L785.19 298.23 L785.44 298.22 L785.69 298.21 L785.94 298.19 L786.19 298.18 L786.44 298.16 L786.69 298.15 L786.94 298.14 L787.19 298.12 L787.44 298.11 L787.69 298.09 L787.94 298.08 L788.19 298.07 L788.44 298.05 L788.69 298.04 L788.94 298.03 L789.19 298.01 L789.44 298.00 L789.69 297.98 L789.94 297.97 L790.19 297.96 L790.44 297.94 L790.69 297.93 L790.94 297.91 L791.19 297.90 L791.44 297.89 L791.69 297.87 L791.94 297.86 L792.19 297.85 L792.44 297.83 L792.69 297.82 L792.94 297.80 L793.19 297.79 L793.44 297.78 L793.69 297.76 L793.94 297.75 L794.19 297.73 L794.44 297.72 L794.69 297.71 L794.94 297.69 L795.19 297.68 L795.44 297.66 L795.69 297.65 L795.94 297.64 L796.19 297.62 L796.44 297.61 L796.69 297.59 L796.94 297.58 L797.19 297.57 L797.44 297.55 L797.69 297.54 L797.94 297.53 L798.19 297.51 L798.44 297.50 L798.69 297.48 L798.94 297.47 L799.19 297.46 L799.44 297.44 L799.69 297.43 L799.94 297.41 L800.19 297.40 L800.44 297.39 L800.69 297.37 L800.94 297.36 L801.19 297.34 L801.44 297.33 L801.69 297.32 L801.94 297.30 L802.19 297.29 L802.44 297.28 L802.69 297.26 L802.94 297.25 L803.19 297.23 L803.44 297.22 L803.69 297.21 L803.94 297.19 L804.19 297.18 L804.44 297.16 L804.69 297.15 L804.94 297.14 L805.19 297.12 L805.44 297.11 L805.69 297.09 L805.94 297.08 L806.19 297.07 L806.44 297.05 L806.69 297.04 L806.94 297.03 L807.19 297.01 L807.44 297.00 L807.69 296.98 L807.94 296.97 L808.19 296.96 L808.44 296.94 L808.69 296.93 L808.94 296.91 L809.19 296.90 L809.44 296.89 L809.69 296.87 L809.94 296.86 L810.19 296.84 L810.44 296.83 L810.69 296.82 L810.94 296.80 L811.19 296.79 L811.44 296.78 L811.69 296.76 L811.94 296.75 L812.19 296.73 L812.44 296.72 L812.69 296.70 L812.94 296.69 L813.19 296.68 L813.44 296.66 L813.69 296.65 L813.94 296.63 L814.19 296.62 L814.44 296.60 L814.69 296.58 L814.94 296.57 L815.19 296.55 L815.44 296.54 L815.69 296.52 L815.94 296.50 L816.19 296.48 L816.44 296.46 L816.69 296.44 L816.94 296.42 L817.19 296.40 L817.44 296.37 L817.69 296.35 L817.94 296.32 L818.19 296.29 L818.44 296.26 L818.69 296.23 L818.94 296.20 L819.19 296.16 L819.44 296.12 L819.69 296.08 L819.94 296.04 L820.19 296.00 L820.44 295.95 L820.69 295.90 L820.94 295.84 L821.19 295.79 L821.44 295.73 L821.69 295.68 L821.94 295.62 L822.19 295.56 L822.44 295.50 L822.69 295.43 L822.94 295.35 L823.19 295.26 L823.44 295.13 L823.69 294.93 L823.94 294.63 L824.19 294.19 L824.44 293.58 L824.69 292.78 L824.94 291.84 L825.19 290.85 L825.44 289.93 L825.69 289.24 L825.94 288.90 L826.19 288.93 L826.44 289.22 L826.69 289.73 L826.94 290.38 L827.19 291.11 L827.44 291.83 L827.69 292.49 L827.94 293.05 L828.19 293.49 L828.44 293.82 L828.69 294.05 L828.94 294.20 L829.19 294.28 L829.44 294.32 L829.69 294.32 L829.94 294.28 L830.19 294.19 L830.44 294.02 L830.69 293.74 L830.94 293.31 L831.19 292.74 L831.44 292.04 L831.69 291.30 L831.94 290.65 L832.19 290.22 L832.44 290.11 L832.69 290.26 L832.94 290.61 L833.19 291.12 L833.44 291.70 L833.69 292.29 L833.94 292.84 L834.19 293.31 L834.44 293.67 L834.69 293.94 L834.94 294.13 L835.19 294.25 L835.44 294.32 L835.69 294.36 L835.94 294.38 L836.19 294.38 L836.44 294.38 L836.69 294.38 L836.94 294.37 L837.19 294.35 L837.44 294.33 L837.69 294.31 L837.94 294.29 L838.19 294.29 L838.44 294.31 L838.69 294.31 L838.94 294.32 L839.19 294.32 L839.44 294.32 L839.69 294.32 L839.94 294.31 L840.19 294.30 L840.44 294.28 L840.69 294.24 L840.94 294.18 L841.19 294.06 L841.44 293.86 L841.69 293.54 L841.94 293.06 L842.19 292.42 L842.44 291.60 L842.69 290.65 L842.94 289.65 L843.19 288.74 L843.44 288.03 L843.69 287.65 L843.94 287.64 L844.19 287.89 L844.44 288.36 L844.69 288.99 L844.94 289.71 L845.19 290.45 L845.44 291.15 L845.69 291.76 L845.94 292.24 L846.19 292.60 L846.44 292.82 L846.69 292.93 L846.94 292.93 L847.19 292.84 L847.44 292.68 L847.69 292.47 L847.94 292.20 L848.19 291.89 L848.44 291.55 L848.69 291.17 L848.94 290.76 L849.19 290.32 L849.44 289.86 L849.69 289.37 L849.94 288.86 L850.19 288.28 L850.44 287.66 L850.69 287.01 L850.94 286.30 L851.19 285.44 L851.44 284.25 L851.69 282.41 L851.94 279.42 L852.19 274.61 L852.44 267.30 L852.69 257.10 L852.94 244.24 L853.19 229.90 L853.44 216.20 L853.69 205.70 L853.94 200.69 L854.19 201.62 L854.44 206.74 L854.69 215.18 L854.94 225.73 L855.19 237.04 L855.44 247.92 L855.69 257.48 L855.94 265.24 L856.19 271.09 L856.44 275.13 L856.69 277.58 L856.94 278.62 L857.19 278.39 L857.44 277.10 L857.69 275.12 L857.94 273.05 L858.19 271.66 L858.44 271.55 L858.69 272.56 L858.94 274.39 L859.19 276.73 L859.44 279.21 L859.69 281.52 L859.94 283.46 L860.19 284.95 L860.44 286.02 L860.69 286.76 L860.94 287.26 L861.19 287.60 L861.44 287.84 L861.69 288.02 L861.94 288.15 L862.19 288.25 L862.44 288.32 L862.69 288.35 L862.94 288.32 L863.19 288.17 L863.44 287.79 L863.69 287.01 L863.94 285.60 L864.19 283.38 L864.44 280.39 L864.69 277.03 L864.94 274.03 L865.19 272.23 L865.44 272.08 L865.69 273.11 L865.94 275.00 L866.19 277.34 L866.44 279.70 L866.69 281.73 L866.94 283.28 L867.19 284.29 L867.44 284.85 L867.69 285.06 L867.94 285.00 L868.19 284.70 L868.44 284.11 L868.69 283.09 L868.94 281.39 L869.19 278.71 L869.44 274.76 L869.69 269.40 L869.94 262.76 L870.19 255.35 L870.44 248.11 L870.69 242.17 L870.94 238.63 L871.19 238.13 L871.44 239.93 L871.69 243.58 L871.94 248.61 L872.19 254.43 L872.44 260.45 L872.69 266.16 L872.94 271.19 L873.19 275.35 L873.44 278.59 L873.69 280.99 L873.94 282.69 L874.19 283.86 L874.44 284.65 L874.69 285.18 L874.94 285.55 L875.19 285.83 L875.44 286.05 L875.69 286.23 L875.94 286.40 L876.19 286.54 L876.44 286.66 L876.69 286.74 L876.94 286.78 L877.19 286.74 L877.44 286.61 L877.69 286.36 L877.94 285.98 L878.19 285.45 L878.44 284.81 L878.69 284.11 L878.94 283.41 L879.19 282.79 L879.44 282.36 L879.69 282.15 L879.94 282.15 L880.19 282.30 L880.44 282.57 L880.69 282.92 L880.94 283.31 L881.19 283.69 L881.44 284.03 L881.69 284.29 L881.94 284.46 L882.19 284.52 L882.44 284.48 L882.69 284.35 L882.94 284.14 L883.19 283.85 L883.44 283.52 L883.69 283.14 L883.94 282.72 L884.19 282.33 L884.44 281.93 L884.69 281.52 L884.94 281.09 L885.19 280.64 L885.44 280.14 L885.69 279.58 L885.94 278.87 L886.19 277.92 L886.44 276.56 L886.69 274.56 L886.94 271.64 L887.19 267.45 L887.44 261.68 L887.69 254.10 L887.94 244.68 L888.19 233.70 L888.44 221.78 L888.69 209.89 L888.94 199.21 L889.19 191.00 L889.44 187.50 L889.69 187.50 L889.94 188.60 L890.19 194.56 L890.44 202.96 L890.69 212.97 L890.94 223.71 L891.19 234.36 L891.44 244.25 L891.69 252.94 L891.94 260.19 L892.19 265.99 L892.44 270.45 L892.69 273.76 L892.94 276.17 L893.19 277.90 L893.44 279.16 L893.69 280.10 L893.94 280.84 L894.19 281.45 L894.44 282.00 L894.69 282.50 L894.94 282.99 L895.19 283.46 L895.44 283.92 L895.69 284.37 L895.94 284.81 L896.19 285.25 L896.44 285.67 L896.69 286.08 L896.94 286.48 L897.19 286.86 L897.44 287.23 L897.69 287.58 L897.94 287.92 L898.19 288.23 L898.44 288.52 L898.69 288.80 L898.94 289.05 L899.19 289.28 L899.44 289.48 L899.69 289.66 L899.94 289.81 L900.19 289.94 L900.44 290.04 L900.69 290.10 L900.94 290.14 L901.19 290.15 L901.44 290.12 L901.69 290.06 L901.94 289.96 L902.19 289.81 L902.44 289.61 L902.69 289.38 L902.94 289.12 L903.19 288.82 L903.44 288.49 L903.69 288.12 L903.94 287.73 L904.19 287.30 L904.44 286.82 L904.69 286.26 L904.94 285.56 L905.19 284.65 L905.44 283.44 L905.69 281.93 L905.94 280.18 L906.19 278.35 L906.44 276.54 L906.69 274.66 L906.94 272.10 L907.19 268.16 L907.44 262.21 L907.69 253.93 L907.94 243.68 L908.19 232.67 L908.44 222.82 L908.69 216.27 L908.94 214.59 L909.19 217.05 L909.44 222.62 L909.69 230.54 L909.94 239.73 L910.19 249.13 L910.44 257.85 L910.69 265.29 L910.94 271.21 L911.19 275.64 L911.44 278.78 L911.69 280.92 L911.94 282.36 L912.19 283.33 L912.44 284.03 L912.69 284.56 L912.94 285.00 L913.19 285.39 L913.44 285.76 L913.69 286.12 L913.94 286.46 L914.19 286.78 L914.44 287.09 L914.69 287.39 L914.94 287.67 L915.19 287.93 L915.44 288.18 L915.69 288.41 L915.94 288.62 L916.19 288.80 L916.44 288.96 L916.69 289.08 L916.94 289.13 L917.19 289.06 L917.44 288.80 L917.69 288.26 L917.94 287.37 L918.19 286.11 L918.44 284.55 L918.69 282.89 L918.94 281.42 L919.19 280.46 L919.44 280.26 L919.69 280.68 L919.94 281.58 L920.19 282.83 L920.44 284.28 L920.69 285.74 L920.94 287.10 L921.19 288.26 L921.44 289.18 L921.69 289.88 L921.94 290.38 L922.19 290.76 L922.44 291.05 L922.69 291.27 L922.94 291.44 L923.19 291.59 L923.44 291.72 L923.69 291.85 L923.94 291.97 L924.19 292.09 L924.44 292.21 L924.69 292.32 L924.94 292.44 L925.19 292.55 L925.44 292.66 L925.69 292.76 L925.94 292.87 L926.19 292.97 L926.44 293.07 L926.69 293.17 L926.94 293.26 L927.19 293.35 L927.44 293.44 L927.69 293.53 L927.94 293.61 L928.19 293.69 L928.44 293.77 L928.69 293.85 L928.94 293.92 L929.19 293.99 L929.44 294.06 L929.69 294.13 L929.94 294.20 L930.19 294.26 L930.44 294.32 L930.69 294.38 L930.94 294.44 L931.19 294.49 L931.44 294.55 L931.69 294.60 L931.94 294.65 L932.19 294.69 L932.44 294.74 L932.69 294.78 L932.94 294.82 L933.19 294.85 L933.44 294.86 L933.69 294.87 L933.94 294.88 L934.19 294.89 L934.44 294.90 L934.69 294.90 L934.94 294.91 L935.19 294.91 L935.44 294.91 L935.69 294.91 L935.94 294.91 L936.19 294.91 L936.44 294.90 L936.69 294.89 L936.94 294.87 L937.19 294.83 L937.44 294.75 L937.69 294.60 L937.94 294.35 L938.19 293.96 L938.44 293.41 L938.69 292.71 L938.94 291.92 L939.19 291.11 L939.44 290.43 L939.69 290.00 L939.94 289.91 L940.19 290.10 L940.44 290.50 L940.69 291.07 L940.94 291.75 L941.19 292.46 L941.44 293.15 L941.69 293.77 L941.94 294.29 L942.19 294.72 L942.44 295.04 L942.69 295.28 L942.94 295.47 L943.19 295.60 L943.44 295.71 L943.69 295.79 L943.94 295.86 L944.19 295.93 L944.44 296.00 L944.69 296.06 L944.94 296.12 L945.19 296.18 L945.44 296.24 L945.69 296.30 L945.94 296.36 L946.19 296.42 L946.44 296.47 L946.69 296.53 L946.94 296.59 L947.19 296.64 L947.44 296.70 L947.69 296.75 L947.94 296.80 L948.19 296.85 L948.44 296.90 L948.69 296.95 L948.94 296.99 L949.19 297.04 L949.44 297.09 L949.69 297.13 L949.94 297.17 L950.19 297.22 L950.44 297.26 L950.69 297.30 L950.94 297.34 L951.19 297.38 L951.44 297.42 L951.69 297.46 L951.94 297.49 L952.19 297.53 L952.44 297.57 L952.69 297.61 L952.94 297.64 L953.19 297.68 L953.44 297.71 L953.69 297.75 L953.94 297.78 L954.19 297.80 L954.44 297.82 L954.69 297.84 L954.94 297.86 L955.19 297.88 L955.44 297.89 L955.69 297.91 L955.94 297.93 L956.19 297.95 L956.44 297.96 L956.69 297.98 L956.94 298.00 L957.19 298.02 L957.44 298.03 L957.69 298.05 L957.94 298.07 L958.19 298.09 L958.44 298.10 L958.69 298.12 L958.94 298.14 L959.19 298.15 L959.44 298.17 L959.69 298.19 L959.94 298.20 L960.19 298.22 L960.44 298.24 L960.69 298.26 L960.94 298.27 L961.19 298.29 L961.44 298.31 L961.69 298.32 L961.94 298.34 L962.19 298.36 L962.44 298.38 L962.69 298.39 L962.94 298.41 L963.19 298.43 L963.44 298.44 L963.69 298.46 L963.94 298.48 L964.19 298.49 L964.44 298.51 L964.69 298.53 L964.94 298.55 L965.19 298.56 L965.44 298.58 L965.69 298.60 L965.94 298.61 L966.19 298.63 L966.44 298.65 L966.69 298.67 L966.94 298.68 L967.19 298.70 L967.44 298.72 L967.69 298.73 L967.94 298.75 L968.19 298.77 L968.44 298.78 L968.69 298.80 L968.94 298.82 L969.19 298.84 L969.44 298.85 L969.69 298.87 L969.94 298.89 L970.19 298.90 L970.44 298.92 L970.69 298.94 L970.94 298.95 L971.19 298.97 L971.44 298.99 L971.69 299.01 L971.94 299.02 L972.19 299.04 L972.44 299.06 L972.69 299.07 L972.94 299.09 L973.19 299.11 L973.44 299.13 L973.69 299.14 L973.94 299.16 L974.19 299.18 L974.44 299.19 L974.69 299.21 L974.94 299.23 L975.19 299.24 L975.44 299.26 L975.69 299.28 L975.94 299.30 L976.19 299.30 L976.44 299.31 L976.69 299.31 L976.94 299.32 L977.19 299.32 L977.44 299.33 L977.69 299.33 L977.94 299.34 L978.19 299.34 L978.44 299.35 L978.69 299.36 L978.94 299.36 L979.19 299.37 L979.44 299.37 L979.69 299.38 L979.94 299.38 L980.19 299.39 L980.44 299.39 L980.69 299.40 L980.94 299.40 L981.19 299.41 L981.44 299.41 L981.69 299.42 L981.94 299.42 L982.19 299.43 L982.44 299.43 L982.69 299.44 L982.94 299.44 L983.19 299.45 L983.44 299.45 L983.69 299.46 L983.94 299.46 L984.19 299.47 L984.44 299.47 L984.69 299.48 L984.94 299.48 L985.19 299.49 L985.44 299.49 L985.69 299.50 L985.94 299.50 L986.19 299.51 L986.44 299.51 L986.69 299.52 L986.94 299.52 L987.19 299.53 L987.44 299.53 L987.69 299.54 L987.94 299.54 L988.19 299.55 L988.44 299.55 L988.69 299.56 L988.94 299.56 L989.19 299.57 L989.44 299.57 L989.69 299.58 L989.94 299.58 L990.19 299.58 L990.44 299.59 L990.69 299.59 L990.94 299.59 L991.19 299.60 L991.44 299.60 L991.69 299.60 L991.94 299.61 L992.19 299.61 L992.44 299.61 L992.69 299.61 L992.94 299.62 L993.19 299.62 L993.44 299.62 L993.69 299.62 L993.94 299.62 L994.19 299.62 L994.44 299.62 L994.69 299.62 L994.94 299.62 L995.19 299.61 L995.44 299.61 L995.69 299.61 L995.94 299.61 L996.19 299.60 L996.44 299.60 L996.69 299.60 L996.94 299.59 L997.19 299.59 L997.44 299.58 L997.69 299.58 L997.94 299.57 L998.19 299.57 L998.44 299.56 L998.69 299.54 L998.94 299.52 L999.19 299.48 L999.44 299.41 L999.69 299.32 L999.94 299.20 L1000.19 299.04 L1000.44 298.85 L1000.69 298.63 L1000.94 298.41 L1001.19 298.22 L1001.44 298.08 L1001.69 298.01 L1001.94 298.01 L1002.19 298.07 L1002.44 298.18 L1002.69 298.33 L1002.94 298.50 L1003.19 298.68 L1003.44 298.87 L1003.69 299.04 L1003.94 299.19 L1004.19 299.32 L1004.44 299.42 L1004.69 299.51 L1004.94 299.57 L1005.19 299.62 L1005.44 299.66 L1005.69 299.69 L1005.94 299.71 L1006.19 299.73 L1006.44 299.74 L1006.69 299.76 L1006.94 299.77 L1007.19 299.78 L1007.44 299.79 L1007.69 299.81 L1007.94 299.82 L1008.19 299.83 L1008.44 299.84 L1008.69 299.86 L1008.94 299.87 L1009.19 299.88 L1009.44 299.89 L1009.69 299.90 L1009.94 299.91 L1010.19 299.92 L1010.44 299.93 L1010.69 299.94 L1010.94 299.95 L1011.19 299.96 L1011.44 299.97 L1011.69 299.98 L1011.94 299.99 L1012.19 300.00 L1012.44 300.01 L1012.69 300.02 L1012.94 300.03 L1013.19 300.03 L1013.44 300.04 L1013.69 300.05 L1013.94 300.06 L1014.19 300.06 L1014.44 300.07 L1014.69 300.08 L1014.94 300.08 L1015.19 300.09 L1015.44 300.10 L1015.69 300.10 L1015.94 300.11 L1016.19 300.12 L1016.44 300.12 L1016.69 300.13 L1016.94 300.13 L1017.19 300.14 L1017.44 300.14 L1017.69 300.15 L1017.94 300.16 L1018.19 300.16 L1018.44 300.17 L1018.69 300.17 L1018.94 300.18 L1019.19 300.18 L1019.44 300.19 L1019.69 300.19 L1019.94 300.20 L1020.19 300.20 L1020.44 300.21 L1020.69 300.21 L1020.94 300.22 L1021.19 300.22 L1021.44 300.23 L1021.69 300.23 L1021.94 300.24 L1022.19 300.25 L1022.44 300.25 L1022.69 300.26 L1022.94 300.26 L1023.19 300.27 L1023.44 300.27 L1023.69 300.28 L1023.94 300.28 L1024.19 300.29 L1024.44 300.29 L1024.69 300.30 L1024.94 300.30 L1025.19 300.31 L1025.44 300.31 L1025.69 300.32 L1025.94 300.32 L1026.19 300.33 L1026.44 300.33 L1026.69 300.34 L1026.94 300.34 L1027.19 300.35 L1027.44 300.35 L1027.69 300.36 L1027.94 300.36 L1028.19 300.37 L1028.44 300.37 L1028.69 300.38 L1028.94 300.38 L1029.19 300.39 L1029.44 300.39 L1029.69 300.40 L1029.94 300.40 L1030.19 300.41 L1030.44 300.41 L1030.69 300.42 L1030.94 300.42 L1031.19 300.43 L1031.44 300.43 L1031.69 300.44 L1031.94 300.44 L1032.19 300.45 L1032.44 300.46 L1032.69 300.46 L1032.94 300.47 L1033.19 300.47 L1033.44 300.48 L1033.69 300.48 L1033.94 300.49 L1034.19 300.49 L1034.44 300.50 L1034.69 300.50 L1034.94 300.51 L1035.19 300.51 L1035.44 300.52 L1035.69 300.52 L1035.94 300.53 L1036.19 300.53 L1036.44 300.54 L1036.69 300.54 L1036.94 300.55 L1037.19 300.55 L1037.44 300.56 L1037.69 300.56 L1037.94 300.57 L1038.19 300.57 L1038.44 300.58 L1038.69 300.58 L1038.94 300.59 L1039.19 300.59 L1039.44 300.60 L1039.69 300.60 L1039.94 300.61 L1040.19 300.61 L1040.44 300.62 L1040.69 300.62 L1040.94 300.63 L1041.19 300.63 L1041.44 300.64 L1041.69 300.64 L1041.94 300.65 L1042.19 300.65 L1042.44 300.66 L1042.69 300.66 L1042.94 300.67 L1043.19 300.68 L1043.44 300.68 L1043.69 300.69 L1043.94 300.69" fill="none" stroke="#4672aa" stroke-width="1.7" stroke-linejoin="round"/>
<path d="M596.06 438.40 L596.31 438.40 L596.56 438.40 L596.81 438.40 L597.06 438.40 L597.31 438.40 L597.56 438.40 L597.81 438.40 L598.06 438.40 L598.31 438.40 L598.56 438.40 L598.81 438.40 L599.06 438.40 L599.31 438.40 L599.56 438.40 L599.81 438.40 L600.06 438.40 L600.31 438.40 L600.56 438.40 L600.81 438.40 L601.06 438.40 L601.31 438.40 L601.56 438.40 L601.81 438.40 L602.06 438.40 L602.31 438.40 L602.56 438.40 L602.81 438.40 L603.06 438.40 L603.31 438.40 L603.56 438.40 L603.81 438.40 L604.06 438.40 L604.31 438.40 L604.56 438.40 L604.81 438.40 L605.06 438.40 L605.31 438.40 L605.56 438.40 L605.81 438.40 L606.06 438.40 L606.31 438.40 L606.56 438.40 L606.81 438.40 L607.06 438.40 L607.31 438.40 L607.56 438.40 L607.81 438.40 L608.06 438.40 L608.31 438.40 L608.56 438.40 L608.81 438.40 L609.06 438.40 L609.31 438.40 L609.56 438.40 L609.81 438.40 L610.06 438.40 L610.31 438.40 L610.56 438.40 L610.81 438.40 L611.06 438.40 L611.31 438.40 L611.56 438.40 L611.81 438.40 L612.06 438.40 L612.31 438.40 L612.56 438.40 L612.81 438.40 L613.06 438.40 L613.31 438.40 L613.56 438.40 L613.81 438.40 L614.06 438.40 L614.31 438.40 L614.56 438.40 L614.81 438.40 L615.06 438.40 L615.31 438.40 L615.56 438.40 L615.81 438.40 L616.06 438.40 L616.31 438.40 L616.56 438.40 L616.81 438.40 L617.06 438.40 L617.31 438.40 L617.56 438.40 L617.81 438.40 L618.06 438.40 L618.31 438.40 L618.56 438.40 L618.81 438.40 L619.06 438.40 L619.31 438.40 L619.56 438.40 L619.81 438.40 L620.06 438.40 L620.31 438.40 L620.56 438.40 L620.81 438.40 L621.06 438.40 L621.31 438.40 L621.56 438.40 L621.81 438.40 L622.06 438.40 L622.31 438.40 L622.56 438.40 L622.81 438.40 L623.06 438.40 L623.31 438.40 L623.56 438.40 L623.81 438.40 L624.06 438.40 L624.31 438.40 L624.56 438.40 L624.81 438.40 L625.06 438.40 L625.31 438.40 L625.56 438.40 L625.81 438.40 L626.06 438.40 L626.31 438.40 L626.56 438.40 L626.81 438.40 L627.06 438.40 L627.31 438.40 L627.56 438.40 L627.81 438.40 L628.06 438.40 L628.31 438.40 L628.56 438.40 L628.81 438.40 L629.06 438.40 L629.31 438.40 L629.56 438.40 L629.81 438.40 L630.06 438.40 L630.31 438.40 L630.56 438.40 L630.81 438.40 L631.06 438.40 L631.31 438.40 L631.56 438.40 L631.81 438.40 L632.06 438.40 L632.31 438.40 L632.56 438.40 L632.81 438.40 L633.06 438.40 L633.31 438.40 L633.56 438.40 L633.81 438.40 L634.06 438.40 L634.31 438.40 L634.56 438.40 L634.81 438.40 L635.06 438.40 L635.31 438.40 L635.56 438.40 L635.81 438.40 L636.06 438.40 L636.31 438.40 L636.56 438.40 L636.81 438.40 L637.06 438.40 L637.31 438.40 L637.56 438.40 L637.81 438.40 L638.06 438.40 L638.31 438.40 L638.56 438.40 L638.81 438.40 L639.06 438.40 L639.31 438.40 L639.56 438.40 L639.81 438.40 L640.06 438.40 L640.31 438.40 L640.56 438.40 L640.81 438.40 L641.06 438.40 L641.31 438.40 L641.56 438.40 L641.81 438.40 L642.06 438.40 L642.31 438.40 L642.56 438.40 L642.81 438.40 L643.06 438.40 L643.31 438.40 L643.56 438.40 L643.81 438.40 L644.06 438.40 L644.31 438.40 L644.56 438.40 L644.81 438.40 L645.06 438.40 L645.31 438.40 L645.56 438.40 L645.81 438.40 L646.06 438.40 L646.31 438.40 L646.56 438.40 L646.81 438.40 L647.06 438.40 L647.31 438.40 L647.56 438.40 L647.81 438.40 L648.06 438.40 L648.31 438.40 L648.56 438.40 L648.81 438.40 L649.06 438.40 L649.31 438.40 L649.56 438.40 L649.81 438.40 L650.06 438.40 L650.31 438.40 L650.56 438.40 L650.81 438.40 L651.06 438.40 L651.31 438.40 L651.56 438.40 L651.81 438.40 L652.06 438.40 L652.31 438.40 L652.56 438.40 L652.81 438.40 L653.06 438.40 L653.31 438.40 L653.56 438.40 L653.81 438.40 L654.06 438.40 L654.31 438.40 L654.56 438.40 L654.81 438.40 L655.06 438.27 L655.31 437.73 L655.56 437.19 L655.81 436.65 L656.06 436.11 L656.31 435.57 L656.56 435.03 L656.81 434.48 L657.06 433.94 L657.31 433.40 L657.56 432.99 L657.81 433.02 L658.06 433.05 L658.31 433.07 L658.56 433.09 L658.81 433.11 L659.06 433.13 L659.31 433.14 L659.56 433.15 L659.81 433.16 L660.06 433.16 L660.31 433.15 L660.56 433.14 L660.81 433.12 L661.06 433.09 L661.31 433.06 L661.56 433.02 L661.81 432.98 L662.06 432.93 L662.31 432.88 L662.56 432.82 L662.81 432.76 L663.06 432.70 L663.31 432.60 L663.56 432.43 L663.81 432.09 L664.06 431.40 L664.31 430.18 L664.56 428.36 L664.81 426.18 L665.06 424.21 L665.31 423.23 L665.56 423.49 L665.81 424.63 L666.06 426.36 L666.31 428.32 L666.56 430.17 L666.81 431.70 L667.06 432.85 L667.31 433.64 L667.56 434.19 L667.81 434.58 L668.06 434.86 L668.31 435.00 L668.56 435.13 L668.81 435.25 L669.06 435.37 L669.31 435.49 L669.56 435.60 L669.81 435.72 L670.06 435.82 L670.31 435.93 L670.56 436.03 L670.81 436.13 L671.06 436.22 L671.31 436.31 L671.56 436.40 L671.81 436.48 L672.06 436.55 L672.31 436.63 L672.56 436.70 L672.81 436.77 L673.06 436.83 L673.31 436.89 L673.56 436.95 L673.81 437.01 L674.06 437.06 L674.31 437.12 L674.56 437.17 L674.81 437.22 L675.06 437.27 L675.31 437.32 L675.56 437.37 L675.81 437.42 L676.06 437.46 L676.31 437.51 L676.56 437.56 L676.81 437.60 L677.06 437.65 L677.31 437.70 L677.56 437.74 L677.81 437.79 L678.06 437.83 L678.31 437.88 L678.56 437.92 L678.81 437.97 L679.06 438.02 L679.31 438.06 L679.56 438.11 L679.81 438.15 L680.06 438.20 L680.31 438.24 L680.56 438.29 L680.81 438.33 L681.06 438.36 L681.31 438.36 L681.56 438.36 L681.81 438.36 L682.06 438.36 L682.31 438.36 L682.56 438.36 L682.81 438.36 L683.06 438.35 L683.31 438.35 L683.56 438.35 L683.81 438.35 L684.06 438.35 L684.31 438.35 L684.56 438.35 L684.81 438.34 L685.06 438.34 L685.31 438.34 L685.56 438.34 L685.81 438.34 L686.06 438.34 L686.31 438.33 L686.56 438.33 L686.81 438.33 L687.06 438.29 L687.31 438.13 L687.56 437.96 L687.81 437.80 L688.06 437.63 L688.31 437.47 L688.56 437.30 L688.81 437.14 L689.06 436.98 L689.31 436.81 L689.56 436.65 L689.81 436.48 L690.06 436.32 L690.31 436.15 L690.56 435.99 L690.81 435.82 L691.06 435.66 L691.31 435.49 L691.56 435.33 L691.81 435.16 L692.06 434.99 L692.31 434.83 L692.56 434.66 L692.81 434.49 L693.06 434.36 L693.31 434.37 L693.56 434.37 L693.81 434.37 L694.06 434.38 L694.31 434.37 L694.56 434.37 L694.81 434.37 L695.06 434.36 L695.31 434.35 L695.56 434.34 L695.81 434.32 L696.06 434.30 L696.31 434.28 L696.56 434.26 L696.81 434.23 L697.06 434.21 L697.31 434.18 L697.56 434.15 L697.81 434.12 L698.06 434.09 L698.31 434.05 L698.56 434.02 L698.81 433.99 L699.06 433.97 L699.31 433.94 L699.56 433.92 L699.81 433.91 L700.06 433.89 L700.31 433.89 L700.56 433.89 L700.81 433.89 L701.06 433.90 L701.31 433.92 L701.56 433.94 L701.81 433.96 L702.06 433.99 L702.31 434.02 L702.56 434.05 L702.81 434.09 L703.06 434.12 L703.31 434.17 L703.56 434.21 L703.81 434.25 L704.06 434.30 L704.31 434.35 L704.56 434.39 L704.81 434.44 L705.06 434.49 L705.31 434.54 L705.56 434.58 L705.81 434.63 L706.06 434.67 L706.31 434.72 L706.56 434.76 L706.81 434.80 L707.06 434.84 L707.31 434.88 L707.56 434.91 L707.81 434.95 L708.06 434.98 L708.31 435.01 L708.56 435.04 L708.81 435.07 L709.06 435.10 L709.31 435.12 L709.56 435.15 L709.81 435.17 L710.06 435.19 L710.31 435.21 L710.56 435.23 L710.81 435.25 L711.06 435.26 L711.31 435.25 L711.56 435.23 L711.81 435.21 L712.06 435.20 L712.31 435.18 L712.56 435.17 L712.81 435.15 L713.06 435.13 L713.31 435.11 L713.56 435.10 L713.81 435.08 L714.06 435.06 L714.31 435.04 L714.56 435.02 L714.81 435.01 L715.06 434.99 L715.31 434.97 L715.56 434.95 L715.81 434.93 L716.06 434.92 L716.31 434.90 L716.56 434.88 L716.81 434.86 L717.06 434.84 L717.31 434.82 L717.56 434.81 L717.81 434.79 L718.06 434.77 L718.31 434.75 L718.56 434.73 L718.81 434.71 L719.06 434.70 L719.31 434.68 L719.56 434.66 L719.81 434.64 L720.06 434.62 L720.31 434.60 L720.56 434.59 L720.81 434.57 L721.06 434.55 L721.31 434.53 L721.56 434.51 L721.81 434.49 L722.06 434.47 L722.31 434.46 L722.56 434.44 L722.81 434.42 L723.06 434.40 L723.31 434.38 L723.56 434.36 L723.81 434.34 L724.06 434.33 L724.31 434.31 L724.56 434.29 L724.81 434.27 L725.06 434.25 L725.31 434.23 L725.56 434.21 L725.81 434.19 L726.06 434.18 L726.31 434.16 L726.56 434.14 L726.81 434.12 L727.06 434.10 L727.31 434.08 L727.56 434.06 L727.81 434.04 L728.06 434.02 L728.31 434.00 L728.56 433.98 L728.81 433.96 L729.06 433.94 L729.31 433.92 L729.56 433.90 L729.81 433.87 L730.06 433.86 L730.31 433.85 L730.56 433.85 L730.81 433.85 L731.06 433.84 L731.31 433.84 L731.56 433.83 L731.81 433.82 L732.06 433.81 L732.31 433.80 L732.56 433.79 L732.81 433.78 L733.06 433.77 L733.31 433.75 L733.56 433.74 L733.81 433.72 L734.06 433.70 L734.31 433.68 L734.56 433.65 L734.81 433.63 L735.06 433.60 L735.31 433.57 L735.56 433.54 L735.81 433.50 L736.06 433.47 L736.31 433.43 L736.56 433.39 L736.81 433.34 L737.06 433.30 L737.31 433.25 L737.56 433.20 L737.81 433.16 L738.06 433.10 L738.31 433.05 L738.56 433.00 L738.81 432.95 L739.06 432.89 L739.31 432.83 L739.56 432.77 L739.81 432.69 L740.06 432.60 L740.31 432.47 L740.56 432.28 L740.81 432.01 L741.06 431.63 L741.31 431.08 L741.56 430.35 L741.81 429.41 L742.06 428.28 L742.31 427.01 L742.56 425.68 L742.81 424.41 L743.06 423.35 L743.31 422.61 L743.56 422.31 L743.81 422.41 L744.06 422.80 L744.31 423.45 L744.56 424.31 L744.81 425.30 L745.06 426.36 L745.31 427.42 L745.56 428.42 L745.81 429.32 L746.06 430.10 L746.31 430.75 L746.56 431.27 L746.81 431.68 L747.06 431.99 L747.31 432.22 L747.56 432.39 L747.81 432.52 L748.06 432.61 L748.31 432.68 L748.56 432.73 L748.81 432.78 L749.06 432.82 L749.31 432.85 L749.56 432.89 L749.81 432.92 L750.06 432.96 L750.31 432.99 L750.56 433.02 L750.81 433.05 L751.06 433.08 L751.31 433.11 L751.56 433.14 L751.81 433.17 L752.06 433.19 L752.31 433.22 L752.56 433.24 L752.81 433.27 L753.06 433.29 L753.31 433.31 L753.56 433.33 L753.81 433.34 L754.06 433.36 L754.31 433.37 L754.56 433.39 L754.81 433.40 L755.06 433.41 L755.31 433.42 L755.56 433.43 L755.81 433.43 L756.06 433.44 L756.31 433.44 L756.56 433.45 L756.81 433.45 L757.06 433.45 L757.31 433.45 L757.56 433.45 L757.81 433.45 L758.06 433.45 L758.31 433.45 L758.56 433.44 L758.81 433.44 L759.06 433.44 L759.31 433.43 L759.56 433.43 L759.81 433.42 L760.06 433.41 L760.31 433.41 L760.56 433.40 L760.81 433.39 L761.06 433.39 L761.31 433.38 L761.56 433.37 L761.81 433.36 L762.06 433.35 L762.31 433.35 L762.56 433.34 L762.81 433.33 L763.06 433.32 L763.31 433.31 L763.56 433.30 L763.81 433.29 L764.06 433.28 L764.31 433.27 L764.56 433.26 L764.81 433.25 L765.06 433.24 L765.31 433.23 L765.56 433.22 L765.81 433.21 L766.06 433.20 L766.31 433.19 L766.56 433.18 L766.81 433.17 L767.06 433.16 L767.31 433.15 L767.56 433.14 L767.81 433.13 L768.06 433.12 L768.31 433.11 L768.56 433.10 L768.81 433.09 L769.06 433.08 L769.31 433.07 L769.56 433.06 L769.81 433.05 L770.06 433.04 L770.31 433.03 L770.56 433.01 L770.81 433.00 L771.06 432.99 L771.31 432.98 L771.56 432.97 L771.81 432.96 L772.06 432.95 L772.31 432.94 L772.56 432.94 L772.81 432.93 L773.06 432.92 L773.31 432.91 L773.56 432.91 L773.81 432.90 L774.06 432.89 L774.31 432.88 L774.56 432.88 L774.81 432.87 L775.06 432.86 L775.31 432.85 L775.56 432.85 L775.81 432.84 L776.06 432.83 L776.31 432.82 L776.56 432.82 L776.81 432.81 L777.06 432.80 L777.31 432.79 L777.56 432.78 L777.81 432.78 L778.06 432.77 L778.31 432.76 L778.56 432.75 L778.81 432.75 L779.06 432.74 L779.31 432.73 L779.56 432.72 L779.81 432.71 L780.06 432.71 L780.31 432.70 L780.56 432.69 L780.81 432.68 L781.06 432.67 L781.31 432.66 L781.56 432.65 L781.81 432.64 L782.06 432.63 L782.31 432.62 L782.56 432.61 L782.81 432.59 L783.06 432.58 L783.31 432.56 L783.56 432.55 L783.81 432.53 L784.06 432.51 L784.31 432.48 L784.56 432.46 L784.81 432.43 L785.06 432.40 L785.31 432.36 L785.56 432.32 L785.81 432.28 L786.06 432.24 L786.31 432.19 L786.56 432.14 L786.81 432.09 L787.06 432.04 L787.31 431.98 L787.56 431.93 L787.81 431.87 L788.06 431.81 L788.31 431.75 L788.56 431.70 L788.81 431.65 L789.06 431.60 L789.31 431.55 L789.56 431.51 L789.81 431.48 L790.06 431.45 L790.31 431.42 L790.56 431.41 L790.81 431.40 L791.06 431.40 L791.31 431.40 L791.56 431.40 L791.81 431.41 L792.06 431.43 L792.31 431.45 L792.56 431.47 L792.81 431.49 L793.06 431.52 L793.31 431.55 L793.56 431.58 L793.81 431.61 L794.06 431.65 L794.31 431.68 L794.56 431.72 L794.81 431.76 L795.06 431.79 L795.31 431.83 L795.56 431.86 L795.81 431.89 L796.06 431.92 L796.31 431.95 L796.56 431.98 L796.81 432.01 L797.06 432.03 L797.31 432.05 L797.56 432.07 L797.81 432.09 L798.06 432.11 L798.31 432.12 L798.56 432.14 L798.81 432.15 L799.06 432.16 L799.31 432.16 L799.56 432.17 L799.81 432.17 L800.06 432.18 L800.31 432.18 L800.56 432.18 L800.81 432.18 L801.06 432.18 L801.31 432.18 L801.56 432.17 L801.81 432.17 L802.06 432.17 L802.31 432.16 L802.56 432.15 L802.81 432.15 L803.06 432.14 L803.31 432.15 L803.56 432.17 L803.81 432.18 L804.06 432.18 L804.31 432.19 L804.56 432.20 L804.81 432.20 L805.06 432.21 L805.31 432.21 L805.56 432.21 L805.81 432.22 L806.06 432.22 L806.31 432.21 L806.56 432.21 L806.81 432.21 L807.06 432.20 L807.31 432.20 L807.56 432.19 L807.81 432.18 L808.06 432.17 L808.31 432.16 L808.56 432.15 L808.81 432.14 L809.06 432.12 L809.31 432.11 L809.56 432.10 L809.81 432.08 L810.06 432.06 L810.31 432.03 L810.56 431.99 L810.81 431.93 L811.06 431.83 L811.31 431.67 L811.56 431.42 L811.81 431.08 L812.06 430.61 L812.31 430.04 L812.56 429.37 L812.81 428.66 L813.06 427.98 L813.31 427.42 L813.56 427.06 L813.81 426.95 L814.06 427.06 L814.31 427.34 L814.56 427.75 L814.81 428.28 L815.06 428.86 L815.31 429.45 L815.56 430.03 L815.81 430.56 L816.06 431.01 L816.31 431.40 L816.56 431.70 L816.81 431.94 L817.06 432.13 L817.31 432.27 L817.56 432.37 L817.81 432.45 L818.06 432.52 L818.31 432.57 L818.56 432.62 L818.81 432.66 L819.06 432.70 L819.31 432.74 L819.56 432.78 L819.81 432.82 L820.06 432.86 L820.31 432.90 L820.56 432.94 L820.81 432.98 L821.06 433.01 L821.31 433.05 L821.56 433.08 L821.81 433.12 L822.06 433.15 L822.31 433.19 L822.56 433.22 L822.81 433.25 L823.06 433.28 L823.31 433.31 L823.56 433.34 L823.81 433.37 L824.06 433.40 L824.31 433.42 L824.56 433.45 L824.81 433.48 L825.06 433.50 L825.31 433.52 L825.56 433.55 L825.81 433.57 L826.06 433.59 L826.31 433.61 L826.56 433.64 L826.81 433.66 L827.06 433.68 L827.31 433.69 L827.56 433.71 L827.81 433.73 L828.06 433.75 L828.31 433.77 L828.56 433.79 L828.81 433.80 L829.06 433.82 L829.31 433.83 L829.56 433.85 L829.81 433.87 L830.06 433.88 L830.31 433.87 L830.56 433.87 L830.81 433.87 L831.06 433.87 L831.31 433.87 L831.56 433.86 L831.81 433.85 L832.06 433.85 L832.31 433.84 L832.56 433.83 L832.81 433.82 L833.06 433.80 L833.31 433.79 L833.56 433.77 L833.81 433.75 L834.06 433.73 L834.31 433.71 L834.56 433.68 L834.81 433.66 L835.06 433.62 L835.31 433.59 L835.56 433.55 L835.81 433.52 L836.06 433.47 L836.31 433.43 L836.56 433.38 L836.81 433.33 L837.06 433.28 L837.31 433.23 L837.56 433.18 L837.81 433.12 L838.06 433.06 L838.31 433.00 L838.56 432.93 L838.81 432.84 L839.06 432.72 L839.31 432.55 L839.56 432.27 L839.81 431.84 L840.06 431.20 L840.31 430.31 L840.56 429.19 L840.81 427.90 L841.06 426.57 L841.31 425.41 L841.56 424.62 L841.81 424.33 L842.06 424.51 L842.31 425.03 L842.56 425.81 L842.81 426.78 L843.06 427.80 L843.31 428.80 L843.56 429.70 L843.81 430.45 L844.06 431.05 L844.31 431.49 L844.56 431.80 L844.81 432.00 L845.06 432.13 L845.31 432.20 L845.56 432.21 L845.81 432.18 L846.06 432.07 L846.31 431.88 L846.56 431.56 L846.81 431.10 L847.06 430.51 L847.31 429.81 L847.56 429.10 L847.81 428.49 L848.06 428.07 L848.31 427.96 L848.56 428.10 L848.81 428.44 L849.06 428.93 L849.31 429.51 L849.56 430.14 L849.81 430.75 L850.06 431.30 L850.31 431.76 L850.56 432.13 L850.81 432.41 L851.06 432.62 L851.31 432.76 L851.56 432.86 L851.81 432.93 L852.06 432.99 L852.31 433.03 L852.56 433.06 L852.81 433.08 L853.06 433.10 L853.31 433.12 L853.56 433.12 L853.81 433.12 L854.06 433.09 L854.31 433.03 L854.56 432.95 L854.81 432.82 L855.06 432.64 L855.31 432.44 L855.56 432.21 L855.81 431.99 L856.06 431.81 L856.31 431.68 L856.56 431.63 L856.81 431.67 L857.06 431.76 L857.31 431.90 L857.56 432.08 L857.81 432.28 L858.06 432.49 L858.31 432.69 L858.56 432.87 L858.81 433.04 L859.06 433.17 L859.31 433.28 L859.56 433.37 L859.81 433.43 L860.06 433.48 L860.31 433.51 L860.56 433.54 L860.81 433.56 L861.06 433.57 L861.31 433.59 L861.56 433.60 L861.81 433.61 L862.06 433.61 L862.31 433.62 L862.56 433.63 L862.81 433.63 L863.06 433.64 L863.31 433.65 L863.56 433.65 L863.81 433.66 L864.06 433.66 L864.31 433.67 L864.56 433.67 L864.81 433.67 L865.06 433.68 L865.31 433.69 L865.56 433.70 L865.81 433.71 L866.06 433.72 L866.31 433.73 L866.56 433.73 L866.81 433.74 L867.06 433.75 L867.31 433.75 L867.56 433.76 L867.81 433.76 L868.06 433.77 L868.31 433.77 L868.56 433.78 L868.81 433.78 L869.06 433.78 L869.31 433.79 L869.56 433.79 L869.81 433.79 L870.06 433.80 L870.31 433.80 L870.56 433.80 L870.81 433.79 L871.06 433.79 L871.31 433.77 L871.56 433.76 L871.81 433.73 L872.06 433.69 L872.31 433.64 L872.56 433.57 L872.81 433.50 L873.06 433.40 L873.31 433.30 L873.56 433.19 L873.81 433.08 L874.06 432.98 L874.31 432.90 L874.56 432.84 L874.81 432.80 L875.06 432.80 L875.31 432.82 L875.56 432.86 L875.81 432.92 L876.06 433.00 L876.31 433.09 L876.56 433.18 L876.81 433.28 L877.06 433.38 L877.31 433.47 L877.56 433.56 L877.81 433.64 L878.06 433.72 L878.31 433.78 L878.56 433.84 L878.81 433.88 L879.06 433.92 L879.31 433.95 L879.56 433.98 L879.81 434.00 L880.06 434.02 L880.31 434.03 L880.56 434.05 L880.81 434.06 L881.06 434.07 L881.31 434.07 L881.56 434.08 L881.81 434.09 L882.06 434.10 L882.31 434.10 L882.56 434.11 L882.81 434.11 L883.06 434.12 L883.31 434.12 L883.56 434.12 L883.81 434.13 L884.06 434.13 L884.31 434.13 L884.56 434.13 L884.81 434.13 L885.06 434.13 L885.31 434.13 L885.56 434.12 L885.81 434.12 L886.06 434.12 L886.31 434.12 L886.56 434.11 L886.81 434.11 L887.06 434.10 L887.31 434.10 L887.56 434.09 L887.81 434.08 L888.06 434.07 L888.31 434.06 L888.56 434.04 L888.81 434.00 L889.06 433.95 L889.31 433.86 L889.56 433.72 L889.81 433.54 L890.06 433.30 L890.31 433.01 L890.56 432.69 L890.81 432.36 L891.06 432.06 L891.31 431.83 L891.56 431.70 L891.81 431.70 L892.06 431.78 L892.31 431.94 L892.56 432.16 L892.81 432.41 L893.06 432.69 L893.31 432.97 L893.56 433.23 L893.81 433.46 L894.06 433.66 L894.31 433.83 L894.56 433.96 L894.81 434.06 L895.06 434.13 L895.31 434.19 L895.56 434.24 L895.81 434.27 L896.06 434.30 L896.31 434.32 L896.56 434.34 L896.81 434.36 L897.06 434.38 L897.31 434.40 L897.56 434.41 L897.81 434.43 L898.06 434.45 L898.31 434.46 L898.56 434.48 L898.81 434.50 L899.06 434.51 L899.31 434.53 L899.56 434.55 L899.81 434.56 L900.06 434.58 L900.31 434.59 L900.56 434.60 L900.81 434.62 L901.06 434.63 L901.31 434.64 L901.56 434.65 L901.81 434.66 L902.06 434.67 L902.31 434.68 L902.56 434.69 L902.81 434.70 L903.06 434.70 L903.31 434.71 L903.56 434.71 L903.81 434.71 L904.06 434.71 L904.31 434.71 L904.56 434.71 L904.81 434.70 L905.06 434.70 L905.31 434.69 L905.56 434.68 L905.81 434.66 L906.06 434.65 L906.31 434.63 L906.56 434.61 L906.81 434.59 L907.06 434.57 L907.31 434.55 L907.56 434.52 L907.81 434.50 L908.06 434.46 L908.31 434.39 L908.56 434.26 L908.81 434.03 L909.06 433.64 L909.31 433.08 L909.56 432.39 L909.81 431.70 L910.06 431.18 L910.31 431.00 L910.56 431.15 L910.81 431.52 L911.06 432.05 L911.31 432.64 L911.56 433.19 L911.81 433.65 L912.06 434.00 L912.31 434.25 L912.56 434.41 L912.81 434.51 L913.06 434.58 L913.31 434.63 L913.56 434.66 L913.81 434.70 L914.06 434.73 L914.31 434.76 L914.56 434.79 L914.81 434.82 L915.06 434.84 L915.31 434.87 L915.56 434.90 L915.81 434.92 L916.06 434.95 L916.31 434.97 L916.56 434.99 L916.81 435.01 L917.06 435.03 L917.31 435.04 L917.56 435.06 L917.81 435.08 L918.06 435.09 L918.31 435.10 L918.56 435.11 L918.81 435.12 L919.06 435.13 L919.31 435.14 L919.56 435.14 L919.81 435.14 L920.06 435.14 L920.31 435.14 L920.56 435.13 L920.81 435.12 L921.06 435.11 L921.31 435.10 L921.56 435.08 L921.81 435.06 L922.06 435.04 L922.31 435.02 L922.56 434.99 L922.81 434.96 L923.06 434.93 L923.31 434.90 L923.56 434.86 L923.81 434.82 L924.06 434.78 L924.31 434.73 L924.56 434.68 L924.81 434.64 L925.06 434.59 L925.31 434.53 L925.56 434.48 L925.81 434.42 L926.06 434.36 L926.31 434.27 L926.56 434.15 L926.81 433.94 L927.06 433.61 L927.31 433.08 L927.56 432.31 L927.81 431.28 L928.06 430.06 L928.31 428.78 L928.56 427.67 L928.81 426.95 L929.06 426.79 L929.31 427.06 L929.56 427.68 L929.81 428.55 L930.06 429.55 L930.31 430.56 L930.56 431.48 L930.81 432.27 L931.06 432.89 L931.31 433.34 L931.56 433.66 L931.81 433.87 L932.06 434.00 L932.31 434.09 L932.56 434.14 L932.81 434.18 L933.06 434.21 L933.31 434.24 L933.56 434.26 L933.81 434.28 L934.06 434.29 L934.31 434.28 L934.56 434.25 L934.81 434.17 L935.06 434.00 L935.31 433.72 L935.56 433.34 L935.81 432.88 L936.06 432.43 L936.31 432.09 L936.56 431.95 L936.81 432.03 L937.06 432.26 L937.31 432.61 L937.56 433.01 L937.81 433.43 L938.06 433.81 L938.31 434.12 L938.56 434.36 L938.81 434.54 L939.06 434.66 L939.31 434.74 L939.56 434.79 L939.81 434.83 L940.06 434.86 L940.31 434.89 L940.56 434.91 L940.81 434.93 L941.06 434.95 L941.31 434.97 L941.56 434.99 L941.81 435.01 L942.06 435.03 L942.31 435.04 L942.56 435.06 L942.81 435.07 L943.06 435.08 L943.31 435.10 L943.56 435.11 L943.81 435.12 L944.06 435.13 L944.31 435.13 L944.56 435.14 L944.81 435.15 L945.06 435.16 L945.31 435.16 L945.56 435.17 L945.81 435.17 L946.06 435.18 L946.31 435.18 L946.56 435.18 L946.81 435.18 L947.06 435.19 L947.31 435.19 L947.56 435.19 L947.81 435.19 L948.06 435.19 L948.31 435.19 L948.56 435.20 L948.81 435.20 L949.06 435.20 L949.31 435.20 L949.56 435.20 L949.81 435.20 L950.06 435.20 L950.31 435.20 L950.56 435.20 L950.81 435.20 L951.06 435.20 L951.31 435.20 L951.56 435.20 L951.81 435.20 L952.06 435.20 L952.31 435.20 L952.56 435.20 L952.81 435.20 L953.06 435.20 L953.31 435.20 L953.56 435.20 L953.81 435.20 L954.06 435.20 L954.31 435.20 L954.56 435.20 L954.81 435.20 L955.06 435.20 L955.31 435.20 L955.56 435.20 L955.81 435.20 L956.06 435.20 L956.31 435.20 L956.56 435.20 L956.81 435.20 L957.06 435.20 L957.31 435.20 L957.56 435.20 L957.81 435.20 L958.06 435.19 L958.31 435.17 L958.56 435.15 L958.81 435.13 L959.06 435.11 L959.31 435.08 L959.56 435.06 L959.81 435.04 L960.06 435.02 L960.31 434.99 L960.56 434.97 L960.81 434.95 L961.06 434.93 L961.31 434.91 L961.56 434.88 L961.81 434.86 L962.06 434.84 L962.31 434.82 L962.56 434.79 L962.81 434.77 L963.06 434.75 L963.31 434.73 L963.56 434.71 L963.81 434.68 L964.06 434.66 L964.31 434.64 L964.56 434.62 L964.81 434.59 L965.06 434.57 L965.31 434.55 L965.56 434.53 L965.81 434.51 L966.06 434.48 L966.31 434.46 L966.56 434.44 L966.81 434.42 L967.06 434.39 L967.31 434.37 L967.56 434.35 L967.81 434.33 L968.06 434.31 L968.31 434.28 L968.56 434.26 L968.81 434.24 L969.06 434.22 L969.31 434.19 L969.56 434.17 L969.81 434.15 L970.06 434.13 L970.31 434.11 L970.56 434.08 L970.81 434.06 L971.06 434.04 L971.31 434.02 L971.56 433.99 L971.81 433.97 L972.06 433.95 L972.31 433.93 L972.56 433.90 L972.81 433.88 L973.06 433.86 L973.31 433.84 L973.56 433.82 L973.81 433.79 L974.06 433.77 L974.31 433.75 L974.56 433.73 L974.81 433.70 L975.06 433.68 L975.31 433.66 L975.56 433.63 L975.81 433.61 L976.06 433.59 L976.31 433.57 L976.56 433.54 L976.81 433.52 L977.06 433.50 L977.31 433.47 L977.56 433.45 L977.81 433.43 L978.06 433.40 L978.31 433.38 L978.56 433.35 L978.81 433.33 L979.06 433.30 L979.31 433.28 L979.56 433.26 L979.81 433.23 L980.06 433.20 L980.31 433.18 L980.56 433.15 L980.81 433.13 L981.06 433.10 L981.31 433.07 L981.56 433.04 L981.81 433.01 L982.06 432.98 L982.31 432.95 L982.56 432.92 L982.81 432.89 L983.06 432.86 L983.31 432.82 L983.56 432.79 L983.81 432.75 L984.06 432.71 L984.31 432.67 L984.56 432.62 L984.81 432.57 L985.06 432.53 L985.31 432.52 L985.56 432.50 L985.81 432.47 L986.06 432.44 L986.31 432.40 L986.56 432.35 L986.81 432.30 L987.06 432.23 L987.31 432.16 L987.56 432.07 L987.81 431.96 L988.06 431.84 L988.31 431.70 L988.56 431.53 L988.81 431.33 L989.06 431.10 L989.31 430.83 L989.56 430.51 L989.81 430.15 L990.06 429.73 L990.31 429.26 L990.56 428.74 L990.81 428.18 L991.06 427.57 L991.31 426.95 L991.56 426.31 L991.81 425.68 L992.06 425.07 L992.31 424.48 L992.56 423.92 L992.81 423.38 L993.06 422.85 L993.31 422.33 L993.56 421.81 L993.81 421.30 L994.06 420.79 L994.31 420.26 L994.56 419.70 L994.81 419.10 L995.06 418.39 L995.31 417.50 L995.56 416.25 L995.81 414.42 L996.06 411.62 L996.31 407.40 L996.56 401.19 L996.81 392.48 L997.06 380.94 L997.31 366.60 L997.56 350.04 L997.81 332.50 L998.06 322.00 L998.31 322.00 L998.56 322.00 L998.81 322.00 L999.06 322.00 L999.31 322.00 L999.56 322.00 L999.81 325.72 L1000.06 341.13 L1000.31 356.43 L1000.56 370.55 L1000.81 382.79 L1001.06 392.81 L1001.31 400.63 L1001.56 406.47 L1001.81 410.68 L1002.06 413.61 L1002.31 415.62 L1002.56 416.95 L1002.81 417.78 L1003.06 418.25 L1003.31 418.44 L1003.56 418.44 L1003.81 418.37 L1004.06 418.38 L1004.31 418.61 L1004.56 419.15 L1004.81 419.94 L1005.06 420.92 L1005.31 422.03 L1005.56 423.20 L1005.81 424.36 L1006.06 425.45 L1006.31 426.44 L1006.56 427.31 L1006.81 428.06 L1007.06 428.70 L1007.31 429.26 L1007.56 429.75 L1007.81 430.20 L1008.06 430.59 L1008.31 430.96 L1008.56 431.29 L1008.81 431.60 L1009.06 431.89 L1009.31 432.16 L1009.56 432.41 L1009.81 432.64 L1010.06 432.85 L1010.31 433.04 L1010.56 433.22 L1010.81 433.39 L1011.06 433.54 L1011.31 433.68 L1011.56 433.80 L1011.81 433.92 L1012.06 434.02 L1012.31 434.11 L1012.56 434.20 L1012.81 434.28 L1013.06 434.35 L1013.31 434.41 L1013.56 434.47 L1013.81 434.52 L1014.06 434.57 L1014.31 434.61 L1014.56 434.65 L1014.81 434.68 L1015.06 434.72 L1015.31 434.74 L1015.56 434.77 L1015.81 434.80 L1016.06 434.82 L1016.31 434.84 L1016.56 434.86 L1016.81 434.88 L1017.06 434.90 L1017.31 434.91 L1017.56 434.93 L1017.81 434.95 L1018.06 434.96 L1018.31 434.98 L1018.56 434.99 L1018.81 435.00 L1019.06 435.02 L1019.31 435.03 L1019.56 435.04 L1019.81 435.05 L1020.06 435.07 L1020.31 435.08 L1020.56 435.09 L1020.81 435.10 L1021.06 435.12 L1021.31 435.13 L1021.56 435.14 L1021.81 435.15 L1022.06 435.16 L1022.31 435.18 L1022.56 435.19 L1022.81 435.20 L1023.06 435.21 L1023.31 435.22 L1023.56 435.23 L1023.81 435.25 L1024.06 435.26 L1024.31 435.27 L1024.56 435.28 L1024.81 435.29 L1025.06 435.31 L1025.31 435.32 L1025.56 435.33 L1025.81 435.34 L1026.06 435.35 L1026.31 435.36 L1026.56 435.38 L1026.81 435.39 L1027.06 435.40 L1027.31 435.41 L1027.56 435.42 L1027.81 435.44 L1028.06 435.45 L1028.31 435.46 L1028.56 435.47 L1028.81 435.48 L1029.06 435.49 L1029.31 435.51 L1029.56 435.52 L1029.81 435.53 L1030.06 435.54 L1030.31 435.55 L1030.56 435.57 L1030.81 435.58 L1031.06 435.59 L1031.31 435.60 L1031.56 435.61 L1031.81 435.62 L1032.06 435.64 L1032.31 435.65 L1032.56 435.66 L1032.81 435.67 L1033.06 435.68 L1033.31 435.70 L1033.56 435.71 L1033.81 435.72 L1034.06 435.73 L1034.31 435.74 L1034.56 435.75 L1034.81 435.77 L1035.06 435.78 L1035.31 435.79 L1035.56 435.80 L1035.81 435.81 L1036.06 435.83 L1036.31 435.84 L1036.56 435.85 L1036.81 435.86 L1037.06 435.87 L1037.31 435.88 L1037.56 435.90 L1037.81 435.91 L1038.06 435.92 L1038.31 435.93 L1038.56 435.94 L1038.81 435.95 L1039.06 435.97 L1039.31 435.98 L1039.56 435.99 L1039.81 436.00 L1040.06 436.01 L1040.31 436.03 L1040.56 436.04 L1040.81 436.05 L1041.06 436.06 L1041.31 436.07 L1041.56 436.08 L1041.81 436.10 L1042.06 436.11 L1042.31 436.12 L1042.56 436.13 L1042.81 436.14 L1043.06 436.16 L1043.31 436.17 L1043.56 436.18 L1043.81 436.19 L1044.06 436.20 L1044.31 436.20 L1044.56 436.20" fill="none" stroke="#4672aa" stroke-width="1.7" stroke-linejoin="round"/>
<text x="37.8" y="109.9" font-family="Liberation Sans" font-style="italic" font-size="16" fill="#222">F. avenaceum</text>
<text x="38.5" y="249.2" font-family="Liberation Sans" font-style="italic" font-size="16" fill="#222">F. graminearum</text>
<text x="38.5" y="387" font-family="Liberation Sans" font-style="italic" font-size="16" fill="#222">F. pseudograminearum</text>
<text x="607" y="104.3" font-family="Liberation Sans" font-style="italic" font-size="16" fill="#222">F. poae</text>
<text x="610.3" y="249.2" font-family="Liberation Sans" font-style="italic" font-size="16" fill="#222">F. solani</text>
<text x="610" y="388.4" font-family="Liberation Sans" font-style="italic" font-size="16" fill="#222">F. oxysporum</text>
<text x="29.85" y="455.6" font-family="Liberation Sans" font-size="16.9" fill="#111" text-anchor="middle">0</text>
<text x="596.85" y="455.6" font-family="Liberation Sans" font-size="16.9" fill="#111" text-anchor="middle">0</text>
<text x="119.49000000000001" y="455.6" font-family="Liberation Sans" font-size="16.9" fill="#111" text-anchor="middle">2</text>
<text x="686.5500000000001" y="455.6" font-family="Liberation Sans" font-size="16.9" fill="#111" text-anchor="middle">2</text>
<text x="209.13" y="455.6" font-family="Liberation Sans" font-size="16.9" fill="#111" text-anchor="middle">4</text>
<text x="776.25" y="455.6" font-family="Liberation Sans" font-size="16.9" fill="#111" text-anchor="middle">4</text>
<text x="298.77000000000004" y="455.6" font-family="Liberation Sans" font-size="16.9" fill="#111" text-anchor="middle">6</text>
<text x="865.95" y="455.6" font-family="Liberation Sans" font-size="16.9" fill="#111" text-anchor="middle">6</text>
<text x="388.41" y="455.6" font-family="Liberation Sans" font-size="16.9" fill="#111" text-anchor="middle">8</text>
<text x="955.6500000000001" y="455.6" font-family="Liberation Sans" font-size="16.9" fill="#111" text-anchor="middle">8</text>
<text x="468.6" y="456.3" font-family="Liberation Sans" font-size="16.9" fill="#111" text-anchor="start">10 min</text>
<text x="1035.6" y="456.3" font-family="Liberation Sans" font-size="16.9" fill="#111" text-anchor="start">10 min</text>
<text transform="translate(356.1,147.2) rotate(-50) scale(0.9,1)" font-family="Liberation Sans" font-size="10" fill="#1a1a1a" stroke="#1a1a1a" stroke-width="0.4">AUR</text>
<text transform="translate(414.9,88.6) rotate(-50) scale(0.9,1)" font-family="Liberation Sans" font-size="10" fill="#1a1a1a" stroke="#1a1a1a" stroke-width="0.4">Enn B</text>
<text transform="translate(418,128.9) rotate(-50) scale(0.9,1)" font-family="Liberation Sans" font-size="10" fill="#1a1a1a" stroke="#1a1a1a" stroke-width="0.4">Enn B1</text>
<text transform="translate(427.2,156.2) rotate(-50) scale(0.9,1)" font-family="Liberation Sans" font-size="10" fill="#1a1a1a" stroke="#1a1a1a" stroke-width="0.4">Enn A1</text>
<text transform="translate(435.8,158.2) rotate(-50) scale(0.9,1)" font-family="Liberation Sans" font-size="10" fill="#1a1a1a" stroke="#1a1a1a" stroke-width="0.4">Enn A</text>
<text transform="translate(332,218.8) rotate(-50) scale(0.9,1)" font-family="Liberation Sans" font-size="10" fill="#1a1a1a" stroke="#1a1a1a" stroke-width="0.4">ZEA</text>
<text transform="translate(356.8,247.3) rotate(-50) scale(0.9,1)" font-family="Liberation Sans" font-size="10" fill="#1a1a1a" stroke="#1a1a1a" stroke-width="0.4">AUR</text>
<text transform="translate(374.6,247) rotate(-50) scale(0.9,1)" font-family="Liberation Sans" font-size="10" fill="#1a1a1a" stroke="#1a1a1a" stroke-width="0.4">RUB</text>
<text transform="translate(396.4,253) rotate(-50) scale(0.9,1)" font-family="Liberation Sans" font-size="10" fill="#1a1a1a" stroke="#1a1a1a" stroke-width="0.4">?</text>
<text transform="translate(312.7,358) rotate(-50) scale(0.9,1)" font-family="Liberation Sans" font-size="10" fill="#1a1a1a" stroke="#1a1a1a" stroke-width="0.4">Fus C</text>
<text transform="translate(340.7,349.5) rotate(-50) scale(0.9,1)" font-family="Liberation Sans" font-size="10" fill="#1a1a1a" stroke="#1a1a1a" stroke-width="0.4">ZEA</text>
<text transform="translate(355.6,372.8) rotate(-50) scale(0.9,1)" font-family="Liberation Sans" font-size="10" fill="#1a1a1a" stroke="#1a1a1a" stroke-width="0.4">AUR</text>
<text transform="translate(374.7,405.5) rotate(-50) scale(0.9,1)" font-family="Liberation Sans" font-size="10" fill="#1a1a1a" stroke="#1a1a1a" stroke-width="0.4">RUB</text>
<text transform="translate(445.8,372.2) rotate(-50) scale(0.9,1)" font-family="Liberation Sans" font-size="10" fill="#1a1a1a" stroke="#1a1a1a" stroke-width="0.4">W493-B</text>
<text transform="translate(933.3,80.8) rotate(-50) scale(0.9,1)" font-family="Liberation Sans" font-size="10" fill="#1a1a1a" stroke="#1a1a1a" stroke-width="0.4">AUR</text>
<text transform="translate(939.3,133.2) rotate(-50) scale(0.9,1)" font-family="Liberation Sans" font-size="10" fill="#1a1a1a" stroke="#1a1a1a" stroke-width="0.4">RUB?</text>
<text transform="translate(1003.6,89.4) rotate(-50) scale(0.9,1)" font-family="Liberation Sans" font-size="10" fill="#1a1a1a" stroke="#1a1a1a" stroke-width="0.4">BEA</text>
<text transform="translate(873.1,237.3) rotate(-50) scale(0.9,1)" font-family="Liberation Sans" font-size="10" fill="#1a1a1a" stroke="#1a1a1a" stroke-width="0.4">Fsr</text>
<text transform="translate(890.9,182.1) rotate(-50) scale(0.9,1)" font-family="Liberation Sans" font-size="10" fill="#1a1a1a" stroke="#1a1a1a" stroke-width="0.4">Fsr</text>
<text transform="translate(910.7,212.9) rotate(-50) scale(0.9,1)" font-family="Liberation Sans" font-size="10" fill="#1a1a1a" stroke="#1a1a1a" stroke-width="0.4">Fsr</text>
<text transform="translate(930.6,422.9) rotate(-50) scale(0.9,1)" font-family="Liberation Sans" font-size="8.4" fill="#1a1a1a" stroke="#1a1a1a" stroke-width="0.4">BIK</text>
<text transform="translate(936,429) rotate(-50) scale(0.9,1)" font-family="Liberation Sans" font-size="8.2" fill="#1a1a1a" stroke="#1a1a1a" stroke-width="0.4">?</text>
<text transform="translate(998.2,319.2) rotate(-50) scale(0.9,1)" font-family="Liberation Sans" font-size="9.6" fill="#1a1a1a" stroke="#1a1a1a" stroke-width="0.4">BEA</text>
</svg></body></html>
